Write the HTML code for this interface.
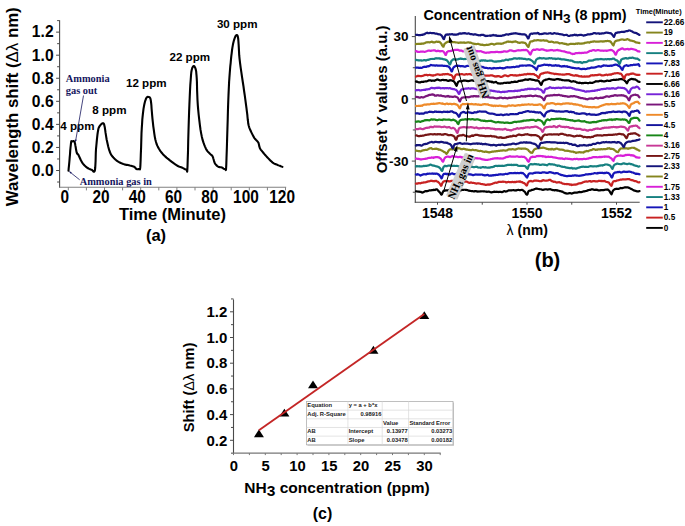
<!DOCTYPE html>
<html><head><meta charset="utf-8"><style>
html,body{margin:0;padding:0;background:#fff;width:685px;height:526px;overflow:hidden}
svg{display:block}

</style></head><body>
<svg width="685" height="526" viewBox="0 0 685 526"><line x1="59.60" y1="20.30" x2="59.60" y2="187.70" stroke="#4a4a4a" stroke-width="1.1" />
<line x1="59.10" y1="187.20" x2="286.20" y2="187.20" stroke="#808080" stroke-width="1.1" />
<line x1="57.10" y1="182.03" x2="59.60" y2="182.03" stroke="#4a4a4a" stroke-width="1.0" />
<line x1="56.10" y1="170.50" x2="59.60" y2="170.50" stroke="#4a4a4a" stroke-width="1.0" />
<text transform="translate(53.60,175.80) scale(0.92,1)" font-size="17" font-weight="bold" text-anchor="end" fill="#000" font-family='"Liberation Sans", sans-serif' >0.0</text>
<line x1="57.10" y1="158.97" x2="59.60" y2="158.97" stroke="#4a4a4a" stroke-width="1.0" />
<line x1="56.10" y1="147.44" x2="59.60" y2="147.44" stroke="#4a4a4a" stroke-width="1.0" />
<text transform="translate(53.60,152.74) scale(0.92,1)" font-size="17" font-weight="bold" text-anchor="end" fill="#000" font-family='"Liberation Sans", sans-serif' >0.2</text>
<line x1="57.10" y1="135.91" x2="59.60" y2="135.91" stroke="#4a4a4a" stroke-width="1.0" />
<line x1="56.10" y1="124.38" x2="59.60" y2="124.38" stroke="#4a4a4a" stroke-width="1.0" />
<text transform="translate(53.60,129.68) scale(0.92,1)" font-size="17" font-weight="bold" text-anchor="end" fill="#000" font-family='"Liberation Sans", sans-serif' >0.4</text>
<line x1="57.10" y1="112.85" x2="59.60" y2="112.85" stroke="#4a4a4a" stroke-width="1.0" />
<line x1="56.10" y1="101.32" x2="59.60" y2="101.32" stroke="#4a4a4a" stroke-width="1.0" />
<text transform="translate(53.60,106.62) scale(0.92,1)" font-size="17" font-weight="bold" text-anchor="end" fill="#000" font-family='"Liberation Sans", sans-serif' >0.6</text>
<line x1="57.10" y1="89.79" x2="59.60" y2="89.79" stroke="#4a4a4a" stroke-width="1.0" />
<line x1="56.10" y1="78.26" x2="59.60" y2="78.26" stroke="#4a4a4a" stroke-width="1.0" />
<text transform="translate(53.60,83.56) scale(0.92,1)" font-size="17" font-weight="bold" text-anchor="end" fill="#000" font-family='"Liberation Sans", sans-serif' >0.8</text>
<line x1="57.10" y1="66.73" x2="59.60" y2="66.73" stroke="#4a4a4a" stroke-width="1.0" />
<line x1="56.10" y1="55.20" x2="59.60" y2="55.20" stroke="#4a4a4a" stroke-width="1.0" />
<text transform="translate(53.60,60.50) scale(0.92,1)" font-size="17" font-weight="bold" text-anchor="end" fill="#000" font-family='"Liberation Sans", sans-serif' >1.0</text>
<line x1="57.10" y1="43.67" x2="59.60" y2="43.67" stroke="#4a4a4a" stroke-width="1.0" />
<line x1="56.10" y1="32.14" x2="59.60" y2="32.14" stroke="#4a4a4a" stroke-width="1.0" />
<text transform="translate(53.60,37.44) scale(0.92,1)" font-size="17" font-weight="bold" text-anchor="end" fill="#000" font-family='"Liberation Sans", sans-serif' >1.2</text>
<line x1="57.10" y1="20.61" x2="59.60" y2="20.61" stroke="#4a4a4a" stroke-width="1.0" />
<line x1="68.30" y1="187.20" x2="68.30" y2="190.40" stroke="#808080" stroke-width="1.0" />
<text transform="translate(64.90,203.00) scale(0.88,1)" font-size="17.5" font-weight="bold" text-anchor="middle" fill="#000" font-family='"Liberation Sans", sans-serif' >0</text>
<line x1="86.40" y1="187.20" x2="86.40" y2="190.40" stroke="#808080" stroke-width="1.0" />
<line x1="104.50" y1="187.20" x2="104.50" y2="190.40" stroke="#808080" stroke-width="1.0" />
<text transform="translate(101.10,203.00) scale(0.88,1)" font-size="17.5" font-weight="bold" text-anchor="middle" fill="#000" font-family='"Liberation Sans", sans-serif' >20</text>
<line x1="122.60" y1="187.20" x2="122.60" y2="190.40" stroke="#808080" stroke-width="1.0" />
<line x1="140.70" y1="187.20" x2="140.70" y2="190.40" stroke="#808080" stroke-width="1.0" />
<text transform="translate(137.30,203.00) scale(0.88,1)" font-size="17.5" font-weight="bold" text-anchor="middle" fill="#000" font-family='"Liberation Sans", sans-serif' >40</text>
<line x1="158.80" y1="187.20" x2="158.80" y2="190.40" stroke="#808080" stroke-width="1.0" />
<line x1="176.90" y1="187.20" x2="176.90" y2="190.40" stroke="#808080" stroke-width="1.0" />
<text transform="translate(173.50,203.00) scale(0.88,1)" font-size="17.5" font-weight="bold" text-anchor="middle" fill="#000" font-family='"Liberation Sans", sans-serif' >60</text>
<line x1="195.00" y1="187.20" x2="195.00" y2="190.40" stroke="#808080" stroke-width="1.0" />
<line x1="213.10" y1="187.20" x2="213.10" y2="190.40" stroke="#808080" stroke-width="1.0" />
<text transform="translate(209.70,203.00) scale(0.88,1)" font-size="17.5" font-weight="bold" text-anchor="middle" fill="#000" font-family='"Liberation Sans", sans-serif' >80</text>
<line x1="231.20" y1="187.20" x2="231.20" y2="190.40" stroke="#808080" stroke-width="1.0" />
<line x1="249.30" y1="187.20" x2="249.30" y2="190.40" stroke="#808080" stroke-width="1.0" />
<text transform="translate(245.90,203.00) scale(0.88,1)" font-size="17.5" font-weight="bold" text-anchor="middle" fill="#000" font-family='"Liberation Sans", sans-serif' >100</text>
<line x1="267.40" y1="187.20" x2="267.40" y2="190.40" stroke="#808080" stroke-width="1.0" />
<line x1="285.50" y1="187.20" x2="285.50" y2="190.40" stroke="#808080" stroke-width="1.0" />
<text transform="translate(282.10,203.00) scale(0.88,1)" font-size="17.5" font-weight="bold" text-anchor="middle" fill="#000" font-family='"Liberation Sans", sans-serif' >120</text>
<text x="172.40" y="219.90" font-size="16.5" font-weight="bold" text-anchor="middle" fill="#000" font-family='"Liberation Sans", sans-serif' textLength="107" lengthAdjust="spacingAndGlyphs" >Time (Minute)</text>
<text x="156.00" y="240.50" font-size="16.5" font-weight="bold" text-anchor="middle" fill="#000" font-family='"Liberation Sans", sans-serif' >(a)</text>
<text transform="translate(18.4,206.3) rotate(-90)" font-size="16.5" font-weight="bold" font-family='"Liberation Sans", sans-serif' textLength="199" lengthAdjust="spacingAndGlyphs">Wavelength shift (<tspan font-weight="normal">&#916;&#955;</tspan> nm)</text>
<polyline points="68.5,170.60 68.6,169.52 68.7,168.09 68.9,166.36 69.1,164.40 69.3,162.26 69.5,160.00 69.7,157.36 70.0,154.23 70.2,150.93 70.5,147.76 70.8,145.01 71.0,143.00 71.2,141.83 71.3,141.27 71.5,141.15 71.6,141.27 71.8,141.45 72.1,141.50 72.4,141.36 72.8,141.18 73.3,141.05 73.7,141.09 74.2,141.40 74.6,142.10 75.0,143.37 75.3,145.17 75.7,147.24 76.0,149.34 76.4,151.21 76.7,152.60 77.0,153.39 77.2,153.76 77.4,153.91 77.7,154.01 78.0,154.28 78.4,154.90 78.9,155.94 79.5,157.27 80.2,158.76 80.9,160.27 81.7,161.70 82.4,162.90 83.1,163.89 83.9,164.77 84.6,165.56 85.4,166.27 86.1,166.91 86.9,167.50 87.7,168.02 88.5,168.47 89.3,168.85 90.1,169.17 90.8,169.45 91.5,169.70 92.2,170.14 92.8,170.82 93.4,171.46 94.0,171.77 94.5,171.47 94.9,170.30 95.2,167.99 95.4,164.73 95.6,160.86 95.7,156.74 95.8,152.74 96.0,149.20 96.3,145.99 96.6,142.78 96.9,139.69 97.2,136.81 97.5,134.24 97.8,132.10 98.1,130.46 98.3,129.26 98.5,128.38 98.8,127.69 99.1,127.07 99.5,126.40 100.0,125.65 100.6,124.91 101.2,124.24 101.8,123.70 102.4,123.33 102.9,123.20 103.3,123.25 103.6,123.42 103.8,123.77 104.1,124.35 104.3,125.21 104.6,126.40 104.9,128.04 105.2,130.10 105.5,132.45 105.9,134.93 106.3,137.40 106.7,139.70 107.2,141.93 107.7,144.22 108.2,146.50 108.8,148.69 109.4,150.71 110.1,152.50 110.8,154.02 111.6,155.34 112.5,156.49 113.4,157.52 114.3,158.47 115.3,159.40 116.3,160.29 117.4,161.09 118.6,161.83 119.8,162.49 120.9,163.08 122.1,163.60 123.3,164.03 124.4,164.36 125.6,164.62 126.8,164.85 127.9,165.06 128.9,165.30 129.9,165.54 130.9,165.75 131.8,165.96 132.6,166.17 133.4,166.41 134.1,166.70 134.7,167.07 135.1,167.53 135.5,168.01 135.9,168.46 136.2,168.84 136.6,169.10 137.0,169.24 137.5,169.32 138.0,169.32 138.4,169.24 138.8,169.07 139.2,168.80 139.5,168.80 139.7,169.13 139.9,169.38 140.0,169.11 140.2,167.89 140.4,165.30 140.6,160.79 140.8,154.60 141.1,147.46 141.3,140.10 141.5,133.27 141.8,127.70 142.1,123.38 142.3,119.72 142.6,116.59 142.9,113.83 143.2,111.32 143.5,108.90 143.9,106.60 144.3,104.55 144.7,102.73 145.1,101.15 145.6,99.81 146.0,98.70 146.4,97.87 146.9,97.31 147.3,97.00 147.8,96.87 148.2,96.89 148.6,97.00 149.0,97.09 149.4,97.19 149.8,97.42 150.1,97.94 150.5,98.88 150.8,100.40 151.1,102.62 151.4,105.46 151.6,108.73 151.9,112.24 152.2,115.79 152.5,119.20 152.9,122.64 153.3,126.29 153.8,129.98 154.3,133.56 154.8,136.85 155.4,139.70 156.0,142.04 156.6,143.99 157.3,145.66 158.0,147.14 158.8,148.56 159.7,150.00 160.6,151.42 161.7,152.73 162.7,153.96 163.9,155.16 165.1,156.36 166.5,157.60 168.1,158.94 169.9,160.36 171.8,161.79 173.6,163.14 175.3,164.33 176.8,165.30 177.9,165.99 178.9,166.45 179.7,166.76 180.4,166.99 181.1,167.21 181.8,167.50 182.6,167.90 183.5,168.36 184.3,168.81 185.1,169.20 185.8,169.45 186.4,169.50 186.8,169.91 187.0,170.84 187.1,171.64 187.2,171.66 187.3,170.23 187.5,166.70 187.7,160.38 188.0,151.64 188.2,141.46 188.5,130.81 188.8,120.66 189.1,112.00 189.4,104.55 189.7,97.47 190.0,90.90 190.3,84.96 190.7,79.79 191.0,75.50 191.3,72.27 191.7,70.01 192.1,68.52 192.4,67.57 192.8,66.94 193.2,66.40 193.6,66.04 194.0,66.07 194.4,66.41 194.8,67.01 195.2,67.79 195.5,68.70 195.8,69.61 196.0,70.56 196.2,71.69 196.3,73.17 196.5,75.15 196.7,77.80 196.9,81.28 197.0,85.51 197.1,90.24 197.3,95.24 197.5,100.27 197.8,105.10 198.2,109.94 198.7,115.02 199.3,120.13 199.9,125.07 200.5,129.63 201.2,133.60 201.9,136.96 202.6,139.89 203.4,142.43 204.2,144.65 205.0,146.62 205.8,148.40 206.6,149.92 207.4,151.10 208.2,152.03 209.0,152.79 209.7,153.45 210.3,154.10 210.8,154.63 211.2,154.95 211.6,155.18 211.9,155.42 212.2,155.79 212.6,156.40 213.0,157.32 213.3,158.49 213.7,159.78 214.1,161.09 214.5,162.30 214.9,163.30 215.4,164.10 216.0,164.79 216.5,165.39 217.1,165.90 217.7,166.33 218.3,166.70 218.9,166.96 219.4,167.10 220.0,167.16 220.6,167.20 221.1,167.26 221.7,167.40 222.3,167.69 222.9,168.10 223.5,168.53 224.1,168.89 224.7,169.08 225.1,169.00 225.4,169.15 225.6,169.70 225.8,170.08 226.0,169.70 226.1,168.00 226.3,164.40 226.5,158.17 226.8,149.64 227.1,139.79 227.4,129.58 227.7,119.99 227.9,112.00 228.1,105.62 228.3,100.07 228.5,95.15 228.7,90.64 228.9,86.32 229.1,82.00 229.4,77.70 229.7,73.61 230.0,69.72 230.3,66.03 230.7,62.52 231.0,59.20 231.3,56.05 231.7,53.06 232.0,50.27 232.4,47.68 232.8,45.32 233.2,43.20 233.7,41.28 234.2,39.55 234.7,38.04 235.2,36.80 235.7,35.87 236.2,35.30 236.6,35.01 237.0,34.96 237.3,35.22 237.6,35.88 237.9,37.01 238.2,38.70 238.4,41.05 238.6,44.01 238.8,47.46 239.0,51.23 239.2,55.19 239.6,59.20 240.1,63.38 240.7,67.88 241.4,72.56 242.1,77.31 242.8,82.00 243.5,86.50 244.1,91.00 244.8,95.65 245.4,100.23 246.0,104.55 246.5,108.41 246.9,111.60 247.2,113.99 247.4,115.71 247.5,116.97 247.6,117.97 247.7,118.91 247.8,120.00 248.0,121.17 248.1,122.26 248.2,123.28 248.4,124.28 248.6,125.27 248.9,126.30 249.2,127.36 249.6,128.42 250.1,129.49 250.5,130.54 251.0,131.58 251.5,132.60 252.0,133.60 252.5,134.60 253.0,135.58 253.5,136.53 254.0,137.44 254.6,138.30 255.2,139.09 255.9,139.81 256.6,140.49 257.2,141.16 257.8,141.82 258.3,142.50 258.6,143.21 258.8,143.94 259.0,144.67 259.1,145.38 259.2,146.06 259.4,146.70 259.6,147.24 259.7,147.70 259.9,148.12 260.1,148.57 260.4,149.11 260.9,149.80 261.6,150.66 262.4,151.66 263.3,152.75 264.2,153.88 265.2,155.01 266.2,156.10 267.2,157.20 268.3,158.36 269.4,159.51 270.4,160.61 271.5,161.59 272.4,162.40 273.2,162.99 273.9,163.40 274.5,163.69 275.2,163.93 275.8,164.18 276.6,164.50 277.5,164.91 278.6,165.37 279.8,165.83 280.8,166.27 281.8,166.64 282.4,166.90" fill="none" stroke="#000" stroke-width="2.1" stroke-linejoin="round" stroke-linecap="round" />
<text x="60.30" y="129.60" font-size="11.6" font-weight="bold" text-anchor="start" fill="#000" font-family='"Liberation Sans", sans-serif' >4 ppm</text>
<text x="92.30" y="113.80" font-size="11.6" font-weight="bold" text-anchor="start" fill="#000" font-family='"Liberation Sans", sans-serif' >8 ppm</text>
<text x="126.00" y="87.00" font-size="11.6" font-weight="bold" text-anchor="start" fill="#000" font-family='"Liberation Sans", sans-serif' >12 ppm</text>
<text x="169.50" y="61.20" font-size="11.6" font-weight="bold" text-anchor="start" fill="#000" font-family='"Liberation Sans", sans-serif' >22 ppm</text>
<text x="216.90" y="28.20" font-size="11.6" font-weight="bold" text-anchor="start" fill="#000" font-family='"Liberation Sans", sans-serif' >30 ppm</text>
<text x="65.80" y="82.20" font-size="10.4" font-weight="bold" text-anchor="start" fill="#16165e" font-family='"Liberation Serif", serif' >Ammonia</text>
<text x="65.80" y="94.20" font-size="10.4" font-weight="bold" text-anchor="start" fill="#16165e" font-family='"Liberation Serif", serif' >gas out</text>
<line x1="83.50" y1="95.50" x2="75.60" y2="141.00" stroke="#16165e" stroke-width="0.8" />
<polygon points="75.30,142.60 74.83,139.47 76.80,139.82" fill="#16165e"/>
<text x="79.70" y="184.70" font-size="10.4" font-weight="bold" text-anchor="start" fill="#16165e" font-family='"Liberation Serif", serif' >Ammonia gas in</text>
<line x1="79.70" y1="179.80" x2="70.50" y2="172.50" stroke="#16165e" stroke-width="0.8" />
<polygon points="68.80,171.10 71.77,172.19 70.52,173.75" fill="#16165e"/>
<line x1="415.30" y1="15.90" x2="415.30" y2="202.70" stroke="#4a4a4a" stroke-width="1.1" />
<line x1="414.80" y1="202.20" x2="639.70" y2="202.20" stroke="#4a4a4a" stroke-width="1.1" />
<line x1="411.80" y1="36.60" x2="415.30" y2="36.60" stroke="#4a4a4a" stroke-width="1.0" />
<text x="408.50" y="41.40" font-size="13.5" font-weight="bold" text-anchor="end" fill="#000" font-family='"Liberation Sans", sans-serif' >30</text>
<line x1="412.80" y1="67.72" x2="415.30" y2="67.72" stroke="#4a4a4a" stroke-width="1.0" />
<line x1="411.80" y1="98.85" x2="415.30" y2="98.85" stroke="#4a4a4a" stroke-width="1.0" />
<text x="408.50" y="103.65" font-size="13.5" font-weight="bold" text-anchor="end" fill="#000" font-family='"Liberation Sans", sans-serif' >0</text>
<line x1="412.80" y1="129.97" x2="415.30" y2="129.97" stroke="#4a4a4a" stroke-width="1.0" />
<line x1="411.80" y1="161.10" x2="415.30" y2="161.10" stroke="#4a4a4a" stroke-width="1.0" />
<text x="408.50" y="165.90" font-size="13.5" font-weight="bold" text-anchor="end" fill="#000" font-family='"Liberation Sans", sans-serif' >-30</text>
<line x1="412.80" y1="192.23" x2="415.30" y2="192.23" stroke="#4a4a4a" stroke-width="1.0" />
<line x1="437.50" y1="202.20" x2="437.50" y2="204.70" stroke="#4a4a4a" stroke-width="1.0" />
<text x="437.50" y="217.60" font-size="14" font-weight="bold" text-anchor="middle" fill="#000" font-family='"Liberation Sans", sans-serif' >1548</text>
<line x1="482.25" y1="202.20" x2="482.25" y2="204.70" stroke="#4a4a4a" stroke-width="1.0" />
<line x1="527.00" y1="202.20" x2="527.00" y2="204.70" stroke="#4a4a4a" stroke-width="1.0" />
<text x="527.00" y="217.60" font-size="14" font-weight="bold" text-anchor="middle" fill="#000" font-family='"Liberation Sans", sans-serif' >1550</text>
<line x1="571.75" y1="202.20" x2="571.75" y2="204.70" stroke="#4a4a4a" stroke-width="1.0" />
<line x1="616.50" y1="202.20" x2="616.50" y2="204.70" stroke="#4a4a4a" stroke-width="1.0" />
<text x="616.50" y="217.60" font-size="14" font-weight="bold" text-anchor="middle" fill="#000" font-family='"Liberation Sans", sans-serif' >1552</text>
<text x="527.20" y="235.00" font-size="14" font-weight="bold" text-anchor="middle" fill="#000" font-family='"Liberation Sans", sans-serif' ><tspan font-weight="normal">&#955;</tspan> (nm)</text>
<text x="547.50" y="267.00" font-size="20" font-weight="bold" text-anchor="middle" fill="#000" font-family='"Liberation Sans", sans-serif' >(b)</text>
<text x="423.5" y="19.9" font-size="14.2" font-weight="bold" font-family='"Liberation Sans", sans-serif' textLength="203" lengthAdjust="spacingAndGlyphs">Concentration of NH<tspan font-size="13.5" dy="3">3</tspan><tspan dy="-3"> (8 ppm)</tspan></text>
<text transform="translate(387.3,173.3) rotate(-90)" font-size="15" font-weight="bold" font-family='"Liberation Sans", sans-serif'>Offset Y values (a.u.)</text>
<polyline points="416.0,191.27 416.5,191.30 417.0,191.43 417.5,191.54 418.0,191.68 418.5,191.61 419.0,191.65 419.5,191.71 420.0,191.83 420.5,191.95 421.0,191.97 421.5,192.33 422.0,192.32 422.5,192.53 423.0,192.22 423.5,192.15 424.0,191.75 424.5,191.60 425.0,191.25 425.5,191.20 426.0,191.15 426.5,191.33 427.0,191.07 427.5,191.09 428.0,191.01 428.5,190.69 429.0,190.53 429.5,190.42 430.0,190.45 430.5,190.40 431.0,190.35 431.5,190.18 432.0,190.11 432.5,190.09 433.0,189.92 433.5,190.08 434.0,189.89 434.5,189.80 435.0,190.09 435.5,189.82 436.0,189.35 436.5,189.43 437.0,189.43 437.5,189.87 438.0,190.54 438.5,191.13 439.0,191.54 439.5,192.16 440.0,192.59 440.5,193.23 441.0,194.16 441.5,194.68 442.0,194.22 442.5,192.91 443.0,191.72 443.5,190.94 444.0,190.62 444.5,190.84 445.0,190.61 445.5,190.41 446.0,190.33 446.5,190.43 447.0,190.53 447.5,190.50 448.0,190.27 448.5,190.03 449.0,189.95 449.5,189.85 450.0,189.60 450.5,189.32 451.0,189.43 451.5,189.42 452.0,189.53 452.5,189.81 453.0,189.89 453.5,190.07 454.0,190.13 454.5,190.13 455.0,190.12 455.5,190.00 456.0,189.93 456.5,190.06 457.0,190.24 457.5,190.26 458.0,190.18 458.5,190.31 459.0,190.46 459.5,190.28 460.0,190.33 460.5,190.22 461.0,190.30 461.5,190.07 462.0,190.01 462.5,189.92 463.0,189.84 463.5,189.84 464.0,189.75 464.5,189.77 465.0,189.76 465.5,189.86 466.0,189.76 466.5,190.02 467.0,190.09 467.5,190.10 468.0,190.22 468.5,190.66 469.0,190.66 469.5,190.67 470.0,190.85 470.5,190.95 471.0,191.03 471.5,191.09 472.0,191.13 472.5,191.14 473.0,191.28 473.5,191.35 474.0,191.38 474.5,191.35 475.0,191.02 475.5,191.06 476.0,191.15 476.5,191.38 477.0,191.37 477.5,191.59 478.0,191.67 478.5,191.53 479.0,191.43 479.5,191.52 480.0,191.55 480.5,191.44 481.0,191.52 481.5,191.27 482.0,191.24 482.5,191.23 483.0,191.35 483.5,191.25 484.0,191.40 484.5,191.34 485.0,191.49 485.5,191.52 486.0,191.68 486.5,191.69 487.0,191.81 487.5,191.71 488.0,191.62 488.5,191.60 489.0,191.62 489.5,191.72 490.0,191.91 490.5,192.14 491.0,192.39 491.5,192.37 492.0,192.19 492.5,192.09 493.0,192.13 493.5,191.84 494.0,191.98 494.5,191.66 495.0,191.79 495.5,191.84 496.0,191.84 496.5,191.70 497.0,191.95 497.5,191.97 498.0,192.00 498.5,192.05 499.0,191.82 499.5,191.82 500.0,191.81 500.5,191.79 501.0,191.84 501.5,192.16 502.0,192.20 502.5,192.04 503.0,191.66 503.5,191.42 504.0,191.30 504.5,191.03 505.0,191.41 505.5,191.55 506.0,191.59 506.5,191.41 507.0,191.26 507.5,190.97 508.0,190.78 508.5,190.35 509.0,190.34 509.5,190.38 510.0,190.34 510.5,190.32 511.0,190.42 511.5,190.43 512.0,190.24 512.5,190.25 513.0,190.20 513.5,190.14 514.0,190.31 514.5,190.50 515.0,190.44 515.5,190.27 516.0,190.53 516.5,190.40 517.0,190.13 517.5,189.99 518.0,189.95 518.5,189.93 519.0,190.01 519.5,190.11 520.0,190.19 520.5,190.06 521.0,189.96 521.5,189.99 522.0,189.91 522.5,190.08 523.0,190.23 523.5,190.81 524.0,191.18 524.5,191.56 525.0,192.01 525.5,192.99 526.0,193.87 526.5,194.35 527.0,194.83 527.5,194.17 528.0,192.42 528.5,191.27 529.0,190.89 529.5,190.76 530.0,190.54 530.5,190.54 531.0,190.48 531.5,190.08 532.0,189.86 532.5,189.76 533.0,189.79 533.5,189.70 534.0,189.39 534.5,189.14 535.0,188.99 535.5,188.80 536.0,188.56 536.5,188.78 537.0,188.68 537.5,188.78 538.0,188.91 538.5,188.98 539.0,188.98 539.5,189.23 540.0,189.25 540.5,189.27 541.0,189.23 541.5,189.46 542.0,189.62 542.5,189.76 543.0,189.99 543.5,189.81 544.0,189.61 544.5,189.52 545.0,189.38 545.5,189.27 546.0,189.25 546.5,189.29 547.0,189.39 547.5,189.64 548.0,189.48 548.5,189.35 549.0,189.33 549.5,189.23 550.0,189.13 550.5,189.27 551.0,189.58 551.5,189.75 552.0,189.87 552.5,190.07 553.0,190.07 553.5,190.18 554.0,190.08 554.5,190.41 555.0,190.17 555.5,190.03 556.0,190.21 556.5,190.33 557.0,190.16 557.5,190.50 558.0,190.77 558.5,190.70 559.0,190.76 559.5,190.97 560.0,191.18 560.5,191.06 561.0,191.38 561.5,191.41 562.0,191.66 562.5,191.60 563.0,192.07 563.5,192.40 564.0,192.60 564.5,192.78 565.0,193.12 565.5,193.32 566.0,193.25 566.5,193.28 567.0,193.64 567.5,193.50 568.0,193.51 568.5,193.39 569.0,193.18 569.5,193.14 570.0,193.17 570.5,193.13 571.0,193.37 571.5,193.55 572.0,193.54 572.5,193.31 573.0,193.16 573.5,192.84 574.0,192.80 574.5,192.55 575.0,192.54 575.5,192.58 576.0,192.59 576.5,192.57 577.0,192.59 577.5,192.43 578.0,192.46 578.5,192.11 579.0,192.18 579.5,191.96 580.0,191.96 580.5,192.06 581.0,192.17 581.5,192.16 582.0,191.87 582.5,191.82 583.0,191.64 583.5,191.37 584.0,191.25 584.5,191.40 585.0,191.29 585.5,190.99 586.0,190.99 586.5,190.94 587.0,190.55 587.5,190.57 588.0,190.15 588.5,190.17 589.0,190.04 589.5,189.89 590.0,189.85 590.5,189.91 591.0,189.62 591.5,189.27 592.0,189.49 592.5,189.31 593.0,189.41 593.5,189.59 594.0,189.90 594.5,189.81 595.0,189.87 595.5,189.76 596.0,189.63 596.5,189.98 597.0,189.87 597.5,189.95 598.0,190.22 598.5,190.34 599.0,190.27 599.5,190.37 600.0,190.46 600.5,190.25 601.0,189.99 601.5,190.08 602.0,190.13 602.5,190.19 603.0,190.20 603.5,190.06 604.0,190.08 604.5,189.85 605.0,189.74 605.5,189.66 606.0,189.55 606.5,189.64 607.0,189.60 607.5,189.46 608.0,189.63 608.5,190.21 609.0,190.61 609.5,191.00 610.0,191.94 610.5,192.85 611.0,193.67 611.5,194.32 612.0,193.27 612.5,191.64 613.0,190.71 613.5,190.14 614.0,189.71 614.5,189.29 615.0,189.12 615.5,189.06 616.0,188.87 616.5,188.69 617.0,188.86 617.5,188.94 618.0,188.91 618.5,188.88 619.0,188.71 619.5,188.50 620.0,188.31 620.5,187.95 621.0,188.11 621.5,188.13 622.0,188.26 622.5,188.18 623.0,187.85 623.5,187.72 624.0,187.60 624.5,187.39 625.0,187.28 625.5,187.50 626.0,187.38 626.5,187.36 627.0,187.39 627.5,187.33 628.0,187.32 628.5,187.72 629.0,187.84 629.5,188.08 630.0,188.28 630.5,188.75 631.0,188.84 631.5,189.02 632.0,189.22 632.5,189.67 633.0,189.77 633.5,190.21 634.0,190.51 634.5,190.60 635.0,190.66 635.5,190.87 636.0,191.10 636.5,191.05 637.0,191.39 637.5,191.39 638.0,191.41 638.5,191.42 639.0,191.26 639.5,191.05" fill="none" stroke="#000000" stroke-width="2.2" stroke-linejoin="round" stroke-linecap="round" />
<polyline points="416.0,183.66 416.5,183.45 417.0,183.62 417.5,183.57 418.0,183.31 418.5,183.33 419.0,183.13 419.5,183.25 420.0,183.28 420.5,183.29 421.0,183.05 421.5,183.02 422.0,182.70 422.5,182.74 423.0,182.68 423.5,182.57 424.0,182.36 424.5,182.49 425.0,182.50 425.5,182.28 426.0,182.22 426.5,181.90 427.0,181.80 427.5,181.69 428.0,181.41 428.5,181.36 429.0,181.38 429.5,181.25 430.0,181.14 430.5,180.88 431.0,180.69 431.5,180.75 432.0,180.82 432.5,181.06 433.0,181.11 433.5,181.14 434.0,181.30 434.5,181.25 435.0,180.95 435.5,181.06 436.0,180.88 436.5,181.10 437.0,181.37 437.5,181.75 438.0,181.91 438.5,182.40 439.0,182.73 439.5,183.23 440.0,184.00 440.5,184.90 441.0,185.78 441.5,185.53 442.0,183.86 442.5,182.89 443.0,182.09 443.5,181.67 444.0,181.37 444.5,181.21 445.0,181.00 445.5,180.95 446.0,181.07 446.5,181.43 447.0,181.23 447.5,181.17 448.0,181.12 448.5,181.29 449.0,181.18 449.5,181.35 450.0,181.42 450.5,181.26 451.0,180.94 451.5,180.88 452.0,180.84 452.5,180.77 453.0,180.80 453.5,180.97 454.0,181.12 454.5,181.02 455.0,181.18 455.5,181.33 456.0,181.51 456.5,181.14 457.0,181.28 457.5,181.17 458.0,180.94 458.5,181.05 459.0,181.17 459.5,180.96 460.0,180.98 460.5,180.99 461.0,181.09 461.5,181.15 462.0,181.36 462.5,181.53 463.0,181.62 463.5,181.72 464.0,181.51 464.5,181.50 465.0,181.71 465.5,181.65 466.0,181.49 466.5,181.51 467.0,181.80 467.5,182.01 468.0,182.22 468.5,182.69 469.0,182.76 469.5,182.87 470.0,182.65 470.5,182.49 471.0,182.42 471.5,182.71 472.0,182.76 472.5,182.84 473.0,182.97 473.5,182.88 474.0,183.00 474.5,183.13 475.0,183.32 475.5,183.23 476.0,183.53 476.5,183.67 477.0,183.49 477.5,183.35 478.0,183.25 478.5,183.48 479.0,183.46 479.5,183.51 480.0,183.64 480.5,183.84 481.0,183.98 481.5,183.99 482.0,184.18 482.5,184.18 483.0,184.29 483.5,184.24 484.0,184.28 484.5,184.44 485.0,184.76 485.5,184.88 486.0,184.90 486.5,184.86 487.0,184.64 487.5,184.45 488.0,184.66 488.5,184.59 489.0,184.31 489.5,184.55 490.0,184.64 490.5,184.34 491.0,184.20 491.5,184.11 492.0,183.90 492.5,183.67 493.0,183.44 493.5,183.24 494.0,183.13 494.5,182.90 495.0,182.73 495.5,182.66 496.0,182.62 496.5,182.84 497.0,182.75 497.5,182.58 498.0,182.23 498.5,181.92 499.0,181.89 499.5,181.76 500.0,181.84 500.5,181.86 501.0,181.75 501.5,181.80 502.0,181.84 502.5,181.68 503.0,181.54 503.5,181.81 504.0,181.76 504.5,181.77 505.0,181.85 505.5,181.97 506.0,182.40 506.5,182.39 507.0,182.15 507.5,182.03 508.0,182.06 508.5,181.93 509.0,182.04 509.5,181.99 510.0,182.19 510.5,182.04 511.0,182.15 511.5,182.13 512.0,181.92 512.5,181.83 513.0,182.05 513.5,182.04 514.0,182.19 514.5,181.95 515.0,181.97 515.5,182.24 516.0,182.04 516.5,181.72 517.0,181.74 517.5,181.73 518.0,181.59 518.5,181.60 519.0,181.47 519.5,181.79 520.0,181.70 520.5,181.46 521.0,181.96 521.5,182.26 522.0,182.07 522.5,182.27 523.0,182.93 523.5,182.92 524.0,183.10 524.5,183.32 525.0,183.75 525.5,184.53 526.0,184.96 526.5,185.57 527.0,185.31 527.5,183.73 528.0,182.44 528.5,181.94 529.0,181.38 529.5,181.22 530.0,181.18 530.5,181.02 531.0,180.88 531.5,181.21 532.0,181.30 532.5,181.31 533.0,181.29 533.5,181.03 534.0,180.72 534.5,180.58 535.0,180.53 535.5,180.60 536.0,180.71 536.5,180.67 537.0,180.80 537.5,180.76 538.0,180.69 538.5,180.82 539.0,180.95 539.5,181.13 540.0,181.22 540.5,181.16 541.0,181.08 541.5,181.14 542.0,180.65 542.5,180.58 543.0,180.16 543.5,180.15 544.0,180.42 544.5,180.57 545.0,180.73 545.5,180.75 546.0,180.56 546.5,180.55 547.0,180.68 547.5,180.55 548.0,180.40 548.5,180.21 549.0,179.95 549.5,179.85 550.0,179.84 550.5,180.10 551.0,180.47 551.5,181.18 552.0,181.09 552.5,181.26 553.0,181.50 553.5,181.86 554.0,181.63 554.5,181.77 555.0,181.87 555.5,181.91 556.0,182.22 556.5,182.48 557.0,182.55 557.5,182.41 558.0,182.37 558.5,182.23 559.0,182.14 559.5,182.34 560.0,182.63 560.5,182.60 561.0,182.49 561.5,182.81 562.0,183.17 562.5,183.44 563.0,183.72 563.5,183.74 564.0,183.81 564.5,184.03 565.0,183.99 565.5,183.98 566.0,184.08 566.5,184.21 567.0,183.91 567.5,184.14 568.0,184.21 568.5,184.27 569.0,184.21 569.5,184.54 570.0,184.60 570.5,184.54 571.0,184.43 571.5,185.08 572.0,185.03 572.5,184.74 573.0,184.72 573.5,184.78 574.0,184.59 574.5,184.68 575.0,184.46 575.5,184.71 576.0,184.58 576.5,184.39 577.0,184.20 577.5,184.21 578.0,183.65 578.5,183.54 579.0,183.44 579.5,183.51 580.0,183.25 580.5,183.30 581.0,183.12 581.5,183.08 582.0,182.75 582.5,182.63 583.0,182.24 583.5,182.18 584.0,182.04 584.5,181.72 585.0,181.56 585.5,181.63 586.0,181.38 586.5,181.43 587.0,181.61 587.5,181.58 588.0,181.52 588.5,181.39 589.0,181.27 589.5,181.05 590.0,181.24 590.5,181.11 591.0,181.63 591.5,181.53 592.0,181.54 592.5,181.29 593.0,181.18 593.5,181.19 594.0,181.12 594.5,181.03 595.0,181.31 595.5,181.30 596.0,181.45 596.5,181.36 597.0,181.30 597.5,181.40 598.0,181.21 598.5,180.85 599.0,180.76 599.5,180.83 600.0,180.81 600.5,181.07 601.0,181.23 601.5,180.91 602.0,181.08 602.5,181.21 603.0,180.95 603.5,181.12 604.0,181.05 604.5,180.95 605.0,181.31 605.5,181.52 606.0,181.78 606.5,181.98 607.0,182.03 607.5,182.15 608.0,182.33 608.5,182.36 609.0,182.70 609.5,183.50 610.0,184.31 610.5,184.88 611.0,185.56 611.5,185.79 612.0,184.64 612.5,182.85 613.0,181.89 613.5,181.36 614.0,181.25 614.5,181.06 615.0,181.15 615.5,181.21 616.0,181.02 616.5,180.64 617.0,180.48 617.5,180.49 618.0,180.33 618.5,180.25 619.0,180.08 619.5,180.02 620.0,179.83 620.5,179.65 621.0,179.65 621.5,179.58 622.0,179.56 622.5,179.40 623.0,179.43 623.5,179.31 624.0,179.48 624.5,179.47 625.0,179.50 625.5,179.39 626.0,179.28 626.5,179.28 627.0,179.20 627.5,179.05 628.0,178.99 628.5,179.05 629.0,179.00 629.5,179.28 630.0,179.57 630.5,179.76 631.0,179.90 631.5,180.14 632.0,180.11 632.5,180.16 633.0,180.40 633.5,180.49 634.0,180.84 634.5,180.96 635.0,181.21 635.5,181.10 636.0,181.28 636.5,181.39 637.0,181.65 637.5,181.97 638.0,182.27 638.5,182.32 639.0,182.41 639.5,182.20" fill="none" stroke="#c82222" stroke-width="2.2" stroke-linejoin="round" stroke-linecap="round" />
<polyline points="416.0,174.43 416.5,174.74 417.0,174.73 417.5,174.20 418.0,174.29 418.5,174.53 419.0,174.70 419.5,174.81 420.0,175.14 420.5,175.54 421.0,175.31 421.5,175.11 422.0,174.84 422.5,174.71 423.0,174.35 423.5,174.49 424.0,174.23 424.5,174.27 425.0,174.18 425.5,174.35 426.0,174.22 426.5,174.33 427.0,173.78 427.5,173.67 428.0,173.90 428.5,173.76 429.0,173.66 429.5,173.64 430.0,173.76 430.5,173.72 431.0,173.65 431.5,173.53 432.0,173.65 432.5,173.44 433.0,173.71 433.5,173.79 434.0,173.69 434.5,173.63 435.0,173.82 435.5,173.85 436.0,173.63 436.5,173.48 437.0,173.66 437.5,173.87 438.0,174.25 438.5,174.41 439.0,174.86 439.5,175.38 440.0,175.90 440.5,176.74 441.0,177.58 441.5,178.27 442.0,177.88 442.5,176.12 443.0,174.94 443.5,174.35 444.0,173.83 444.5,173.92 445.0,173.75 445.5,173.71 446.0,173.95 446.5,174.15 447.0,173.69 447.5,173.97 448.0,174.27 448.5,174.01 449.0,174.24 449.5,174.56 450.0,174.48 450.5,173.97 451.0,173.70 451.5,173.53 452.0,173.45 452.5,173.46 453.0,173.87 453.5,174.12 454.0,174.02 454.5,174.07 455.0,174.30 455.5,174.23 456.0,174.08 456.5,173.86 457.0,173.70 457.5,173.60 458.0,173.71 458.5,173.74 459.0,173.94 459.5,173.93 460.0,174.13 460.5,173.92 461.0,174.09 461.5,174.12 462.0,174.25 462.5,173.96 463.0,173.97 463.5,173.69 464.0,173.63 464.5,173.67 465.0,173.85 465.5,173.96 466.0,174.35 466.5,174.22 467.0,174.18 467.5,174.12 468.0,174.15 468.5,173.96 469.0,174.33 469.5,174.30 470.0,174.26 470.5,174.27 471.0,174.60 471.5,174.60 472.0,174.74 472.5,174.98 473.0,175.21 473.5,175.14 474.0,174.79 474.5,174.78 475.0,174.71 475.5,174.47 476.0,174.38 476.5,174.61 477.0,174.55 477.5,174.64 478.0,174.52 478.5,174.57 479.0,174.57 479.5,174.65 480.0,174.62 480.5,174.61 481.0,174.50 481.5,174.49 482.0,174.54 482.5,174.73 483.0,175.04 483.5,175.02 484.0,175.02 484.5,175.38 485.0,175.51 485.5,175.27 486.0,175.20 486.5,175.14 487.0,175.07 487.5,174.85 488.0,175.04 488.5,175.26 489.0,175.64 489.5,175.69 490.0,175.66 490.5,175.57 491.0,175.43 491.5,175.70 492.0,175.39 492.5,175.24 493.0,175.16 493.5,175.43 494.0,175.25 494.5,175.06 495.0,175.09 495.5,175.11 496.0,174.79 496.5,174.96 497.0,174.86 497.5,174.91 498.0,174.90 498.5,174.58 499.0,174.41 499.5,174.55 500.0,174.38 500.5,174.17 501.0,174.39 501.5,174.35 502.0,174.31 502.5,174.48 503.0,174.59 503.5,174.36 504.0,174.40 504.5,174.20 505.0,174.06 505.5,173.93 506.0,173.91 506.5,174.02 507.0,174.08 507.5,173.96 508.0,173.68 508.5,173.66 509.0,173.37 509.5,173.15 510.0,173.08 510.5,172.99 511.0,173.00 511.5,173.25 512.0,173.12 512.5,173.25 513.0,173.23 513.5,173.16 514.0,173.15 514.5,173.06 515.0,172.87 515.5,173.04 516.0,173.28 516.5,172.99 517.0,173.00 517.5,172.97 518.0,173.17 518.5,173.14 519.0,173.04 519.5,173.13 520.0,172.97 520.5,172.96 521.0,172.96 521.5,173.09 522.0,172.83 522.5,173.14 523.0,173.15 523.5,173.59 524.0,174.01 524.5,174.55 525.0,175.01 525.5,175.79 526.0,176.33 526.5,176.99 527.0,177.62 527.5,176.78 528.0,175.34 528.5,174.20 529.0,173.72 529.5,173.43 530.0,173.50 530.5,173.39 531.0,173.38 531.5,173.44 532.0,173.48 532.5,173.57 533.0,173.38 533.5,173.21 534.0,172.89 534.5,172.88 535.0,172.97 535.5,172.68 536.0,172.67 536.5,172.70 537.0,172.75 537.5,172.61 538.0,172.69 538.5,172.72 539.0,172.72 539.5,172.96 540.0,172.86 540.5,172.80 541.0,172.78 541.5,172.84 542.0,172.54 542.5,172.42 543.0,172.37 543.5,172.46 544.0,172.35 544.5,172.41 545.0,172.52 545.5,172.51 546.0,172.82 546.5,172.85 547.0,173.02 547.5,172.76 548.0,172.81 548.5,172.57 549.0,172.43 549.5,172.03 550.0,172.13 550.5,172.29 551.0,172.50 551.5,172.42 552.0,172.63 552.5,172.87 553.0,172.78 553.5,173.11 554.0,173.21 554.5,173.46 555.0,173.38 555.5,173.34 556.0,173.08 556.5,173.02 557.0,173.13 557.5,173.25 558.0,173.36 558.5,173.72 559.0,173.97 559.5,174.16 560.0,174.51 560.5,174.67 561.0,174.91 561.5,174.83 562.0,175.30 562.5,175.14 563.0,175.31 563.5,175.48 564.0,175.74 564.5,175.69 565.0,175.88 565.5,175.93 566.0,176.05 566.5,176.13 567.0,176.15 567.5,176.10 568.0,176.09 568.5,175.88 569.0,175.80 569.5,176.00 570.0,175.89 570.5,175.82 571.0,175.83 571.5,175.85 572.0,175.70 572.5,175.47 573.0,175.57 573.5,175.64 574.0,175.40 574.5,175.46 575.0,175.45 575.5,175.43 576.0,175.47 576.5,175.72 577.0,175.75 577.5,175.53 578.0,175.74 578.5,175.77 579.0,175.93 579.5,175.78 580.0,175.65 580.5,175.58 581.0,175.55 581.5,175.46 582.0,175.44 582.5,175.22 583.0,175.12 583.5,175.15 584.0,174.98 584.5,174.89 585.0,174.69 585.5,174.54 586.0,174.26 586.5,174.36 587.0,174.28 587.5,174.25 588.0,174.35 588.5,174.17 589.0,174.25 589.5,174.16 590.0,174.20 590.5,174.00 591.0,174.09 591.5,173.81 592.0,173.74 592.5,173.74 593.0,173.64 593.5,173.47 594.0,173.30 594.5,173.09 595.0,173.14 595.5,173.24 596.0,173.25 596.5,173.47 597.0,173.39 597.5,173.39 598.0,172.88 598.5,172.99 599.0,173.03 599.5,172.88 600.0,172.85 600.5,172.94 601.0,172.85 601.5,172.73 602.0,173.02 602.5,172.94 603.0,172.92 603.5,173.18 604.0,173.19 604.5,172.89 605.0,173.07 605.5,172.95 606.0,172.71 606.5,172.55 607.0,172.69 607.5,172.91 608.0,172.84 608.5,173.23 609.0,173.48 609.5,173.80 610.0,174.54 610.5,175.33 611.0,176.34 611.5,177.15 612.0,177.49 612.5,176.68 613.0,174.89 613.5,173.68 614.0,173.14 614.5,172.82 615.0,172.58 615.5,172.55 616.0,172.40 616.5,172.49 617.0,172.28 617.5,172.23 618.0,171.84 618.5,172.14 619.0,171.84 619.5,171.85 620.0,172.04 620.5,172.39 621.0,172.29 621.5,172.39 622.0,172.24 622.5,172.08 623.0,171.83 623.5,171.68 624.0,171.46 624.5,171.67 625.0,171.85 625.5,171.95 626.0,172.04 626.5,171.89 627.0,171.85 627.5,172.00 628.0,171.78 628.5,171.66 629.0,171.56 629.5,171.57 630.0,171.72 630.5,171.86 631.0,171.86 631.5,172.13 632.0,172.47 632.5,172.51 633.0,172.50 633.5,172.73 634.0,173.12 634.5,173.40 635.0,173.30 635.5,173.65 636.0,173.97 636.5,173.58 637.0,173.67 637.5,173.98 638.0,173.98 638.5,173.92 639.0,174.18 639.5,174.30" fill="none" stroke="#1616b8" stroke-width="2.2" stroke-linejoin="round" stroke-linecap="round" />
<polyline points="416.0,166.29 416.5,166.07 417.0,166.39 417.5,166.18 418.0,166.26 418.5,166.26 419.0,166.46 419.5,166.22 420.0,166.41 420.5,166.28 421.0,166.41 421.5,166.37 422.0,166.41 422.5,166.29 423.0,166.15 423.5,165.94 424.0,165.89 424.5,166.04 425.0,166.01 425.5,165.91 426.0,165.87 426.5,165.91 427.0,165.80 427.5,165.56 428.0,165.61 428.5,165.37 429.0,165.20 429.5,165.07 430.0,164.83 430.5,164.52 431.0,164.74 431.5,164.96 432.0,165.17 432.5,165.50 433.0,165.57 433.5,165.45 434.0,165.61 434.5,165.78 435.0,166.04 435.5,166.21 436.0,166.23 436.5,166.41 437.0,166.44 437.5,166.65 438.0,166.72 438.5,166.96 439.0,167.28 439.5,167.68 440.0,168.23 440.5,168.62 441.0,169.65 441.5,170.60 442.0,170.93 442.5,170.32 443.0,168.41 443.5,166.99 444.0,166.57 444.5,165.96 445.0,165.99 445.5,165.75 446.0,166.28 446.5,166.10 447.0,166.16 447.5,165.76 448.0,165.73 448.5,165.54 449.0,165.67 449.5,165.61 450.0,165.68 450.5,165.47 451.0,165.86 451.5,165.85 452.0,166.03 452.5,165.93 453.0,165.91 453.5,165.78 454.0,166.00 454.5,165.82 455.0,165.99 455.5,165.98 456.0,165.97 456.5,165.83 457.0,165.86 457.5,166.01 458.0,166.03 458.5,166.52 459.0,166.54 459.5,166.58 460.0,166.53 460.5,166.35 461.0,166.38 461.5,166.32 462.0,166.65 462.5,166.41 463.0,166.52 463.5,166.74 464.0,166.52 464.5,166.25 465.0,166.39 465.5,166.09 466.0,166.05 466.5,166.27 467.0,166.47 467.5,166.44 468.0,166.29 468.5,166.32 469.0,166.31 469.5,166.17 470.0,166.29 470.5,166.69 471.0,166.65 471.5,166.93 472.0,167.02 472.5,166.80 473.0,166.96 473.5,167.16 474.0,167.06 474.5,167.06 475.0,167.02 475.5,166.96 476.0,166.93 476.5,166.72 477.0,166.85 477.5,167.23 478.0,167.44 478.5,167.53 479.0,167.50 479.5,167.49 480.0,167.58 480.5,167.80 481.0,167.59 481.5,167.42 482.0,167.24 482.5,167.15 483.0,167.13 483.5,167.05 484.0,167.23 484.5,167.51 485.0,167.24 485.5,167.20 486.0,167.44 486.5,167.54 487.0,167.65 487.5,167.72 488.0,167.65 488.5,167.69 489.0,167.53 489.5,167.76 490.0,167.42 490.5,167.37 491.0,167.17 491.5,167.12 492.0,167.16 492.5,167.12 493.0,166.89 493.5,166.71 494.0,166.64 494.5,166.10 495.0,165.99 495.5,165.94 496.0,166.02 496.5,165.90 497.0,166.00 497.5,166.06 498.0,165.88 498.5,165.89 499.0,165.71 499.5,165.87 500.0,165.81 500.5,165.77 501.0,165.82 501.5,165.86 502.0,165.67 502.5,165.75 503.0,165.98 503.5,165.96 504.0,165.90 504.5,165.78 505.0,165.66 505.5,165.55 506.0,165.34 506.5,165.29 507.0,165.01 507.5,164.94 508.0,164.86 508.5,164.89 509.0,164.90 509.5,164.93 510.0,164.83 510.5,164.83 511.0,164.93 511.5,164.73 512.0,165.07 512.5,165.00 513.0,164.95 513.5,164.94 514.0,165.06 514.5,164.91 515.0,164.91 515.5,164.94 516.0,164.96 516.5,164.96 517.0,164.95 517.5,165.28 518.0,165.69 518.5,165.78 519.0,165.93 519.5,166.02 520.0,166.02 520.5,165.78 521.0,165.90 521.5,165.80 522.0,165.87 522.5,165.90 523.0,165.94 523.5,165.95 524.0,165.86 524.5,166.01 525.0,165.98 525.5,166.50 526.0,167.08 526.5,167.77 527.0,168.24 527.5,168.87 528.0,167.92 528.5,166.21 529.0,165.19 529.5,164.66 530.0,164.44 530.5,164.14 531.0,164.19 531.5,164.16 532.0,164.44 532.5,164.35 533.0,164.22 533.5,164.30 534.0,164.13 534.5,163.94 535.0,164.16 535.5,164.31 536.0,164.18 536.5,164.22 537.0,164.40 537.5,164.52 538.0,164.42 538.5,164.31 539.0,164.51 539.5,164.83 540.0,164.86 540.5,164.91 541.0,164.88 541.5,164.75 542.0,164.56 542.5,164.50 543.0,164.46 543.5,164.55 544.0,164.74 544.5,164.68 545.0,164.88 545.5,164.77 546.0,164.99 546.5,165.01 547.0,165.31 547.5,164.96 548.0,164.53 548.5,164.45 549.0,164.11 549.5,163.94 550.0,164.20 550.5,164.43 551.0,164.13 551.5,164.40 552.0,164.34 552.5,164.26 553.0,164.46 553.5,164.59 554.0,164.67 554.5,164.67 555.0,164.82 555.5,164.95 556.0,165.31 556.5,165.42 557.0,165.51 557.5,165.82 558.0,165.41 558.5,165.69 559.0,165.59 559.5,165.83 560.0,165.95 560.5,166.26 561.0,166.30 561.5,166.72 562.0,166.76 562.5,166.64 563.0,166.92 563.5,166.99 564.0,167.00 564.5,166.93 565.0,167.07 565.5,167.21 566.0,167.56 566.5,167.67 567.0,167.68 567.5,167.68 568.0,167.89 568.5,167.81 569.0,168.06 569.5,168.11 570.0,168.15 570.5,168.04 571.0,168.03 571.5,167.82 572.0,168.07 572.5,168.43 573.0,168.58 573.5,168.40 574.0,168.36 574.5,168.41 575.0,168.33 575.5,168.66 576.0,168.66 576.5,168.48 577.0,168.06 577.5,168.18 578.0,167.79 578.5,167.69 579.0,167.57 579.5,167.45 580.0,167.20 580.5,167.19 581.0,167.05 581.5,166.93 582.0,166.97 582.5,166.78 583.0,166.65 583.5,166.61 584.0,166.88 584.5,166.86 585.0,166.77 585.5,166.97 586.0,166.94 586.5,166.92 587.0,166.91 587.5,166.99 588.0,166.99 588.5,166.72 589.0,166.50 589.5,166.43 590.0,166.29 590.5,166.09 591.0,166.30 591.5,166.27 592.0,166.18 592.5,166.36 593.0,166.52 593.5,166.40 594.0,166.34 594.5,166.22 595.0,166.27 595.5,166.26 596.0,166.39 596.5,166.37 597.0,166.20 597.5,166.14 598.0,165.97 598.5,166.03 599.0,165.62 599.5,165.68 600.0,165.69 600.5,165.46 601.0,165.40 601.5,165.34 602.0,165.34 602.5,165.61 603.0,165.21 603.5,165.17 604.0,165.02 604.5,164.87 605.0,164.54 605.5,164.50 606.0,164.47 606.5,164.48 607.0,164.53 607.5,164.62 608.0,164.75 608.5,165.02 609.0,165.09 609.5,165.38 610.0,165.52 610.5,165.98 611.0,166.78 611.5,167.49 612.0,168.43 612.5,168.91 613.0,167.70 613.5,166.15 614.0,165.32 614.5,164.85 615.0,164.56 615.5,164.33 616.0,164.15 616.5,163.79 617.0,163.65 617.5,163.68 618.0,163.77 618.5,164.02 619.0,163.97 619.5,164.03 620.0,164.14 620.5,164.26 621.0,164.24 621.5,164.05 622.0,164.04 622.5,163.57 623.0,163.51 623.5,163.37 624.0,163.65 624.5,163.43 625.0,163.60 625.5,163.73 626.0,163.87 626.5,164.02 627.0,164.16 627.5,164.11 628.0,163.86 628.5,163.73 629.0,163.62 629.5,163.71 630.0,163.75 630.5,164.06 631.0,164.02 631.5,164.12 632.0,164.42 632.5,164.55 633.0,164.53 633.5,165.05 634.0,165.29 634.5,165.31 635.0,165.51 635.5,165.74 636.0,165.82 636.5,165.88 637.0,166.07 637.5,166.32 638.0,166.51 638.5,166.62 639.0,166.51 639.5,166.31" fill="none" stroke="#168080" stroke-width="2.2" stroke-linejoin="round" stroke-linecap="round" />
<polyline points="416.0,158.67 416.5,158.68 417.0,158.70 417.5,158.87 418.0,158.80 418.5,158.91 419.0,158.93 419.5,159.17 420.0,159.21 420.5,159.32 421.0,159.60 421.5,159.38 422.0,159.27 422.5,159.26 423.0,159.13 423.5,159.03 424.0,158.97 424.5,158.97 425.0,158.92 425.5,158.84 426.0,158.60 426.5,158.66 427.0,158.53 427.5,158.45 428.0,158.07 428.5,158.02 429.0,157.92 429.5,157.84 430.0,157.73 430.5,157.86 431.0,157.65 431.5,157.44 432.0,157.46 432.5,157.61 433.0,157.58 433.5,157.90 434.0,157.41 434.5,157.37 435.0,157.39 435.5,157.06 436.0,157.09 436.5,157.10 437.0,157.18 437.5,157.06 438.0,157.36 438.5,157.31 439.0,157.41 439.5,157.80 440.0,158.22 440.5,158.39 441.0,159.05 441.5,159.63 442.0,160.52 442.5,161.27 443.0,161.77 443.5,160.98 444.0,159.38 444.5,158.38 445.0,157.91 445.5,157.29 446.0,157.03 446.5,156.92 447.0,156.62 447.5,156.62 448.0,156.69 448.5,156.49 449.0,156.86 449.5,156.89 450.0,157.15 450.5,156.91 451.0,156.84 451.5,156.32 452.0,156.42 452.5,155.97 453.0,156.29 453.5,156.23 454.0,156.36 454.5,156.62 455.0,156.86 455.5,156.72 456.0,156.75 456.5,156.71 457.0,156.87 457.5,157.11 458.0,157.19 458.5,157.20 459.0,157.08 459.5,156.89 460.0,156.84 460.5,157.04 461.0,156.91 461.5,157.25 462.0,157.61 462.5,157.40 463.0,157.37 463.5,157.72 464.0,157.39 464.5,157.37 465.0,157.28 465.5,156.96 466.0,156.69 466.5,156.93 467.0,157.19 467.5,157.13 468.0,157.30 468.5,157.45 469.0,157.44 469.5,157.66 470.0,157.62 470.5,157.68 471.0,157.42 471.5,157.51 472.0,157.85 472.5,158.09 473.0,158.19 473.5,158.73 474.0,158.74 474.5,158.43 475.0,158.18 475.5,158.23 476.0,158.16 476.5,158.27 477.0,158.46 477.5,158.44 478.0,158.45 478.5,158.49 479.0,158.51 479.5,158.48 480.0,158.42 480.5,158.71 481.0,158.86 481.5,159.14 482.0,159.19 482.5,159.43 483.0,159.39 483.5,159.53 484.0,159.50 484.5,159.71 485.0,159.79 485.5,159.97 486.0,159.96 486.5,160.00 487.0,159.92 487.5,159.84 488.0,159.73 488.5,159.63 489.0,159.48 489.5,159.52 490.0,159.49 490.5,159.32 491.0,159.06 491.5,158.98 492.0,158.95 492.5,158.84 493.0,158.62 493.5,158.50 494.0,158.56 494.5,158.35 495.0,158.34 495.5,158.50 496.0,158.31 496.5,158.40 497.0,158.15 497.5,158.00 498.0,158.48 498.5,158.36 499.0,158.34 499.5,158.49 500.0,158.58 500.5,158.26 501.0,158.43 501.5,158.52 502.0,158.59 502.5,158.49 503.0,158.42 503.5,158.46 504.0,158.08 504.5,157.77 505.0,157.70 505.5,157.57 506.0,157.05 506.5,157.09 507.0,156.89 507.5,157.04 508.0,156.85 508.5,156.70 509.0,156.44 509.5,156.46 510.0,156.19 510.5,156.50 511.0,156.62 511.5,156.49 512.0,156.60 512.5,156.62 513.0,156.61 513.5,156.49 514.0,156.65 514.5,156.73 515.0,156.64 515.5,156.66 516.0,156.54 516.5,156.44 517.0,156.25 517.5,156.37 518.0,156.66 518.5,156.74 519.0,156.93 519.5,156.91 520.0,156.86 520.5,156.90 521.0,156.60 521.5,156.54 522.0,156.80 522.5,156.85 523.0,156.82 523.5,156.85 524.0,156.76 524.5,156.97 525.0,157.56 525.5,157.90 526.0,158.28 526.5,158.94 527.0,159.68 527.5,160.60 528.0,161.31 528.5,161.81 529.0,161.34 529.5,159.77 530.0,158.57 530.5,157.70 531.0,157.21 531.5,157.26 532.0,157.12 532.5,156.66 533.0,156.75 533.5,156.93 534.0,156.95 534.5,156.93 535.0,156.96 535.5,156.73 536.0,156.45 536.5,156.10 537.0,156.06 537.5,156.20 538.0,155.83 538.5,155.98 539.0,156.25 539.5,155.99 540.0,155.86 540.5,155.97 541.0,156.14 541.5,156.03 542.0,155.99 542.5,156.22 543.0,156.56 543.5,156.39 544.0,156.37 544.5,156.65 545.0,156.46 545.5,156.72 546.0,157.04 546.5,156.98 547.0,156.83 547.5,156.87 548.0,156.63 548.5,156.70 549.0,156.96 549.5,156.99 550.0,156.94 550.5,156.87 551.0,156.83 551.5,156.81 552.0,157.02 552.5,157.15 553.0,157.33 553.5,157.46 554.0,157.36 554.5,157.47 555.0,157.56 555.5,157.62 556.0,157.68 556.5,157.93 557.0,158.03 557.5,158.08 558.0,158.27 558.5,158.29 559.0,158.34 559.5,158.53 560.0,158.44 560.5,158.47 561.0,158.74 561.5,158.34 562.0,158.34 562.5,158.53 563.0,158.93 563.5,158.90 564.0,159.03 564.5,159.09 565.0,158.81 565.5,158.46 566.0,158.51 566.5,158.66 567.0,158.73 567.5,158.53 568.0,158.94 568.5,158.88 569.0,158.96 569.5,158.86 570.0,159.06 570.5,159.13 571.0,159.06 571.5,159.31 572.0,159.45 572.5,159.43 573.0,159.33 573.5,159.12 574.0,159.15 574.5,158.86 575.0,158.96 575.5,159.09 576.0,158.99 576.5,158.75 577.0,158.87 577.5,159.08 578.0,159.14 578.5,159.32 579.0,159.39 579.5,159.11 580.0,159.17 580.5,159.11 581.0,159.10 581.5,159.11 582.0,159.30 582.5,159.27 583.0,159.02 583.5,158.93 584.0,158.94 584.5,158.93 585.0,159.02 585.5,159.09 586.0,158.91 586.5,158.86 587.0,158.70 587.5,158.58 588.0,158.57 588.5,158.56 589.0,158.30 589.5,157.97 590.0,158.07 590.5,157.97 591.0,157.89 591.5,157.69 592.0,157.69 592.5,157.25 593.0,157.18 593.5,157.14 594.0,157.11 594.5,157.00 595.0,157.27 595.5,157.13 596.0,157.12 596.5,157.11 597.0,157.32 597.5,157.24 598.0,157.25 598.5,157.15 599.0,156.99 599.5,156.91 600.0,157.19 600.5,156.96 601.0,156.99 601.5,157.07 602.0,156.83 602.5,156.91 603.0,156.77 603.5,156.75 604.0,156.63 604.5,156.82 605.0,156.46 605.5,156.65 606.0,156.48 606.5,156.61 607.0,156.55 607.5,156.75 608.0,156.78 608.5,156.68 609.0,156.79 609.5,157.35 610.0,157.67 610.5,157.77 611.0,158.29 611.5,158.53 612.0,158.98 612.5,159.97 613.0,160.54 613.5,160.99 614.0,159.56 614.5,158.17 615.0,157.28 615.5,156.92 616.0,156.60 616.5,156.36 617.0,155.98 617.5,155.87 618.0,155.61 618.5,155.71 619.0,155.74 619.5,155.75 620.0,155.66 620.5,155.38 621.0,155.64 621.5,155.75 622.0,155.68 622.5,155.95 623.0,155.91 623.5,155.70 624.0,155.49 624.5,155.55 625.0,155.20 625.5,154.96 626.0,155.00 626.5,155.04 627.0,154.90 627.5,154.88 628.0,154.82 628.5,154.78 629.0,154.87 629.5,154.95 630.0,154.97 630.5,155.16 631.0,155.39 631.5,155.20 632.0,155.12 632.5,155.47 633.0,155.61 633.5,155.36 634.0,155.69 634.5,156.21 635.0,156.38 635.5,156.62 636.0,157.16 636.5,157.39 637.0,157.23 637.5,157.46 638.0,157.58 638.5,157.64 639.0,157.74 639.5,157.62" fill="none" stroke="#d820d8" stroke-width="2.2" stroke-linejoin="round" stroke-linecap="round" />
<polyline points="416.0,150.60 416.5,150.60 417.0,150.95 417.5,151.01 418.0,150.94 418.5,151.11 419.0,151.22 419.5,151.18 420.0,151.30 420.5,151.37 421.0,151.27 421.5,150.93 422.0,150.79 422.5,150.47 423.0,150.26 423.5,150.29 424.0,150.12 424.5,150.07 425.0,149.96 425.5,149.84 426.0,149.89 426.5,150.01 427.0,149.93 427.5,149.63 428.0,149.31 428.5,149.05 429.0,148.84 429.5,148.31 430.0,148.26 430.5,148.29 431.0,148.19 431.5,148.21 432.0,148.86 432.5,149.07 433.0,149.01 433.5,148.98 434.0,148.99 434.5,148.91 435.0,148.91 435.5,148.91 436.0,148.67 436.5,148.66 437.0,148.94 437.5,149.04 438.0,149.15 438.5,149.62 439.0,149.72 439.5,149.57 440.0,149.80 440.5,150.07 441.0,150.22 441.5,150.35 442.0,150.67 442.5,150.98 443.0,151.19 443.5,151.46 444.0,151.96 444.5,152.20 445.0,152.29 445.5,152.83 446.0,153.39 446.5,153.86 447.0,153.46 447.5,152.74 448.0,151.69 448.5,150.95 449.0,150.08 449.5,149.78 450.0,149.40 450.5,149.25 451.0,149.18 451.5,149.29 452.0,149.22 452.5,149.39 453.0,149.29 453.5,149.17 454.0,148.92 454.5,148.53 455.0,148.41 455.5,148.28 456.0,148.20 456.5,148.21 457.0,148.12 457.5,148.39 458.0,148.45 458.5,148.21 459.0,148.29 459.5,148.39 460.0,148.53 460.5,148.77 461.0,149.11 461.5,149.22 462.0,149.13 462.5,149.16 463.0,148.78 463.5,148.99 464.0,148.79 464.5,149.05 465.0,149.07 465.5,149.32 466.0,149.60 466.5,149.54 467.0,149.45 467.5,149.69 468.0,149.79 468.5,149.84 469.0,149.74 469.5,150.00 470.0,150.16 470.5,150.07 471.0,150.00 471.5,150.13 472.0,149.90 472.5,149.63 473.0,149.73 473.5,149.91 474.0,150.09 474.5,150.24 475.0,150.27 475.5,150.07 476.0,150.16 476.5,150.24 477.0,150.48 477.5,150.52 478.0,150.85 478.5,150.98 479.0,150.89 479.5,151.13 480.0,151.01 480.5,150.88 481.0,151.00 481.5,151.09 482.0,151.10 482.5,151.40 483.0,151.68 483.5,151.75 484.0,151.70 484.5,151.88 485.0,151.65 485.5,151.70 486.0,151.56 486.5,151.82 487.0,151.73 487.5,151.95 488.0,152.13 488.5,152.31 489.0,152.52 489.5,152.40 490.0,152.05 490.5,152.09 491.0,151.95 491.5,151.72 492.0,151.81 492.5,151.66 493.0,151.41 493.5,151.61 494.0,151.51 494.5,151.40 495.0,151.44 495.5,151.40 496.0,151.34 496.5,151.12 497.0,151.01 497.5,151.10 498.0,150.96 498.5,150.92 499.0,150.93 499.5,150.84 500.0,150.67 500.5,150.69 501.0,150.70 501.5,150.63 502.0,150.64 502.5,150.42 503.0,150.40 503.5,150.33 504.0,150.40 504.5,150.50 505.0,150.56 505.5,150.59 506.0,150.61 506.5,150.36 507.0,150.41 507.5,150.01 508.0,149.76 508.5,149.29 509.0,149.31 509.5,149.21 510.0,149.35 510.5,149.27 511.0,149.50 511.5,149.45 512.0,149.26 512.5,148.99 513.0,149.16 513.5,149.23 514.0,149.51 514.5,149.48 515.0,149.63 515.5,149.58 516.0,149.37 516.5,149.05 517.0,148.92 517.5,148.74 518.0,148.63 518.5,148.29 519.0,148.40 519.5,148.61 520.0,148.56 520.5,148.62 521.0,148.68 521.5,148.84 522.0,148.58 522.5,148.59 523.0,148.69 523.5,148.69 524.0,148.60 524.5,148.63 525.0,148.51 525.5,148.55 526.0,148.89 526.5,149.12 527.0,149.23 527.5,149.43 528.0,149.66 528.5,150.38 529.0,151.15 529.5,151.45 530.0,151.92 530.5,152.56 531.0,152.60 531.5,152.59 532.0,152.90 532.5,152.40 533.0,151.39 533.5,150.42 534.0,149.86 534.5,149.37 535.0,149.10 535.5,148.88 536.0,148.79 536.5,148.57 537.0,148.52 537.5,148.30 538.0,148.05 538.5,148.19 539.0,148.11 539.5,148.10 540.0,148.08 540.5,147.98 541.0,147.92 541.5,148.00 542.0,147.93 542.5,147.69 543.0,147.71 543.5,147.59 544.0,147.87 544.5,148.01 545.0,148.11 545.5,148.36 546.0,148.57 546.5,148.66 547.0,148.90 547.5,148.97 548.0,148.98 548.5,149.36 549.0,149.15 549.5,149.24 550.0,149.35 550.5,149.31 551.0,148.96 551.5,149.37 552.0,148.86 552.5,149.08 553.0,149.32 553.5,149.59 554.0,149.30 554.5,149.35 555.0,148.98 555.5,149.04 556.0,148.68 556.5,148.66 557.0,148.67 557.5,148.76 558.0,148.99 558.5,149.20 559.0,149.41 559.5,149.43 560.0,149.67 560.5,149.52 561.0,149.50 561.5,149.60 562.0,149.65 562.5,149.81 563.0,149.75 563.5,149.81 564.0,150.22 564.5,150.59 565.0,150.70 565.5,150.77 566.0,150.82 566.5,150.71 567.0,150.62 567.5,150.92 568.0,150.96 568.5,150.89 569.0,151.00 569.5,151.21 570.0,151.31 570.5,151.36 571.0,151.63 571.5,151.63 572.0,151.64 572.5,151.74 573.0,151.67 573.5,151.63 574.0,152.25 574.5,152.21 575.0,152.27 575.5,152.48 576.0,152.89 576.5,152.72 577.0,152.44 577.5,152.52 578.0,152.48 578.5,152.42 579.0,152.18 579.5,152.26 580.0,152.21 580.5,152.35 581.0,152.21 581.5,152.39 582.0,152.50 582.5,152.47 583.0,152.39 583.5,152.57 584.0,152.14 584.5,151.56 585.0,151.63 585.5,151.46 586.0,151.16 586.5,150.97 587.0,151.24 587.5,151.14 588.0,151.30 588.5,150.93 589.0,150.70 589.5,150.50 590.0,150.43 590.5,150.11 591.0,150.19 591.5,149.95 592.0,149.82 592.5,149.59 593.0,149.18 593.5,149.16 594.0,149.29 594.5,149.37 595.0,149.46 595.5,149.82 596.0,149.86 596.5,149.64 597.0,149.83 597.5,149.52 598.0,149.42 598.5,149.40 599.0,149.50 599.5,149.33 600.0,149.38 600.5,149.48 601.0,149.18 601.5,149.18 602.0,149.29 602.5,149.29 603.0,149.17 603.5,149.03 604.0,149.21 604.5,149.25 605.0,149.11 605.5,149.11 606.0,149.04 606.5,148.93 607.0,148.81 607.5,148.42 608.0,148.53 608.5,148.29 609.0,148.25 609.5,148.17 610.0,148.76 610.5,148.88 611.0,148.70 611.5,148.90 612.0,148.95 612.5,149.01 613.0,149.07 613.5,149.25 614.0,149.63 614.5,150.08 615.0,150.40 615.5,150.80 616.0,151.19 616.5,151.77 617.0,151.96 617.5,152.01 618.0,152.16 618.5,151.37 619.0,150.38 619.5,149.60 620.0,149.41 620.5,148.73 621.0,148.39 621.5,148.52 622.0,148.52 622.5,148.43 623.0,148.23 623.5,148.46 624.0,148.44 624.5,148.42 625.0,148.32 625.5,148.21 626.0,148.21 626.5,148.46 627.0,148.41 627.5,148.56 628.0,148.82 628.5,148.51 629.0,148.25 629.5,148.43 630.0,148.27 630.5,148.16 631.0,147.93 631.5,147.76 632.0,147.74 632.5,147.77 633.0,147.75 633.5,147.87 634.0,147.87 634.5,147.94 635.0,148.46 635.5,148.52 636.0,148.86 636.5,149.30 637.0,149.40 637.5,149.53 638.0,149.97 638.5,150.16 639.0,150.42 639.5,150.71" fill="none" stroke="#85851e" stroke-width="2.2" stroke-linejoin="round" stroke-linecap="round" />
<polyline points="416.0,145.51 416.5,145.16 417.0,145.33 417.5,145.09 418.0,145.08 418.5,145.23 419.0,145.20 419.5,145.04 420.0,145.17 420.5,145.47 421.0,145.42 421.5,145.67 422.0,145.42 422.5,145.04 423.0,144.64 423.5,144.40 424.0,144.15 424.5,144.06 425.0,143.96 425.5,144.05 426.0,143.79 426.5,143.77 427.0,143.83 427.5,143.59 428.0,143.33 428.5,142.96 429.0,142.71 429.5,142.51 430.0,142.29 430.5,142.27 431.0,142.11 431.5,141.90 432.0,141.86 432.5,142.18 433.0,142.41 433.5,142.35 434.0,142.35 434.5,142.04 435.0,141.93 435.5,141.91 436.0,141.98 436.5,141.89 437.0,142.10 437.5,142.13 438.0,142.13 438.5,142.06 439.0,142.45 439.5,142.17 440.0,142.09 440.5,142.08 441.0,141.84 441.5,141.84 442.0,142.04 442.5,142.12 443.0,142.08 443.5,142.54 444.0,142.68 444.5,142.69 445.0,142.73 445.5,142.59 446.0,142.82 446.5,142.79 447.0,142.70 447.5,143.02 448.0,143.42 448.5,143.48 449.0,143.80 449.5,143.99 450.0,144.15 450.5,144.57 451.0,145.06 451.5,145.87 452.0,147.13 452.5,148.02 453.0,148.37 453.5,147.02 454.0,145.32 454.5,144.61 455.0,144.13 455.5,144.20 456.0,144.10 456.5,144.01 457.0,143.73 457.5,143.76 458.0,143.38 458.5,143.32 459.0,143.23 459.5,143.18 460.0,142.91 460.5,143.20 461.0,143.47 461.5,143.70 462.0,143.67 462.5,143.88 463.0,143.86 463.5,143.64 464.0,143.57 464.5,143.43 465.0,143.58 465.5,143.57 466.0,143.63 466.5,143.52 467.0,143.60 467.5,143.66 468.0,143.82 468.5,144.00 469.0,143.82 469.5,144.01 470.0,144.15 470.5,144.30 471.0,144.11 471.5,143.97 472.0,143.86 472.5,143.76 473.0,143.65 473.5,143.54 474.0,143.66 474.5,143.64 475.0,143.54 475.5,143.64 476.0,143.50 476.5,143.36 477.0,143.65 477.5,143.78 478.0,143.46 478.5,143.49 479.0,143.68 479.5,143.53 480.0,143.55 480.5,143.89 481.0,143.77 481.5,143.60 482.0,144.00 482.5,144.29 483.0,144.08 483.5,144.12 484.0,144.18 484.5,144.24 485.0,143.95 485.5,143.86 486.0,144.04 486.5,144.33 487.0,144.27 487.5,144.48 488.0,144.51 488.5,144.55 489.0,144.84 489.5,144.90 490.0,144.90 490.5,144.97 491.0,145.31 491.5,145.17 492.0,145.31 492.5,145.08 493.0,145.06 493.5,144.74 494.0,144.92 494.5,145.07 495.0,145.12 495.5,145.28 496.0,145.71 496.5,145.57 497.0,145.14 497.5,145.02 498.0,144.99 498.5,144.83 499.0,144.82 499.5,144.84 500.0,145.09 500.5,144.95 501.0,144.73 501.5,144.52 502.0,144.67 502.5,144.46 503.0,144.71 503.5,144.88 504.0,145.11 504.5,145.09 505.0,145.21 505.5,145.02 506.0,144.84 506.5,144.88 507.0,144.80 507.5,144.63 508.0,144.64 508.5,144.64 509.0,144.39 509.5,144.30 510.0,144.38 510.5,144.34 511.0,144.17 511.5,144.18 512.0,143.84 512.5,143.75 513.0,143.50 513.5,143.62 514.0,143.66 514.5,143.76 515.0,143.94 515.5,144.13 516.0,144.02 516.5,144.05 517.0,143.77 517.5,143.72 518.0,143.59 518.5,143.49 519.0,143.22 519.5,142.90 520.0,142.92 520.5,142.57 521.0,142.77 521.5,142.58 522.0,142.73 522.5,142.71 523.0,142.58 523.5,142.41 524.0,142.51 524.5,142.35 525.0,142.39 525.5,142.66 526.0,142.40 526.5,142.22 527.0,142.68 527.5,142.67 528.0,142.46 528.5,142.56 529.0,142.72 529.5,142.56 530.0,142.69 530.5,142.61 531.0,142.96 531.5,142.92 532.0,143.24 532.5,143.46 533.0,143.50 533.5,143.50 534.0,143.88 534.5,143.78 535.0,144.10 535.5,144.24 536.0,144.64 536.5,145.34 537.0,145.76 537.5,146.47 538.0,147.50 538.5,148.05 539.0,146.92 539.5,145.34 540.0,144.06 540.5,143.32 541.0,143.07 541.5,142.72 542.0,142.73 542.5,142.86 543.0,142.70 543.5,142.59 544.0,142.64 544.5,142.31 545.0,142.32 545.5,142.37 546.0,142.16 546.5,142.02 547.0,142.09 547.5,142.18 548.0,142.22 548.5,142.26 549.0,142.19 549.5,142.15 550.0,142.21 550.5,142.28 551.0,142.50 551.5,142.41 552.0,142.36 552.5,142.33 553.0,142.20 553.5,142.35 554.0,142.36 554.5,142.47 555.0,142.24 555.5,142.38 556.0,142.49 556.5,142.55 557.0,142.53 557.5,143.07 558.0,142.87 558.5,142.95 559.0,142.79 559.5,142.90 560.0,142.69 560.5,142.91 561.0,142.93 561.5,142.85 562.0,142.91 562.5,142.99 563.0,143.02 563.5,142.73 564.0,143.02 564.5,143.25 565.0,143.05 565.5,142.85 566.0,142.87 566.5,142.88 567.0,142.87 567.5,143.24 568.0,143.43 568.5,143.46 569.0,143.87 569.5,144.17 570.0,143.98 570.5,144.01 571.0,143.97 571.5,144.13 572.0,144.45 572.5,144.85 573.0,144.80 573.5,144.94 574.0,144.88 574.5,144.65 575.0,144.57 575.5,145.06 576.0,145.33 576.5,145.82 577.0,146.03 577.5,146.18 578.0,145.92 578.5,145.82 579.0,146.05 579.5,145.58 580.0,145.22 580.5,145.28 581.0,145.39 581.5,145.46 582.0,145.47 582.5,145.44 583.0,145.24 583.5,145.21 584.0,144.94 584.5,145.14 585.0,145.40 585.5,145.46 586.0,145.38 586.5,145.65 587.0,145.50 587.5,145.37 588.0,145.41 588.5,145.31 589.0,144.89 589.5,144.83 590.0,145.02 590.5,145.04 591.0,144.79 591.5,144.83 592.0,144.42 592.5,144.24 593.0,143.84 593.5,143.90 594.0,144.02 594.5,144.05 595.0,143.87 595.5,143.80 596.0,143.73 596.5,143.35 597.0,143.07 597.5,142.89 598.0,142.92 598.5,142.91 599.0,143.20 599.5,143.28 600.0,143.24 600.5,143.07 601.0,142.91 601.5,142.52 602.0,142.44 602.5,142.38 603.0,142.27 603.5,142.19 604.0,142.31 604.5,142.33 605.0,142.20 605.5,142.18 606.0,142.18 606.5,141.93 607.0,142.23 607.5,142.26 608.0,142.35 608.5,142.18 609.0,142.20 609.5,142.16 610.0,142.43 610.5,142.30 611.0,142.42 611.5,142.28 612.0,142.31 612.5,142.04 613.0,142.10 613.5,142.10 614.0,142.10 614.5,141.94 615.0,142.18 615.5,142.36 616.0,142.55 616.5,142.51 617.0,142.55 617.5,142.13 618.0,142.03 618.5,142.19 619.0,142.21 619.5,142.48 620.0,142.74 620.5,142.90 621.0,143.37 621.5,143.91 622.0,144.43 622.5,145.28 623.0,146.23 623.5,146.98 624.0,146.88 624.5,145.47 625.0,143.98 625.5,143.34 626.0,142.87 626.5,142.48 627.0,142.14 627.5,141.79 628.0,141.73 628.5,141.62 629.0,141.43 629.5,141.65 630.0,141.71 630.5,141.67 631.0,141.49 631.5,141.27 632.0,141.19 632.5,141.03 633.0,140.74 633.5,140.81 634.0,140.81 634.5,140.75 635.0,140.72 635.5,140.73 636.0,140.45 636.5,140.17 637.0,140.11 637.5,140.10 638.0,140.02 638.5,139.74 639.0,139.62 639.5,139.46" fill="none" stroke="#14147a" stroke-width="2.2" stroke-linejoin="round" stroke-linecap="round" />
<polyline points="416.0,135.49 416.5,135.42 417.0,135.55 417.5,135.91 418.0,136.07 418.5,136.07 419.0,136.22 419.5,136.16 420.0,135.92 420.5,135.99 421.0,135.77 421.5,135.87 422.0,135.79 422.5,135.68 423.0,135.48 423.5,135.54 424.0,135.48 424.5,135.28 425.0,135.13 425.5,134.88 426.0,134.82 426.5,134.78 427.0,134.74 427.5,134.71 428.0,134.74 428.5,134.54 429.0,134.39 429.5,134.35 430.0,134.22 430.5,134.25 431.0,134.21 431.5,134.27 432.0,134.27 432.5,134.45 433.0,134.36 433.5,134.25 434.0,134.28 434.5,134.04 435.0,134.17 435.5,134.33 436.0,134.45 436.5,134.46 437.0,134.38 437.5,134.50 438.0,134.13 438.5,134.20 439.0,134.24 439.5,134.32 440.0,134.15 440.5,134.34 441.0,134.38 441.5,134.61 442.0,134.79 442.5,134.70 443.0,134.43 443.5,134.65 444.0,134.29 444.5,134.02 445.0,134.01 445.5,134.22 446.0,134.26 446.5,134.33 447.0,134.53 447.5,134.84 448.0,135.09 448.5,135.20 449.0,135.10 449.5,135.22 450.0,135.14 450.5,134.97 451.0,134.99 451.5,135.05 452.0,135.40 452.5,135.38 453.0,135.83 453.5,136.00 454.0,136.31 454.5,136.83 455.0,138.15 455.5,139.32 456.0,139.83 456.5,139.56 457.0,137.83 457.5,136.47 458.0,135.77 458.5,135.79 459.0,135.71 459.5,135.56 460.0,135.44 460.5,135.41 461.0,135.37 461.5,135.30 462.0,135.35 462.5,134.94 463.0,134.75 463.5,134.99 464.0,135.14 464.5,135.41 465.0,135.78 465.5,135.99 466.0,135.92 466.5,136.16 467.0,136.19 467.5,136.31 468.0,136.49 468.5,136.48 469.0,136.58 469.5,136.44 470.0,136.60 470.5,136.19 471.0,135.94 471.5,135.69 472.0,135.81 472.5,135.49 473.0,135.89 473.5,135.80 474.0,135.29 474.5,135.25 475.0,135.11 475.5,134.84 476.0,134.74 476.5,134.79 477.0,134.82 477.5,134.87 478.0,135.17 478.5,135.15 479.0,135.38 479.5,135.46 480.0,135.65 480.5,135.66 481.0,135.81 481.5,135.61 482.0,135.62 482.5,135.74 483.0,135.92 483.5,135.78 484.0,135.84 484.5,136.04 485.0,136.08 485.5,136.30 486.0,136.16 486.5,136.17 487.0,136.06 487.5,136.00 488.0,136.26 488.5,136.11 489.0,136.07 489.5,135.99 490.0,136.03 490.5,135.96 491.0,135.89 491.5,136.25 492.0,136.46 492.5,136.33 493.0,136.21 493.5,136.34 494.0,136.31 494.5,136.59 495.0,136.75 495.5,136.58 496.0,136.55 496.5,137.02 497.0,137.45 497.5,137.45 498.0,137.52 498.5,137.69 499.0,137.77 499.5,137.45 500.0,137.40 500.5,137.57 501.0,137.35 501.5,137.36 502.0,137.86 502.5,137.86 503.0,137.79 503.5,137.85 504.0,137.83 504.5,137.79 505.0,137.69 505.5,137.57 506.0,137.59 506.5,137.37 507.0,136.85 507.5,136.94 508.0,136.93 508.5,136.84 509.0,136.58 509.5,136.56 510.0,136.32 510.5,136.55 511.0,136.27 511.5,136.31 512.0,136.29 512.5,135.95 513.0,135.69 513.5,135.60 514.0,135.92 514.5,135.91 515.0,135.94 515.5,136.05 516.0,136.09 516.5,135.67 517.0,135.20 517.5,135.08 518.0,134.89 518.5,134.61 519.0,134.41 519.5,134.73 520.0,134.79 520.5,134.86 521.0,134.92 521.5,135.12 522.0,135.09 522.5,134.98 523.0,134.97 523.5,134.89 524.0,134.83 524.5,134.48 525.0,134.52 525.5,134.24 526.0,134.29 526.5,134.34 527.0,134.31 527.5,134.18 528.0,134.52 528.5,134.63 529.0,134.74 529.5,134.88 530.0,135.04 530.5,135.00 531.0,134.94 531.5,135.34 532.0,135.14 532.5,135.08 533.0,135.15 533.5,135.21 534.0,135.15 534.5,135.21 535.0,135.17 535.5,135.14 536.0,135.22 536.5,135.37 537.0,135.63 537.5,135.84 538.0,136.19 538.5,136.26 539.0,136.67 539.5,137.04 540.0,137.90 540.5,138.85 541.0,139.73 541.5,139.49 542.0,138.02 542.5,136.73 543.0,136.16 543.5,135.57 544.0,135.33 544.5,134.69 545.0,134.73 545.5,134.62 546.0,134.74 546.5,134.73 547.0,134.98 547.5,134.59 548.0,134.49 548.5,134.45 549.0,134.39 549.5,134.25 550.0,134.32 550.5,134.23 551.0,134.35 551.5,134.45 552.0,134.56 552.5,134.50 553.0,134.46 553.5,134.30 554.0,134.43 554.5,134.47 555.0,134.44 555.5,134.41 556.0,134.47 556.5,134.36 557.0,134.20 557.5,134.32 558.0,134.59 558.5,134.78 559.0,134.45 559.5,134.50 560.0,134.18 560.5,133.73 561.0,133.80 561.5,133.84 562.0,133.72 562.5,133.80 563.0,134.09 563.5,134.30 564.0,134.43 564.5,134.59 565.0,134.50 565.5,134.73 566.0,134.81 566.5,135.20 567.0,135.31 567.5,135.38 568.0,135.49 568.5,135.35 569.0,135.06 569.5,135.19 570.0,135.36 570.5,135.29 571.0,135.65 571.5,135.64 572.0,135.88 572.5,136.03 573.0,136.01 573.5,136.33 574.0,136.48 574.5,136.52 575.0,136.26 575.5,136.20 576.0,135.99 576.5,135.89 577.0,135.60 577.5,135.78 578.0,135.87 578.5,135.76 579.0,135.91 579.5,135.66 580.0,135.56 580.5,135.73 581.0,135.96 581.5,136.00 582.0,136.37 582.5,136.31 583.0,136.74 583.5,137.32 584.0,137.06 584.5,136.89 585.0,136.96 585.5,137.03 586.0,137.19 586.5,137.25 587.0,137.44 587.5,137.20 588.0,137.31 588.5,137.02 589.0,137.26 589.5,137.15 590.0,137.43 590.5,137.41 591.0,137.22 591.5,136.83 592.0,136.85 592.5,136.79 593.0,136.81 593.5,136.39 594.0,136.09 594.5,136.02 595.0,135.75 595.5,135.52 596.0,135.66 596.5,135.40 597.0,135.19 597.5,135.30 598.0,135.42 598.5,135.26 599.0,135.34 599.5,135.33 600.0,135.24 600.5,135.34 601.0,135.42 601.5,135.56 602.0,135.66 602.5,135.50 603.0,135.50 603.5,135.28 604.0,135.08 604.5,135.01 605.0,135.18 605.5,135.25 606.0,135.14 606.5,135.11 607.0,135.06 607.5,135.12 608.0,134.89 608.5,134.81 609.0,134.85 609.5,134.82 610.0,134.91 610.5,134.80 611.0,134.87 611.5,134.83 612.0,134.75 612.5,134.79 613.0,134.84 613.5,134.57 614.0,134.51 614.5,134.60 615.0,134.49 615.5,134.36 616.0,134.49 616.5,134.54 617.0,134.33 617.5,134.29 618.0,134.10 618.5,133.96 619.0,133.78 619.5,133.84 620.0,133.89 620.5,133.98 621.0,134.13 621.5,134.33 622.0,134.36 622.5,134.42 623.0,134.25 623.5,134.56 624.0,134.94 624.5,135.44 625.0,136.09 625.5,136.94 626.0,137.67 626.5,138.18 627.0,137.74 627.5,136.18 628.0,134.92 628.5,134.24 629.0,134.06 629.5,134.00 630.0,133.87 630.5,133.66 631.0,133.81 631.5,133.65 632.0,133.50 632.5,133.68 633.0,133.30 633.5,133.23 634.0,133.33 634.5,133.38 635.0,133.14 635.5,133.41 636.0,133.85 636.5,134.09 637.0,134.38 637.5,134.66 638.0,134.70 638.5,135.16 639.0,135.57 639.5,135.58" fill="none" stroke="#761616" stroke-width="2.2" stroke-linejoin="round" stroke-linecap="round" />
<polyline points="416.0,129.02 416.5,129.10 417.0,129.01 417.5,129.25 418.0,129.14 418.5,129.01 419.0,128.76 419.5,128.65 420.0,128.53 420.5,128.46 421.0,128.66 421.5,128.90 422.0,129.00 422.5,129.23 423.0,129.24 423.5,129.05 424.0,128.52 424.5,128.58 425.0,128.23 425.5,128.12 426.0,127.89 426.5,127.85 427.0,127.65 427.5,127.88 428.0,127.59 428.5,127.58 429.0,127.62 429.5,127.44 430.0,126.93 430.5,126.87 431.0,126.77 431.5,126.90 432.0,127.22 432.5,127.15 433.0,127.24 433.5,126.96 434.0,126.65 434.5,126.38 435.0,126.53 435.5,126.59 436.0,126.58 436.5,126.71 437.0,126.67 437.5,126.57 438.0,126.65 438.5,126.60 439.0,126.69 439.5,126.53 440.0,126.69 440.5,126.73 441.0,126.93 441.5,127.23 442.0,127.02 442.5,126.98 443.0,127.03 443.5,126.79 444.0,126.74 444.5,126.50 445.0,126.77 445.5,126.97 446.0,127.05 446.5,127.40 447.0,127.43 447.5,127.41 448.0,127.20 448.5,127.02 449.0,127.15 449.5,127.19 450.0,127.63 450.5,127.93 451.0,128.14 451.5,128.37 452.0,128.27 452.5,128.05 453.0,127.82 453.5,128.05 454.0,128.30 454.5,128.49 455.0,129.19 455.5,129.97 456.0,130.65 456.5,131.75 457.0,132.72 457.5,132.87 458.0,131.51 458.5,129.67 459.0,128.48 459.5,127.81 460.0,127.80 460.5,127.50 461.0,127.51 461.5,127.52 462.0,127.30 462.5,127.26 463.0,127.17 463.5,127.14 464.0,126.95 464.5,127.06 465.0,127.24 465.5,127.24 466.0,127.45 466.5,127.60 467.0,127.29 467.5,127.48 468.0,127.47 468.5,127.25 469.0,127.32 469.5,127.30 470.0,127.32 470.5,127.16 471.0,127.19 471.5,127.18 472.0,127.38 472.5,127.47 473.0,127.47 473.5,127.65 474.0,127.74 474.5,128.02 475.0,127.77 475.5,127.67 476.0,127.50 476.5,127.44 477.0,127.71 477.5,128.10 478.0,128.16 478.5,128.29 479.0,128.57 479.5,128.38 480.0,128.17 480.5,128.19 481.0,128.24 481.5,128.19 482.0,128.08 482.5,127.94 483.0,127.87 483.5,127.92 484.0,127.99 484.5,128.02 485.0,128.09 485.5,128.45 486.0,128.25 486.5,128.26 487.0,127.97 487.5,128.01 488.0,128.03 488.5,128.16 489.0,128.10 489.5,128.26 490.0,128.38 490.5,128.57 491.0,128.64 491.5,128.65 492.0,128.63 492.5,128.59 493.0,128.74 493.5,128.81 494.0,128.70 494.5,129.11 495.0,129.36 495.5,129.04 496.0,129.36 496.5,129.43 497.0,129.12 497.5,129.20 498.0,129.39 498.5,129.10 499.0,129.15 499.5,129.34 500.0,129.18 500.5,129.37 501.0,129.27 501.5,129.37 502.0,129.26 502.5,129.59 503.0,129.53 503.5,129.41 504.0,129.32 504.5,129.04 505.0,128.89 505.5,128.85 506.0,129.28 506.5,129.43 507.0,129.82 507.5,129.83 508.0,129.91 508.5,129.90 509.0,129.99 509.5,130.09 510.0,130.16 510.5,130.44 511.0,130.27 511.5,130.35 512.0,129.97 512.5,129.81 513.0,129.68 513.5,129.48 514.0,129.15 514.5,129.24 515.0,129.25 515.5,129.01 516.0,128.79 516.5,128.67 517.0,128.35 517.5,128.13 518.0,128.41 518.5,128.63 519.0,128.59 519.5,128.51 520.0,128.35 520.5,128.28 521.0,128.03 521.5,127.97 522.0,128.13 522.5,128.30 523.0,128.30 523.5,127.95 524.0,127.87 524.5,127.86 525.0,127.70 525.5,127.45 526.0,127.40 526.5,127.50 527.0,127.42 527.5,127.19 528.0,127.47 528.5,127.43 529.0,127.47 529.5,127.58 530.0,127.55 530.5,127.40 531.0,127.27 531.5,127.16 532.0,127.05 532.5,127.09 533.0,127.14 533.5,127.01 534.0,126.87 534.5,126.75 535.0,126.58 535.5,126.53 536.0,126.62 536.5,126.91 537.0,126.93 537.5,127.28 538.0,127.59 538.5,127.76 539.0,128.13 539.5,128.38 540.0,128.64 540.5,128.93 541.0,129.42 541.5,130.06 542.0,131.08 542.5,131.80 543.0,131.76 543.5,130.19 544.0,129.08 544.5,128.38 545.0,127.88 545.5,127.48 546.0,127.26 546.5,127.30 547.0,127.04 547.5,127.10 548.0,127.00 548.5,126.96 549.0,126.81 549.5,126.75 550.0,126.66 550.5,126.76 551.0,126.93 551.5,126.91 552.0,126.83 552.5,126.77 553.0,126.61 553.5,126.15 554.0,126.13 554.5,126.24 555.0,126.53 555.5,126.94 556.0,127.22 556.5,127.02 557.0,127.25 557.5,126.88 558.0,126.37 558.5,126.05 559.0,126.01 559.5,125.73 560.0,126.13 560.5,126.44 561.0,126.63 561.5,126.62 562.0,126.91 562.5,126.82 563.0,126.74 563.5,126.76 564.0,126.92 564.5,127.08 565.0,126.96 565.5,127.15 566.0,126.90 566.5,126.93 567.0,126.96 567.5,127.05 568.0,127.06 568.5,127.17 569.0,127.48 569.5,127.88 570.0,127.83 570.5,127.83 571.0,128.13 571.5,128.11 572.0,127.88 572.5,127.74 573.0,127.96 573.5,128.24 574.0,128.36 574.5,128.71 575.0,128.75 575.5,128.73 576.0,128.68 576.5,129.05 577.0,128.91 577.5,128.90 578.0,128.89 578.5,128.95 579.0,128.97 579.5,128.89 580.0,128.86 580.5,129.09 581.0,129.21 581.5,129.40 582.0,129.66 582.5,129.82 583.0,129.84 583.5,129.90 584.0,129.71 584.5,129.66 585.0,129.78 585.5,129.92 586.0,130.11 586.5,130.46 587.0,130.54 587.5,130.45 588.0,130.68 588.5,130.61 589.0,130.08 589.5,129.98 590.0,129.82 590.5,129.90 591.0,129.95 591.5,130.12 592.0,129.87 592.5,129.91 593.0,129.43 593.5,129.50 594.0,129.18 594.5,129.33 595.0,128.83 595.5,128.82 596.0,128.68 596.5,128.65 597.0,128.50 597.5,128.47 598.0,128.78 598.5,128.56 599.0,128.71 599.5,128.86 600.0,128.97 600.5,128.99 601.0,128.71 601.5,128.47 602.0,128.34 602.5,128.01 603.0,127.97 603.5,128.06 604.0,127.94 604.5,127.71 605.0,127.69 605.5,127.77 606.0,127.78 606.5,127.57 607.0,127.75 607.5,127.77 608.0,127.62 608.5,127.46 609.0,127.72 609.5,127.52 610.0,127.39 610.5,127.42 611.0,127.07 611.5,127.10 612.0,127.05 612.5,127.18 613.0,127.04 613.5,126.90 614.0,126.97 614.5,127.03 615.0,127.19 615.5,127.22 616.0,127.13 616.5,127.47 617.0,127.33 617.5,127.19 618.0,127.13 618.5,127.11 619.0,127.03 619.5,126.81 620.0,126.80 620.5,126.69 621.0,126.64 621.5,126.50 622.0,126.87 622.5,126.79 623.0,126.86 623.5,126.86 624.0,127.19 624.5,127.09 625.0,127.53 625.5,127.72 626.0,128.40 626.5,129.07 627.0,129.59 627.5,130.25 628.0,130.60 628.5,129.47 629.0,127.88 629.5,127.10 630.0,126.67 630.5,126.65 631.0,126.51 631.5,126.22 632.0,126.44 632.5,126.20 633.0,125.91 633.5,125.91 634.0,125.90 634.5,125.76 635.0,125.75 635.5,125.61 636.0,125.70 636.5,125.87 637.0,125.95 637.5,126.33 638.0,126.94 638.5,127.40 639.0,127.59 639.5,128.16" fill="none" stroke="#c83896" stroke-width="2.2" stroke-linejoin="round" stroke-linecap="round" />
<polyline points="416.0,121.82 416.5,121.54 417.0,121.51 417.5,121.54 418.0,121.34 418.5,121.36 419.0,121.56 419.5,121.61 420.0,121.72 420.5,121.95 421.0,121.61 421.5,121.39 422.0,121.21 422.5,121.14 423.0,120.91 423.5,120.96 424.0,120.63 424.5,120.37 425.0,120.14 425.5,120.33 426.0,120.30 426.5,120.12 427.0,120.27 427.5,120.14 428.0,120.12 428.5,120.27 429.0,120.32 429.5,120.33 430.0,120.04 430.5,119.79 431.0,119.51 431.5,119.42 432.0,119.38 432.5,119.72 433.0,119.72 433.5,119.56 434.0,119.42 434.5,119.47 435.0,119.55 435.5,119.84 436.0,119.89 436.5,119.99 437.0,120.18 437.5,120.12 438.0,120.01 438.5,119.80 439.0,119.65 439.5,119.74 440.0,119.64 440.5,119.86 441.0,119.84 441.5,119.91 442.0,119.77 442.5,120.02 443.0,119.80 443.5,119.44 444.0,119.42 444.5,119.51 445.0,119.62 445.5,119.55 446.0,119.61 446.5,119.72 447.0,119.77 447.5,119.77 448.0,119.56 448.5,119.70 449.0,119.51 449.5,119.62 450.0,119.80 450.5,120.12 451.0,120.09 451.5,120.29 452.0,120.14 452.5,120.00 453.0,119.60 453.5,119.83 454.0,120.05 454.5,120.30 455.0,120.34 455.5,120.64 456.0,121.12 456.5,121.40 457.0,122.29 457.5,123.26 458.0,123.99 458.5,124.06 459.0,122.34 459.5,121.17 460.0,120.51 460.5,120.12 461.0,119.93 461.5,119.94 462.0,119.70 462.5,119.57 463.0,119.65 463.5,119.71 464.0,119.49 464.5,119.40 465.0,119.25 465.5,119.18 466.0,119.35 466.5,119.35 467.0,119.67 467.5,119.55 468.0,119.31 468.5,119.17 469.0,119.08 469.5,119.12 470.0,119.37 470.5,119.29 471.0,119.36 471.5,119.22 472.0,119.10 472.5,119.00 473.0,119.24 473.5,119.39 474.0,119.39 474.5,119.68 475.0,119.65 475.5,119.67 476.0,119.49 476.5,119.38 477.0,119.36 477.5,119.50 478.0,119.36 478.5,119.64 479.0,119.77 479.5,119.86 480.0,120.08 480.5,120.42 481.0,120.56 481.5,120.65 482.0,120.68 482.5,120.69 483.0,120.61 483.5,120.97 484.0,120.72 484.5,120.70 485.0,120.73 485.5,121.07 486.0,121.01 486.5,121.08 487.0,121.02 487.5,121.11 488.0,121.13 488.5,120.87 489.0,120.97 489.5,120.92 490.0,120.84 490.5,120.83 491.0,120.99 491.5,120.82 492.0,121.35 492.5,121.40 493.0,121.53 493.5,121.71 494.0,121.84 494.5,121.99 495.0,122.20 495.5,122.37 496.0,122.33 496.5,122.29 497.0,122.26 497.5,122.20 498.0,122.18 498.5,121.93 499.0,122.14 499.5,122.33 500.0,122.53 500.5,122.42 501.0,122.51 501.5,122.55 502.0,122.43 502.5,122.52 503.0,122.54 503.5,122.70 504.0,122.69 504.5,122.83 505.0,122.81 505.5,122.76 506.0,122.52 506.5,122.62 507.0,122.56 507.5,122.72 508.0,122.70 508.5,122.99 509.0,122.96 509.5,123.03 510.0,123.11 510.5,122.89 511.0,122.94 511.5,122.97 512.0,122.76 512.5,122.47 513.0,122.44 513.5,122.04 514.0,121.98 514.5,121.78 515.0,121.99 515.5,121.89 516.0,122.03 516.5,122.07 517.0,121.79 517.5,121.75 518.0,121.64 518.5,121.62 519.0,121.52 519.5,121.69 520.0,121.62 520.5,121.30 521.0,121.25 521.5,121.40 522.0,120.96 522.5,120.97 523.0,121.06 523.5,120.67 524.0,120.69 524.5,120.55 525.0,120.61 525.5,120.48 526.0,120.65 526.5,120.26 527.0,120.42 527.5,120.45 528.0,120.28 528.5,120.28 529.0,120.32 529.5,119.98 530.0,120.12 530.5,119.94 531.0,119.86 531.5,119.89 532.0,119.92 532.5,119.95 533.0,119.84 533.5,119.82 534.0,120.04 534.5,120.25 535.0,120.50 535.5,120.79 536.0,120.80 536.5,120.39 537.0,120.35 537.5,119.94 538.0,119.82 538.5,119.94 539.0,120.12 539.5,120.13 540.0,120.27 540.5,120.54 541.0,120.81 541.5,120.95 542.0,121.46 542.5,122.20 543.0,122.97 543.5,123.80 544.0,124.54 544.5,123.87 545.0,122.56 545.5,121.35 546.0,120.60 546.5,120.11 547.0,119.84 547.5,119.47 548.0,119.51 548.5,119.79 549.0,120.03 549.5,120.16 550.0,119.91 550.5,119.69 551.0,119.36 551.5,118.96 552.0,119.09 552.5,119.27 553.0,119.12 553.5,119.15 554.0,119.29 554.5,119.19 555.0,119.10 555.5,118.97 556.0,118.94 556.5,118.77 557.0,118.71 557.5,118.89 558.0,118.91 558.5,118.71 559.0,118.74 559.5,118.67 560.0,118.72 560.5,118.70 561.0,118.97 561.5,118.86 562.0,119.11 562.5,119.12 563.0,118.93 563.5,119.00 564.0,119.10 564.5,119.17 565.0,119.31 565.5,119.16 566.0,119.54 566.5,119.56 567.0,119.55 567.5,119.76 568.0,119.95 568.5,119.89 569.0,120.00 569.5,120.06 570.0,120.15 570.5,120.17 571.0,120.44 571.5,120.27 572.0,120.39 572.5,120.13 573.0,120.66 573.5,120.69 574.0,120.85 574.5,120.94 575.0,121.23 575.5,120.86 576.0,120.88 576.5,120.73 577.0,120.77 577.5,120.60 578.0,120.69 578.5,120.56 579.0,120.38 579.5,120.84 580.0,121.06 580.5,121.05 581.0,121.28 581.5,121.52 582.0,121.50 582.5,121.27 583.0,121.36 583.5,121.34 584.0,121.20 584.5,121.14 585.0,121.50 585.5,121.53 586.0,121.98 586.5,122.11 587.0,122.30 587.5,122.22 588.0,122.28 588.5,122.35 589.0,122.70 589.5,122.71 590.0,122.67 590.5,122.46 591.0,122.67 591.5,122.33 592.0,122.21 592.5,122.08 593.0,122.29 593.5,122.00 594.0,121.92 594.5,122.04 595.0,122.27 595.5,122.06 596.0,122.15 596.5,122.05 597.0,121.70 597.5,121.72 598.0,121.42 598.5,121.39 599.0,121.24 599.5,121.02 600.0,120.94 600.5,120.99 601.0,120.97 601.5,120.53 602.0,120.39 602.5,120.33 603.0,120.24 603.5,120.21 604.0,120.41 604.5,120.22 605.0,120.06 605.5,120.13 606.0,120.37 606.5,120.17 607.0,120.00 607.5,120.08 608.0,119.89 608.5,119.72 609.0,119.63 609.5,119.43 610.0,119.61 610.5,119.68 611.0,119.46 611.5,119.39 612.0,120.02 612.5,119.58 613.0,119.55 613.5,119.73 614.0,119.63 614.5,119.29 615.0,119.58 615.5,119.57 616.0,119.17 616.5,119.26 617.0,119.11 617.5,119.27 618.0,119.33 618.5,119.35 619.0,119.38 619.5,119.53 620.0,119.58 620.5,119.76 621.0,119.59 621.5,119.56 622.0,119.51 622.5,119.28 623.0,119.46 623.5,119.72 624.0,119.35 624.5,119.46 625.0,119.59 625.5,119.87 626.0,119.93 626.5,120.30 627.0,120.52 627.5,121.32 628.0,121.74 628.5,122.67 629.0,123.01 629.5,122.81 630.0,121.03 630.5,119.74 631.0,118.80 631.5,118.66 632.0,118.59 632.5,118.23 633.0,118.22 633.5,118.09 634.0,117.78 634.5,117.96 635.0,117.97 635.5,117.89 636.0,117.87 636.5,117.76 637.0,118.00 637.5,118.12 638.0,118.42 638.5,119.21 639.0,119.98 639.5,120.66" fill="none" stroke="#188618" stroke-width="2.2" stroke-linejoin="round" stroke-linecap="round" />
<polyline points="416.0,113.29 416.5,113.24 417.0,113.46 417.5,113.32 418.0,113.36 418.5,113.50 419.0,113.74 419.5,113.86 420.0,113.60 420.5,113.64 421.0,113.64 421.5,113.49 422.0,113.41 422.5,113.68 423.0,113.75 423.5,113.75 424.0,113.44 424.5,112.94 425.0,112.57 425.5,112.67 426.0,112.36 426.5,112.63 427.0,112.73 427.5,112.49 428.0,112.32 428.5,112.11 429.0,111.88 429.5,111.66 430.0,111.80 430.5,111.72 431.0,111.84 431.5,111.88 432.0,111.88 432.5,112.23 433.0,112.24 433.5,112.08 434.0,111.97 434.5,111.87 435.0,111.48 435.5,111.66 436.0,111.82 436.5,111.65 437.0,111.94 437.5,111.88 438.0,111.89 438.5,111.91 439.0,112.05 439.5,111.78 440.0,111.79 440.5,111.85 441.0,112.04 441.5,111.99 442.0,112.05 442.5,112.16 443.0,111.91 443.5,111.72 444.0,111.68 444.5,111.78 445.0,111.80 445.5,111.99 446.0,111.89 446.5,111.85 447.0,111.83 447.5,111.66 448.0,112.04 448.5,111.82 449.0,111.73 449.5,111.81 450.0,111.69 450.5,111.46 451.0,111.46 451.5,111.30 452.0,111.28 452.5,111.62 453.0,112.01 453.5,112.25 454.0,112.59 454.5,112.64 455.0,112.77 455.5,112.90 456.0,112.91 456.5,113.46 457.0,113.94 457.5,114.54 458.0,115.32 458.5,116.40 459.0,116.78 459.5,116.29 460.0,114.92 460.5,113.61 461.0,112.98 461.5,112.57 462.0,112.45 462.5,112.22 463.0,111.96 463.5,111.83 464.0,112.26 464.5,112.18 465.0,112.56 465.5,112.87 466.0,113.07 466.5,112.78 467.0,112.56 467.5,112.32 468.0,112.22 468.5,112.23 469.0,112.36 469.5,112.59 470.0,112.66 470.5,112.69 471.0,112.69 471.5,112.97 472.0,113.04 472.5,113.00 473.0,112.87 473.5,112.82 474.0,112.55 474.5,112.21 475.0,112.38 475.5,112.36 476.0,112.40 476.5,112.38 477.0,112.15 477.5,111.69 478.0,111.80 478.5,111.72 479.0,111.52 479.5,111.36 480.0,111.41 480.5,111.51 481.0,111.54 481.5,111.56 482.0,111.56 482.5,111.68 483.0,111.62 483.5,111.69 484.0,111.67 484.5,111.69 485.0,111.77 485.5,111.63 486.0,111.73 486.5,112.06 487.0,112.41 487.5,112.65 488.0,113.06 488.5,113.19 489.0,113.31 489.5,113.44 490.0,113.56 490.5,113.54 491.0,113.71 491.5,113.74 492.0,113.50 492.5,113.65 493.0,113.72 493.5,113.86 494.0,113.95 494.5,114.28 495.0,114.40 495.5,114.58 496.0,114.76 496.5,114.92 497.0,114.76 497.5,114.89 498.0,114.79 498.5,114.91 499.0,114.79 499.5,114.84 500.0,114.68 500.5,114.69 501.0,114.55 501.5,114.66 502.0,114.82 502.5,115.06 503.0,114.98 503.5,115.20 504.0,114.79 504.5,114.81 505.0,114.62 505.5,114.68 506.0,114.48 506.5,114.41 507.0,114.41 507.5,114.66 508.0,114.66 508.5,114.81 509.0,114.76 509.5,114.57 510.0,114.32 510.5,114.02 511.0,114.06 511.5,114.08 512.0,114.04 512.5,114.08 513.0,114.24 513.5,114.06 514.0,114.18 514.5,114.27 515.0,114.25 515.5,114.14 516.0,114.03 516.5,114.17 517.0,114.11 517.5,113.97 518.0,113.86 518.5,113.35 519.0,113.13 519.5,112.77 520.0,112.82 520.5,112.92 521.0,112.81 521.5,112.78 522.0,112.86 522.5,112.49 523.0,112.29 523.5,112.17 524.0,112.10 524.5,111.89 525.0,111.88 525.5,111.52 526.0,111.44 526.5,111.38 527.0,111.25 527.5,111.19 528.0,111.12 528.5,111.08 529.0,111.48 529.5,111.58 530.0,111.80 530.5,111.74 531.0,111.62 531.5,111.61 532.0,111.75 532.5,111.78 533.0,111.85 533.5,111.75 534.0,111.66 534.5,112.04 535.0,112.12 535.5,112.35 536.0,112.40 536.5,112.51 537.0,112.34 537.5,112.22 538.0,112.30 538.5,112.63 539.0,112.42 539.5,112.38 540.0,112.27 540.5,112.56 541.0,112.89 541.5,113.50 542.0,114.07 542.5,114.68 543.0,115.27 543.5,115.71 544.0,116.49 544.5,116.40 545.0,114.80 545.5,113.53 546.0,113.12 546.5,112.43 547.0,112.01 547.5,111.71 548.0,111.77 548.5,111.36 549.0,111.49 549.5,111.11 550.0,110.73 550.5,110.65 551.0,110.59 551.5,110.45 552.0,110.81 552.5,111.00 553.0,110.71 553.5,110.88 554.0,110.95 554.5,111.27 555.0,111.24 555.5,111.46 556.0,111.41 556.5,111.54 557.0,111.37 557.5,111.46 558.0,111.54 558.5,111.40 559.0,111.32 559.5,111.46 560.0,111.54 560.5,111.59 561.0,111.65 561.5,111.68 562.0,111.65 562.5,111.55 563.0,111.58 563.5,111.67 564.0,111.53 564.5,111.44 565.0,111.44 565.5,111.27 566.0,111.09 566.5,111.31 567.0,111.50 567.5,111.23 568.0,111.46 568.5,111.79 569.0,111.78 569.5,112.09 570.0,111.93 570.5,111.69 571.0,111.71 571.5,112.04 572.0,111.82 572.5,112.15 573.0,112.29 573.5,112.17 574.0,112.27 574.5,112.80 575.0,113.16 575.5,113.24 576.0,113.35 576.5,113.58 577.0,113.42 577.5,113.49 578.0,113.68 578.5,113.80 579.0,113.80 579.5,113.84 580.0,113.71 580.5,113.78 581.0,113.66 581.5,113.50 582.0,113.30 582.5,113.27 583.0,113.32 583.5,113.25 584.0,113.33 584.5,113.42 585.0,113.63 585.5,113.63 586.0,113.99 586.5,114.43 587.0,114.57 587.5,114.39 588.0,114.27 588.5,114.13 589.0,114.03 589.5,113.96 590.0,114.37 590.5,114.53 591.0,114.54 591.5,114.63 592.0,114.82 592.5,114.65 593.0,114.51 593.5,114.68 594.0,114.81 594.5,114.58 595.0,114.71 595.5,114.82 596.0,114.83 596.5,114.74 597.0,114.87 597.5,114.63 598.0,114.63 598.5,114.56 599.0,114.36 599.5,114.06 600.0,114.11 600.5,113.88 601.0,113.37 601.5,113.17 602.0,113.26 602.5,112.95 603.0,112.82 603.5,113.12 604.0,112.95 604.5,113.02 605.0,113.12 605.5,113.11 606.0,112.72 606.5,112.75 607.0,112.47 607.5,112.60 608.0,112.28 608.5,112.22 609.0,112.05 609.5,112.08 610.0,111.99 610.5,112.07 611.0,112.13 611.5,111.94 612.0,111.87 612.5,111.75 613.0,111.53 613.5,111.46 614.0,111.67 614.5,111.84 615.0,111.86 615.5,112.03 616.0,111.97 616.5,112.00 617.0,111.86 617.5,111.79 618.0,111.57 618.5,111.67 619.0,111.71 619.5,111.72 620.0,111.72 620.5,111.87 621.0,111.84 621.5,112.05 622.0,112.29 622.5,111.93 623.0,111.53 623.5,111.57 624.0,111.52 624.5,111.53 625.0,111.59 625.5,111.73 626.0,111.95 626.5,112.34 627.0,112.48 627.5,113.17 628.0,113.74 628.5,114.61 629.0,115.37 629.5,115.81 630.0,114.47 630.5,112.86 631.0,112.00 631.5,111.62 632.0,111.33 632.5,111.42 633.0,111.65 633.5,111.69 634.0,111.43 634.5,111.06 635.0,110.99 635.5,111.01 636.0,110.91 636.5,110.72 637.0,110.46 637.5,110.57 638.0,110.79 638.5,111.33 639.0,112.18 639.5,112.83" fill="none" stroke="#14149c" stroke-width="2.2" stroke-linejoin="round" stroke-linecap="round" />
<polyline points="416.0,105.95 416.5,106.04 417.0,105.97 417.5,106.02 418.0,106.02 418.5,105.78 419.0,105.91 419.5,105.80 420.0,105.80 420.5,106.01 421.0,105.77 421.5,105.64 422.0,105.82 422.5,105.40 423.0,105.22 423.5,104.78 424.0,104.74 424.5,104.55 425.0,104.59 425.5,104.58 426.0,104.77 426.5,104.64 427.0,104.33 427.5,104.29 428.0,104.35 428.5,104.28 429.0,104.34 429.5,104.36 430.0,104.25 430.5,104.12 431.0,103.88 431.5,103.74 432.0,103.82 432.5,103.83 433.0,103.93 433.5,103.58 434.0,103.79 434.5,103.75 435.0,103.83 435.5,103.76 436.0,103.71 436.5,103.71 437.0,103.76 437.5,103.30 438.0,103.35 438.5,103.20 439.0,103.05 439.5,103.15 440.0,103.24 440.5,103.24 441.0,103.51 441.5,103.58 442.0,103.47 442.5,103.46 443.0,103.85 443.5,103.87 444.0,104.00 444.5,104.15 445.0,104.29 445.5,103.95 446.0,103.77 446.5,103.69 447.0,103.78 447.5,103.57 448.0,103.96 448.5,104.10 449.0,103.98 449.5,103.83 450.0,103.88 450.5,103.76 451.0,103.83 451.5,104.21 452.0,104.32 452.5,104.16 453.0,104.08 453.5,103.91 454.0,103.71 454.5,103.86 455.0,104.22 455.5,104.16 456.0,104.36 456.5,104.57 457.0,104.67 457.5,104.89 458.0,105.64 458.5,106.30 459.0,107.31 459.5,107.98 460.0,108.28 460.5,106.89 461.0,105.49 461.5,104.69 462.0,104.53 462.5,104.27 463.0,103.94 463.5,104.18 464.0,104.05 464.5,104.21 465.0,104.09 465.5,104.04 466.0,104.00 466.5,103.95 467.0,103.85 467.5,103.99 468.0,103.93 468.5,104.05 469.0,104.24 469.5,104.12 470.0,104.10 470.5,104.22 471.0,104.22 471.5,103.95 472.0,103.99 472.5,104.09 473.0,104.38 473.5,104.33 474.0,104.40 474.5,104.37 475.0,104.36 475.5,104.08 476.0,104.32 476.5,104.42 477.0,104.55 477.5,104.53 478.0,104.68 478.5,104.43 479.0,104.69 479.5,104.66 480.0,104.91 480.5,104.84 481.0,105.07 481.5,104.89 482.0,104.78 482.5,104.58 483.0,104.32 483.5,104.32 484.0,104.33 484.5,104.06 485.0,104.10 485.5,104.31 486.0,104.25 486.5,104.29 487.0,104.36 487.5,104.28 488.0,104.42 488.5,104.88 489.0,105.01 489.5,105.03 490.0,105.22 490.5,105.32 491.0,105.43 491.5,105.46 492.0,105.80 492.5,105.70 493.0,105.61 493.5,106.04 494.0,105.73 494.5,105.63 495.0,105.84 495.5,106.02 496.0,105.62 496.5,105.76 497.0,105.77 497.5,105.81 498.0,105.96 498.5,105.95 499.0,105.79 499.5,105.63 500.0,105.54 500.5,105.71 501.0,105.84 501.5,105.91 502.0,106.12 502.5,106.15 503.0,106.11 503.5,106.38 504.0,106.40 504.5,106.49 505.0,106.23 505.5,106.53 506.0,106.42 506.5,106.27 507.0,106.28 507.5,105.96 508.0,105.65 508.5,105.49 509.0,105.40 509.5,105.59 510.0,105.68 510.5,105.78 511.0,105.72 511.5,105.61 512.0,105.34 512.5,105.23 513.0,105.31 513.5,105.44 514.0,105.64 514.5,105.68 515.0,105.84 515.5,105.79 516.0,105.59 516.5,105.55 517.0,105.44 517.5,105.39 518.0,105.19 518.5,105.10 519.0,105.14 519.5,105.41 520.0,105.09 520.5,105.29 521.0,105.26 521.5,105.08 522.0,104.69 522.5,104.90 523.0,104.70 523.5,104.88 524.0,104.82 524.5,104.57 525.0,104.68 525.5,104.67 526.0,104.71 526.5,104.68 527.0,104.57 527.5,104.49 528.0,104.38 528.5,104.18 529.0,104.45 529.5,104.51 530.0,104.62 530.5,104.55 531.0,104.49 531.5,104.50 532.0,104.41 532.5,104.53 533.0,104.61 533.5,104.87 534.0,104.83 534.5,104.99 535.0,104.96 535.5,104.88 536.0,104.92 536.5,104.87 537.0,104.89 537.5,104.89 538.0,104.68 538.5,104.68 539.0,104.49 539.5,104.34 540.0,104.49 540.5,104.39 541.0,104.92 541.5,105.26 542.0,105.41 542.5,106.02 543.0,106.89 543.5,107.78 544.0,108.37 544.5,108.16 545.0,106.15 545.5,105.26 546.0,104.64 546.5,104.13 547.0,103.65 547.5,103.52 548.0,103.43 548.5,103.60 549.0,103.49 549.5,103.62 550.0,103.44 550.5,103.22 551.0,103.29 551.5,103.05 552.0,103.05 552.5,103.13 553.0,103.35 553.5,103.37 554.0,103.51 554.5,103.67 555.0,104.12 555.5,104.37 556.0,104.16 556.5,104.12 557.0,103.93 557.5,103.92 558.0,104.04 558.5,103.78 559.0,103.81 559.5,103.90 560.0,104.13 560.5,104.16 561.0,104.37 561.5,104.05 562.0,104.18 562.5,103.78 563.0,103.65 563.5,103.54 564.0,103.53 564.5,103.51 565.0,103.60 565.5,103.46 566.0,103.39 566.5,103.37 567.0,103.29 567.5,103.26 568.0,103.38 568.5,103.28 569.0,103.56 569.5,103.58 570.0,103.82 570.5,103.70 571.0,103.65 571.5,103.51 572.0,103.75 572.5,103.82 573.0,103.95 573.5,104.24 574.0,104.49 574.5,104.34 575.0,104.13 575.5,104.24 576.0,104.60 576.5,104.50 577.0,104.68 577.5,104.69 578.0,104.74 578.5,104.76 579.0,105.06 579.5,105.31 580.0,105.33 580.5,105.31 581.0,105.37 581.5,105.56 582.0,105.71 582.5,106.16 583.0,106.49 583.5,106.68 584.0,106.36 584.5,106.37 585.0,106.57 585.5,106.65 586.0,106.65 586.5,106.92 587.0,106.88 587.5,106.78 588.0,107.02 588.5,107.14 589.0,107.10 589.5,107.09 590.0,107.03 590.5,107.05 591.0,107.14 591.5,107.22 592.0,107.33 592.5,107.29 593.0,107.07 593.5,107.12 594.0,106.96 594.5,107.20 595.0,107.19 595.5,107.40 596.0,107.35 596.5,107.34 597.0,107.28 597.5,107.23 598.0,107.29 598.5,107.01 599.0,106.86 599.5,106.58 600.0,106.35 600.5,106.09 601.0,105.99 601.5,105.64 602.0,105.39 602.5,105.38 603.0,105.34 603.5,105.11 604.0,104.81 604.5,104.76 605.0,104.52 605.5,104.40 606.0,104.16 606.5,104.23 607.0,104.14 607.5,104.34 608.0,104.21 608.5,104.19 609.0,104.35 609.5,104.37 610.0,104.08 610.5,104.15 611.0,104.05 611.5,103.91 612.0,103.91 612.5,104.17 613.0,104.02 613.5,104.04 614.0,104.13 614.5,104.13 615.0,104.03 615.5,104.22 616.0,104.09 616.5,103.78 617.0,103.74 617.5,103.54 618.0,103.66 618.5,103.78 619.0,103.83 619.5,103.78 620.0,103.63 620.5,103.42 621.0,103.56 621.5,103.50 622.0,103.47 622.5,103.25 623.0,103.18 623.5,103.37 624.0,103.47 624.5,103.48 625.0,103.73 625.5,104.04 626.0,104.30 626.5,104.61 627.0,104.98 627.5,105.44 628.0,106.28 628.5,106.80 629.0,107.67 629.5,107.88 630.0,106.81 630.5,105.20 631.0,104.40 631.5,103.94 632.0,103.87 632.5,103.57 633.0,103.42 633.5,103.13 634.0,102.90 634.5,102.39 635.0,102.23 635.5,102.15 636.0,101.89 636.5,101.85 637.0,101.89 637.5,101.70 638.0,101.85 638.5,102.57 639.0,103.27 639.5,103.52" fill="none" stroke="#ee8a2a" stroke-width="2.2" stroke-linejoin="round" stroke-linecap="round" />
<polyline points="416.0,96.99 416.5,96.95 417.0,96.96 417.5,97.27 418.0,97.16 418.5,97.31 419.0,97.57 419.5,97.60 420.0,97.69 420.5,97.40 421.0,97.27 421.5,97.12 422.0,97.22 422.5,97.36 423.0,97.38 423.5,97.34 424.0,97.17 424.5,96.88 425.0,96.59 425.5,96.49 426.0,96.16 426.5,96.05 427.0,95.92 427.5,95.79 428.0,95.45 428.5,95.37 429.0,95.00 429.5,94.74 430.0,94.97 430.5,94.86 431.0,94.62 431.5,94.62 432.0,94.71 432.5,94.39 433.0,94.46 433.5,94.71 434.0,94.89 434.5,95.38 435.0,95.76 435.5,95.64 436.0,95.60 436.5,95.62 437.0,95.23 437.5,95.23 438.0,95.15 438.5,95.49 439.0,95.53 439.5,95.73 440.0,95.62 440.5,95.60 441.0,95.35 441.5,95.71 442.0,95.91 442.5,96.08 443.0,96.06 443.5,96.15 444.0,96.11 444.5,96.43 445.0,96.32 445.5,96.71 446.0,96.56 446.5,96.39 447.0,96.07 447.5,96.44 448.0,95.90 448.5,96.30 449.0,96.54 449.5,96.78 450.0,96.56 450.5,96.54 451.0,96.60 451.5,96.75 452.0,96.81 452.5,97.00 453.0,96.97 453.5,96.73 454.0,96.62 454.5,96.48 455.0,96.35 455.5,96.74 456.0,96.84 456.5,97.03 457.0,97.18 457.5,97.55 458.0,98.02 458.5,98.96 459.0,100.16 459.5,101.15 460.0,101.41 460.5,100.16 461.0,98.84 461.5,98.09 462.0,97.70 462.5,97.64 463.0,97.48 463.5,97.46 464.0,97.44 464.5,97.40 465.0,97.37 465.5,97.26 466.0,97.14 466.5,97.15 467.0,97.25 467.5,97.13 468.0,97.01 468.5,97.24 469.0,97.29 469.5,97.09 470.0,96.88 470.5,96.78 471.0,96.34 471.5,96.41 472.0,96.36 472.5,96.30 473.0,96.53 473.5,96.36 474.0,96.10 474.5,96.23 475.0,96.13 475.5,96.16 476.0,96.42 476.5,96.51 477.0,96.11 477.5,96.36 478.0,96.29 478.5,96.33 479.0,95.99 479.5,96.08 480.0,96.05 480.5,96.16 481.0,96.29 481.5,96.51 482.0,96.46 482.5,96.15 483.0,96.52 483.5,96.69 484.0,97.00 484.5,97.04 485.0,97.20 485.5,97.06 486.0,97.10 486.5,96.89 487.0,96.99 487.5,97.09 488.0,97.18 488.5,97.14 489.0,97.38 489.5,97.50 490.0,97.60 490.5,97.72 491.0,97.69 491.5,97.63 492.0,97.66 492.5,97.69 493.0,97.71 493.5,97.68 494.0,97.99 494.5,97.99 495.0,98.21 495.5,98.24 496.0,98.24 496.5,98.34 497.0,98.35 497.5,98.30 498.0,98.10 498.5,98.15 499.0,98.05 499.5,97.62 500.0,97.56 500.5,97.64 501.0,97.51 501.5,97.66 502.0,97.94 502.5,98.07 503.0,98.01 503.5,98.16 504.0,98.09 504.5,97.89 505.0,97.65 505.5,97.89 506.0,98.19 506.5,98.00 507.0,98.19 507.5,98.43 508.0,98.17 508.5,97.84 509.0,97.93 509.5,97.72 510.0,97.88 510.5,97.82 511.0,97.90 511.5,97.77 512.0,97.66 512.5,97.53 513.0,97.49 513.5,97.28 514.0,97.23 514.5,97.51 515.0,97.34 515.5,97.44 516.0,97.32 516.5,96.88 517.0,96.89 517.5,96.92 518.0,96.83 518.5,96.78 519.0,96.84 519.5,96.93 520.0,96.76 520.5,96.49 521.0,96.21 521.5,96.18 522.0,96.18 522.5,96.38 523.0,96.20 523.5,96.48 524.0,96.49 524.5,96.39 525.0,96.07 525.5,96.56 526.0,96.18 526.5,96.09 527.0,96.10 527.5,95.99 528.0,95.77 528.5,95.77 529.0,95.86 529.5,95.99 530.0,95.70 530.5,95.61 531.0,95.57 531.5,95.90 532.0,96.04 532.5,96.15 533.0,96.05 533.5,96.17 534.0,96.03 534.5,95.88 535.0,95.75 535.5,95.66 536.0,95.71 536.5,95.93 537.0,96.05 537.5,96.05 538.0,96.22 538.5,96.29 539.0,96.32 539.5,96.34 540.0,96.50 540.5,96.79 541.0,96.99 541.5,97.31 542.0,97.68 542.5,98.29 543.0,98.75 543.5,99.72 544.0,100.25 544.5,99.61 545.0,98.06 545.5,97.06 546.0,96.34 546.5,96.11 547.0,95.85 547.5,95.67 548.0,95.73 548.5,95.62 549.0,95.63 549.5,95.61 550.0,95.41 550.5,95.44 551.0,95.53 551.5,95.44 552.0,95.45 552.5,95.36 553.0,95.22 553.5,95.18 554.0,95.09 554.5,94.83 555.0,95.12 555.5,95.01 556.0,94.99 556.5,95.15 557.0,95.05 557.5,95.04 558.0,95.04 558.5,94.85 559.0,94.85 559.5,95.05 560.0,95.24 560.5,95.41 561.0,95.36 561.5,95.39 562.0,95.49 562.5,95.87 563.0,95.83 563.5,95.89 564.0,95.96 564.5,96.15 565.0,96.11 565.5,96.28 566.0,96.15 566.5,96.35 567.0,96.31 567.5,96.47 568.0,96.78 568.5,96.74 569.0,96.64 569.5,96.66 570.0,96.57 570.5,96.26 571.0,96.15 571.5,96.32 572.0,96.50 572.5,96.38 573.0,96.15 573.5,96.12 574.0,96.30 574.5,96.14 575.0,96.27 575.5,96.46 576.0,96.57 576.5,96.61 577.0,96.81 577.5,97.00 578.0,97.24 578.5,97.21 579.0,97.63 579.5,97.67 580.0,97.67 580.5,97.93 581.0,98.18 581.5,98.08 582.0,98.07 582.5,98.15 583.0,98.25 583.5,98.52 584.0,98.67 584.5,98.64 585.0,98.65 585.5,98.80 586.0,99.20 586.5,99.00 587.0,99.19 587.5,99.34 588.0,99.12 588.5,98.81 589.0,98.68 589.5,98.47 590.0,98.66 590.5,98.50 591.0,98.43 591.5,98.46 592.0,98.75 592.5,98.64 593.0,98.81 593.5,98.74 594.0,98.46 594.5,98.24 595.0,97.97 595.5,97.86 596.0,97.83 596.5,97.72 597.0,98.12 597.5,98.30 598.0,98.38 598.5,98.35 599.0,98.04 599.5,97.97 600.0,97.95 600.5,97.66 601.0,97.73 601.5,97.91 602.0,97.72 602.5,97.68 603.0,97.84 603.5,97.44 604.0,97.38 604.5,97.27 605.0,96.96 605.5,96.67 606.0,96.59 606.5,96.27 607.0,96.44 607.5,96.47 608.0,96.50 608.5,96.58 609.0,96.87 609.5,96.62 610.0,96.47 610.5,96.10 611.0,96.16 611.5,95.92 612.0,95.91 612.5,95.95 613.0,95.94 613.5,95.68 614.0,95.55 614.5,95.25 615.0,95.08 615.5,95.35 616.0,95.30 616.5,95.42 617.0,95.58 617.5,95.69 618.0,95.40 618.5,95.47 619.0,95.49 619.5,95.36 620.0,95.44 620.5,95.25 621.0,95.43 621.5,95.17 622.0,95.27 622.5,95.25 623.0,95.54 623.5,95.44 624.0,95.66 624.5,95.75 625.0,96.13 625.5,96.21 626.0,96.39 626.5,96.87 627.0,97.32 627.5,97.91 628.0,98.72 628.5,99.70 629.0,100.30 629.5,99.80 630.0,98.04 630.5,96.86 631.0,96.05 631.5,95.68 632.0,95.51 632.5,95.31 633.0,95.19 633.5,95.03 634.0,94.84 634.5,94.78 635.0,94.72 635.5,94.72 636.0,95.02 636.5,94.98 637.0,95.11 637.5,95.31 638.0,95.38 638.5,96.17 639.0,96.93 639.5,97.35" fill="none" stroke="#7a167a" stroke-width="2.2" stroke-linejoin="round" stroke-linecap="round" />
<polyline points="416.0,90.31 416.5,90.00 417.0,89.98 417.5,90.11 418.0,89.98 418.5,89.96 419.0,90.06 419.5,90.28 420.0,90.30 420.5,90.50 421.0,90.43 421.5,90.30 422.0,90.06 422.5,89.98 423.0,89.98 423.5,89.94 424.0,89.90 424.5,89.77 425.0,89.70 425.5,89.85 426.0,89.45 426.5,89.37 427.0,89.37 427.5,89.31 428.0,89.21 428.5,89.22 429.0,89.23 429.5,89.00 430.0,88.66 430.5,88.35 431.0,88.04 431.5,87.91 432.0,87.92 432.5,88.05 433.0,88.23 433.5,88.13 434.0,88.00 434.5,88.35 435.0,88.25 435.5,88.18 436.0,87.77 436.5,87.89 437.0,88.08 437.5,88.01 438.0,87.68 438.5,87.95 439.0,87.98 439.5,87.72 440.0,87.78 440.5,88.44 441.0,88.22 441.5,88.26 442.0,88.26 442.5,88.19 443.0,88.01 443.5,88.03 444.0,88.29 444.5,88.31 445.0,88.19 445.5,88.27 446.0,88.04 446.5,88.28 447.0,88.19 447.5,88.20 448.0,88.22 448.5,88.33 449.0,88.21 449.5,88.14 450.0,88.18 450.5,88.32 451.0,88.68 451.5,88.80 452.0,88.83 452.5,88.79 453.0,89.16 453.5,89.04 454.0,89.09 454.5,89.27 455.0,89.48 455.5,89.67 456.0,89.85 456.5,90.26 457.0,90.78 457.5,91.50 458.0,92.25 458.5,93.40 459.0,93.93 459.5,93.50 460.0,91.69 460.5,90.77 461.0,90.03 461.5,89.45 462.0,89.44 462.5,89.26 463.0,89.12 463.5,88.92 464.0,88.87 464.5,88.88 465.0,88.71 465.5,88.57 466.0,88.70 466.5,88.46 467.0,88.61 467.5,88.47 468.0,88.25 468.5,88.18 469.0,88.47 469.5,88.53 470.0,88.47 470.5,88.78 471.0,88.58 471.5,88.32 472.0,88.51 472.5,88.41 473.0,88.38 473.5,88.35 474.0,88.53 474.5,88.69 475.0,88.66 475.5,88.88 476.0,89.12 476.5,88.92 477.0,88.89 477.5,89.03 478.0,89.04 478.5,88.85 479.0,88.74 479.5,88.84 480.0,88.69 480.5,89.01 481.0,89.01 481.5,89.01 482.0,89.09 482.5,88.97 483.0,88.94 483.5,89.34 484.0,89.62 484.5,89.62 485.0,89.83 485.5,89.83 486.0,89.77 486.5,89.57 487.0,89.64 487.5,89.65 488.0,89.86 488.5,90.20 489.0,90.49 489.5,90.54 490.0,90.63 490.5,90.56 491.0,90.41 491.5,90.62 492.0,90.82 492.5,90.87 493.0,90.99 493.5,91.06 494.0,90.79 494.5,91.15 495.0,91.34 495.5,91.25 496.0,91.46 496.5,91.51 497.0,91.54 497.5,91.75 498.0,91.86 498.5,91.56 499.0,91.50 499.5,91.82 500.0,91.95 500.5,92.10 501.0,92.00 501.5,92.14 502.0,92.00 502.5,91.99 503.0,91.66 503.5,91.90 504.0,91.75 504.5,92.03 505.0,91.82 505.5,91.72 506.0,91.74 506.5,91.71 507.0,91.54 507.5,91.54 508.0,91.31 508.5,91.10 509.0,91.00 509.5,91.06 510.0,90.98 510.5,91.14 511.0,91.15 511.5,91.15 512.0,91.23 512.5,91.26 513.0,91.10 513.5,91.08 514.0,91.07 514.5,91.11 515.0,90.70 515.5,90.76 516.0,90.81 516.5,90.83 517.0,90.77 517.5,91.02 518.0,90.77 518.5,90.57 519.0,90.77 519.5,90.63 520.0,90.58 520.5,90.23 521.0,90.10 521.5,89.86 522.0,89.89 522.5,89.82 523.0,89.86 523.5,89.88 524.0,89.67 524.5,89.67 525.0,89.47 525.5,89.45 526.0,89.20 526.5,89.40 527.0,89.34 527.5,89.01 528.0,88.68 528.5,89.00 529.0,88.88 529.5,88.67 530.0,89.10 530.5,88.76 531.0,88.91 531.5,88.96 532.0,88.83 532.5,88.74 533.0,88.84 533.5,88.96 534.0,89.09 534.5,89.15 535.0,89.10 535.5,89.30 536.0,89.07 536.5,88.78 537.0,88.54 537.5,88.64 538.0,88.38 538.5,88.93 539.0,89.12 539.5,89.24 540.0,89.38 540.5,89.63 541.0,89.82 541.5,90.19 542.0,90.70 542.5,91.54 543.0,92.32 543.5,92.72 544.0,92.56 544.5,90.89 545.0,89.63 545.5,88.98 546.0,88.87 546.5,88.55 547.0,88.69 547.5,88.49 548.0,88.26 548.5,87.98 549.0,87.93 549.5,87.48 550.0,87.21 550.5,87.47 551.0,87.61 551.5,87.87 552.0,88.04 552.5,88.02 553.0,87.90 553.5,87.97 554.0,87.96 554.5,88.07 555.0,88.10 555.5,88.08 556.0,87.92 556.5,87.83 557.0,87.80 557.5,87.75 558.0,87.78 558.5,87.63 559.0,87.88 559.5,87.80 560.0,87.75 560.5,88.11 561.0,88.18 561.5,87.95 562.0,87.76 562.5,87.68 563.0,87.70 563.5,87.42 564.0,87.49 564.5,87.53 565.0,87.51 565.5,87.57 566.0,87.86 566.5,87.91 567.0,87.94 567.5,87.87 568.0,87.86 568.5,87.69 569.0,87.65 569.5,87.79 570.0,87.82 570.5,87.67 571.0,87.74 571.5,87.94 572.0,88.13 572.5,88.17 573.0,88.53 573.5,88.52 574.0,88.79 574.5,88.88 575.0,89.23 575.5,89.33 576.0,89.50 576.5,89.67 577.0,89.65 577.5,89.63 578.0,89.67 578.5,89.86 579.0,89.88 579.5,89.98 580.0,90.18 580.5,90.27 581.0,90.46 581.5,90.49 582.0,90.65 582.5,90.78 583.0,90.78 583.5,90.74 584.0,91.07 584.5,91.35 585.0,91.51 585.5,91.64 586.0,91.74 586.5,91.59 587.0,91.30 587.5,91.38 588.0,91.29 588.5,91.35 589.0,91.27 589.5,91.35 590.0,91.27 590.5,91.16 591.0,91.01 591.5,91.04 592.0,90.94 592.5,91.05 593.0,90.87 593.5,90.74 594.0,90.84 594.5,90.83 595.0,90.41 595.5,90.57 596.0,90.50 596.5,90.47 597.0,90.13 597.5,90.33 598.0,89.83 598.5,89.80 599.0,89.88 599.5,89.92 600.0,89.60 600.5,89.48 601.0,89.28 601.5,89.19 602.0,89.19 602.5,89.22 603.0,89.12 603.5,89.01 604.0,88.83 604.5,88.93 605.0,88.81 605.5,88.83 606.0,88.75 606.5,88.60 607.0,88.31 607.5,88.27 608.0,88.51 608.5,88.57 609.0,88.70 609.5,88.43 610.0,88.62 610.5,88.59 611.0,88.46 611.5,88.44 612.0,88.53 612.5,88.23 613.0,88.16 613.5,88.30 614.0,88.45 614.5,88.56 615.0,88.57 615.5,88.72 616.0,88.69 616.5,88.39 617.0,88.01 617.5,87.87 618.0,87.56 618.5,87.53 619.0,87.75 619.5,87.77 620.0,87.72 620.5,87.76 621.0,87.83 621.5,87.93 622.0,88.01 622.5,87.88 623.0,88.00 623.5,88.26 624.0,88.20 624.5,88.11 625.0,88.75 625.5,88.96 626.0,89.43 626.5,89.77 627.0,90.53 627.5,91.00 628.0,91.91 628.5,92.83 629.0,93.18 629.5,92.57 630.0,91.12 630.5,89.89 631.0,89.02 631.5,88.54 632.0,88.17 632.5,87.75 633.0,87.63 633.5,87.66 634.0,87.71 634.5,87.64 635.0,87.54 635.5,87.41 636.0,86.98 636.5,86.66 637.0,86.61 637.5,86.87 638.0,87.21 638.5,87.71 639.0,88.42 639.5,88.96" fill="none" stroke="#7624d8" stroke-width="2.2" stroke-linejoin="round" stroke-linecap="round" />
<polyline points="416.0,81.47 416.5,81.77 417.0,81.57 417.5,81.86 418.0,82.16 418.5,82.29 419.0,82.47 419.5,82.46 420.0,82.38 420.5,82.31 421.0,82.04 421.5,81.87 422.0,81.91 422.5,81.76 423.0,81.95 423.5,82.01 424.0,81.61 424.5,81.48 425.0,81.48 425.5,81.43 426.0,81.45 426.5,81.44 427.0,81.28 427.5,81.09 428.0,80.79 428.5,80.55 429.0,80.29 429.5,80.34 430.0,80.38 430.5,80.28 431.0,80.47 431.5,80.81 432.0,80.56 432.5,80.69 433.0,80.65 433.5,80.57 434.0,80.68 434.5,80.81 435.0,80.54 435.5,80.30 436.0,80.02 436.5,79.80 437.0,79.49 437.5,79.45 438.0,79.56 438.5,79.87 439.0,80.02 439.5,80.28 440.0,80.48 440.5,80.39 441.0,80.46 441.5,80.10 442.0,79.97 442.5,79.92 443.0,79.97 443.5,79.92 444.0,80.18 444.5,80.12 445.0,80.09 445.5,80.06 446.0,80.26 446.5,80.17 447.0,80.41 447.5,80.75 448.0,80.88 448.5,80.70 449.0,80.84 449.5,80.58 450.0,80.18 450.5,80.31 451.0,80.41 451.5,80.37 452.0,80.51 452.5,80.81 453.0,80.85 453.5,81.09 454.0,81.62 454.5,82.22 455.0,82.97 455.5,83.96 456.0,84.95 456.5,85.83 457.0,85.04 457.5,83.39 458.0,82.23 458.5,81.61 459.0,81.36 459.5,81.12 460.0,81.16 460.5,81.26 461.0,81.44 461.5,81.29 462.0,81.12 462.5,81.00 463.0,80.76 463.5,80.47 464.0,80.56 464.5,80.77 465.0,80.55 465.5,80.59 466.0,80.62 466.5,80.93 467.0,80.79 467.5,80.98 468.0,81.15 468.5,81.13 469.0,80.87 469.5,80.81 470.0,80.75 470.5,80.57 471.0,80.46 471.5,80.44 472.0,80.44 472.5,80.43 473.0,80.57 473.5,80.78 474.0,80.69 474.5,80.85 475.0,80.73 475.5,80.94 476.0,80.92 476.5,81.30 477.0,81.25 477.5,81.31 478.0,81.22 478.5,80.95 479.0,81.27 479.5,81.42 480.0,81.56 480.5,81.73 481.0,82.05 481.5,81.67 482.0,81.65 482.5,81.41 483.0,81.44 483.5,81.14 484.0,81.45 484.5,81.30 485.0,81.17 485.5,81.15 486.0,81.29 486.5,81.14 487.0,81.02 487.5,81.03 488.0,80.98 488.5,81.19 489.0,81.27 489.5,81.56 490.0,81.52 490.5,81.61 491.0,81.66 491.5,82.02 492.0,81.72 492.5,82.07 493.0,82.31 493.5,82.60 494.0,82.32 494.5,82.41 495.0,82.13 495.5,82.04 496.0,81.86 496.5,82.38 497.0,82.67 497.5,82.90 498.0,83.33 498.5,83.39 499.0,83.37 499.5,83.51 500.0,83.58 500.5,83.60 501.0,83.37 501.5,83.29 502.0,83.31 502.5,83.36 503.0,83.28 503.5,83.18 504.0,82.87 504.5,82.76 505.0,82.77 505.5,82.83 506.0,82.74 506.5,82.97 507.0,82.72 507.5,82.66 508.0,82.68 508.5,82.68 509.0,82.91 509.5,82.71 510.0,82.68 510.5,82.67 511.0,82.18 511.5,81.97 512.0,82.22 512.5,82.16 513.0,82.19 513.5,82.01 514.0,81.77 514.5,81.68 515.0,81.95 515.5,81.71 516.0,82.01 516.5,82.01 517.0,81.87 517.5,81.53 518.0,81.48 518.5,80.93 519.0,81.00 519.5,80.96 520.0,81.01 520.5,80.78 521.0,80.56 521.5,80.77 522.0,80.71 522.5,80.38 523.0,80.25 523.5,80.27 524.0,79.97 524.5,79.79 525.0,79.65 525.5,79.29 526.0,79.65 526.5,79.57 527.0,79.74 527.5,79.72 528.0,79.87 528.5,79.51 529.0,79.36 529.5,79.21 530.0,79.24 530.5,79.21 531.0,79.41 531.5,79.66 532.0,79.68 532.5,79.71 533.0,79.88 533.5,79.82 534.0,79.95 534.5,80.07 535.0,80.28 535.5,80.52 536.0,80.62 536.5,80.40 537.0,80.33 537.5,80.43 538.0,80.66 538.5,80.92 539.0,81.49 539.5,82.28 540.0,83.14 540.5,84.04 541.0,84.78 541.5,84.78 542.0,83.08 542.5,81.82 543.0,81.21 543.5,80.63 544.0,80.31 544.5,80.22 545.0,80.10 545.5,79.70 546.0,79.48 546.5,79.58 547.0,79.46 547.5,79.31 548.0,79.26 548.5,79.07 549.0,78.92 549.5,78.87 550.0,79.13 550.5,79.23 551.0,79.41 551.5,79.35 552.0,79.60 552.5,79.58 553.0,79.67 553.5,79.51 554.0,79.87 554.5,79.81 555.0,79.64 555.5,79.48 556.0,79.43 556.5,79.11 557.0,79.11 557.5,79.13 558.0,78.95 558.5,79.06 559.0,79.45 559.5,79.56 560.0,79.32 560.5,79.45 561.0,79.70 561.5,79.82 562.0,79.92 562.5,80.20 563.0,80.19 563.5,80.25 564.0,80.26 564.5,80.40 565.0,80.45 565.5,80.39 566.0,80.27 566.5,80.49 567.0,80.35 567.5,80.26 568.0,80.43 568.5,80.37 569.0,80.43 569.5,80.81 570.0,80.90 570.5,81.24 571.0,81.54 571.5,81.68 572.0,81.45 572.5,81.51 573.0,81.39 573.5,81.14 574.0,81.32 574.5,81.46 575.0,81.55 575.5,81.66 576.0,82.02 576.5,82.19 577.0,82.64 577.5,82.59 578.0,82.77 578.5,82.78 579.0,83.02 579.5,82.72 580.0,82.76 580.5,82.95 581.0,83.02 581.5,83.19 582.0,83.31 582.5,83.16 583.0,82.89 583.5,83.15 584.0,82.99 584.5,82.96 585.0,82.96 585.5,82.90 586.0,82.76 586.5,82.88 587.0,82.98 587.5,83.09 588.0,83.20 588.5,83.12 589.0,82.98 589.5,82.81 590.0,82.60 590.5,82.85 591.0,82.96 591.5,82.99 592.0,82.78 592.5,82.95 593.0,82.55 593.5,82.47 594.0,82.25 594.5,82.02 595.0,81.83 595.5,81.54 596.0,81.20 596.5,81.38 597.0,81.35 597.5,81.26 598.0,81.37 598.5,81.43 599.0,81.02 599.5,81.05 600.0,80.81 600.5,80.88 601.0,80.70 601.5,81.09 602.0,80.94 602.5,81.11 603.0,81.35 603.5,81.30 604.0,81.43 604.5,81.47 605.0,81.25 605.5,80.98 606.0,81.05 606.5,80.82 607.0,80.68 607.5,80.70 608.0,80.78 608.5,80.85 609.0,80.78 609.5,80.75 610.0,80.92 610.5,80.86 611.0,80.34 611.5,80.39 612.0,80.11 612.5,80.00 613.0,79.96 613.5,79.90 614.0,79.92 614.5,79.74 615.0,79.82 615.5,79.91 616.0,79.97 616.5,79.60 617.0,79.77 617.5,79.76 618.0,79.77 618.5,79.46 619.0,79.48 619.5,79.25 620.0,79.10 620.5,78.98 621.0,79.24 621.5,78.86 622.0,79.18 622.5,79.37 623.0,79.39 623.5,79.46 624.0,80.05 624.5,80.42 625.0,81.02 625.5,81.31 626.0,82.02 626.5,82.92 627.0,83.25 627.5,82.28 628.0,81.12 628.5,80.43 629.0,79.99 629.5,79.71 630.0,79.37 630.5,79.33 631.0,79.04 631.5,78.93 632.0,79.04 632.5,79.18 633.0,78.92 633.5,79.14 634.0,79.42 634.5,79.48 635.0,79.35 635.5,79.52 636.0,79.89 636.5,80.18 637.0,80.56 637.5,81.01 638.0,81.47 638.5,81.54 639.0,81.82 639.5,81.94" fill="none" stroke="#000000" stroke-width="2.2" stroke-linejoin="round" stroke-linecap="round" />
<polyline points="416.0,76.64 416.5,76.39 417.0,76.27 417.5,75.90 418.0,75.83 418.5,75.94 419.0,76.06 419.5,75.97 420.0,75.98 420.5,76.05 421.0,76.17 421.5,76.09 422.0,76.03 422.5,75.78 423.0,75.80 423.5,75.67 424.0,75.34 424.5,74.97 425.0,75.05 425.5,74.99 426.0,74.84 426.5,74.85 427.0,75.07 427.5,75.31 428.0,75.24 428.5,75.00 429.0,75.00 429.5,74.88 430.0,74.88 430.5,75.19 431.0,75.18 431.5,75.39 432.0,75.37 432.5,75.66 433.0,75.45 433.5,75.55 434.0,75.27 434.5,75.23 435.0,75.24 435.5,74.89 436.0,74.67 436.5,74.57 437.0,74.51 437.5,74.31 438.0,74.32 438.5,74.49 439.0,74.56 439.5,74.67 440.0,74.85 440.5,74.72 441.0,74.64 441.5,74.62 442.0,74.68 442.5,74.59 443.0,74.18 443.5,74.23 444.0,74.21 444.5,74.42 445.0,74.22 445.5,74.14 446.0,74.12 446.5,74.19 447.0,74.08 447.5,73.94 448.0,74.02 448.5,74.27 449.0,74.48 449.5,74.66 450.0,74.64 450.5,75.00 451.0,75.03 451.5,75.29 452.0,75.78 452.5,76.37 453.0,77.56 453.5,78.82 454.0,79.03 454.5,77.71 455.0,76.22 455.5,75.28 456.0,74.76 456.5,74.57 457.0,74.39 457.5,74.39 458.0,74.56 458.5,74.68 459.0,74.52 459.5,74.38 460.0,74.35 460.5,74.23 461.0,74.14 461.5,74.09 462.0,74.10 462.5,74.29 463.0,74.42 463.5,74.53 464.0,74.55 464.5,74.52 465.0,74.55 465.5,74.34 466.0,74.29 466.5,74.03 467.0,74.22 467.5,74.39 468.0,74.26 468.5,74.26 469.0,74.08 469.5,74.16 470.0,73.97 470.5,74.23 471.0,74.50 471.5,74.64 472.0,74.78 472.5,74.81 473.0,74.71 473.5,74.47 474.0,74.33 474.5,74.35 475.0,74.25 475.5,74.48 476.0,74.60 476.5,75.04 477.0,75.16 477.5,75.40 478.0,75.31 478.5,75.44 479.0,75.35 479.5,75.30 480.0,75.05 480.5,75.29 481.0,74.99 481.5,74.77 482.0,74.70 482.5,74.85 483.0,74.82 483.5,75.01 484.0,75.42 484.5,75.42 485.0,75.57 485.5,75.51 486.0,75.56 486.5,75.59 487.0,75.49 487.5,75.61 488.0,75.63 488.5,75.52 489.0,75.55 489.5,75.55 490.0,75.49 490.5,75.32 491.0,75.33 491.5,75.36 492.0,75.33 492.5,75.61 493.0,75.82 493.5,75.87 494.0,76.00 494.5,76.35 495.0,76.30 495.5,76.23 496.0,76.55 496.5,76.49 497.0,76.19 497.5,76.31 498.0,76.08 498.5,76.12 499.0,76.17 499.5,76.42 500.0,76.54 500.5,76.87 501.0,76.86 501.5,76.92 502.0,76.78 502.5,76.57 503.0,76.18 503.5,75.90 504.0,75.71 504.5,75.31 505.0,75.30 505.5,75.40 506.0,75.61 506.5,75.65 507.0,75.99 507.5,76.15 508.0,76.07 508.5,76.07 509.0,75.73 509.5,75.56 510.0,75.34 510.5,75.08 511.0,75.01 511.5,75.02 512.0,75.07 512.5,75.07 513.0,75.21 513.5,75.34 514.0,75.32 514.5,75.41 515.0,75.54 515.5,75.25 516.0,75.20 516.5,75.65 517.0,75.58 517.5,75.53 518.0,75.28 518.5,75.33 519.0,75.27 519.5,74.91 520.0,74.93 520.5,75.10 521.0,74.98 521.5,74.80 522.0,74.87 522.5,74.77 523.0,74.70 523.5,74.69 524.0,74.29 524.5,74.28 525.0,74.49 525.5,74.23 526.0,74.31 526.5,74.44 527.0,73.97 527.5,73.80 528.0,73.91 528.5,74.12 529.0,73.88 529.5,74.08 530.0,74.01 530.5,73.96 531.0,74.18 531.5,74.28 532.0,74.19 532.5,74.15 533.0,73.94 533.5,74.12 534.0,74.11 534.5,74.63 535.0,75.02 535.5,75.04 536.0,75.27 536.5,75.66 537.0,75.91 537.5,76.58 538.0,77.45 538.5,77.96 539.0,77.73 539.5,76.12 540.0,74.82 540.5,74.34 541.0,73.92 541.5,73.56 542.0,73.45 542.5,73.55 543.0,73.43 543.5,73.32 544.0,72.75 544.5,72.86 545.0,72.72 545.5,72.52 546.0,72.64 546.5,72.61 547.0,72.38 547.5,72.35 548.0,72.57 548.5,72.49 549.0,72.63 549.5,72.78 550.0,73.11 550.5,72.99 551.0,73.26 551.5,73.30 552.0,73.46 552.5,73.50 553.0,73.52 553.5,73.70 554.0,73.77 554.5,74.06 555.0,74.04 555.5,73.84 556.0,73.89 556.5,74.05 557.0,74.01 557.5,74.06 558.0,74.13 558.5,74.24 559.0,74.43 559.5,74.35 560.0,74.45 560.5,74.41 561.0,74.52 561.5,74.49 562.0,74.58 562.5,74.47 563.0,74.64 563.5,74.58 564.0,74.49 564.5,74.60 565.0,74.43 565.5,74.26 566.0,74.36 566.5,74.16 567.0,73.99 567.5,74.03 568.0,73.99 568.5,74.12 569.0,73.98 569.5,74.22 570.0,74.61 570.5,74.83 571.0,74.88 571.5,74.95 572.0,75.13 572.5,75.33 573.0,75.44 573.5,75.53 574.0,75.49 574.5,75.64 575.0,75.60 575.5,75.32 576.0,75.14 576.5,75.59 577.0,75.51 577.5,75.44 578.0,75.64 578.5,76.18 579.0,76.14 579.5,76.29 580.0,76.42 580.5,76.32 581.0,76.21 581.5,76.21 582.0,76.73 582.5,76.51 583.0,76.71 583.5,76.65 584.0,76.56 584.5,76.43 585.0,76.69 585.5,76.53 586.0,76.57 586.5,76.57 587.0,76.42 587.5,76.57 588.0,76.62 588.5,76.47 589.0,76.49 589.5,76.39 590.0,75.91 590.5,75.57 591.0,75.40 591.5,75.36 592.0,75.28 592.5,75.17 593.0,75.41 593.5,75.32 594.0,75.30 594.5,75.31 595.0,75.12 595.5,75.03 596.0,75.02 596.5,75.21 597.0,75.09 597.5,75.09 598.0,74.90 598.5,74.82 599.0,74.64 599.5,74.70 600.0,74.61 600.5,74.75 601.0,75.05 601.5,75.47 602.0,75.46 602.5,75.33 603.0,75.29 603.5,75.28 604.0,75.26 604.5,75.18 605.0,74.96 605.5,74.95 606.0,74.79 606.5,74.65 607.0,74.74 607.5,75.16 608.0,74.78 608.5,74.72 609.0,74.50 609.5,74.65 610.0,74.31 610.5,74.57 611.0,74.55 611.5,74.57 612.0,74.02 612.5,73.93 613.0,73.89 613.5,73.68 614.0,73.47 614.5,73.35 615.0,73.37 615.5,73.33 616.0,73.25 616.5,73.25 617.0,73.13 617.5,73.12 618.0,73.12 618.5,73.23 619.0,73.27 619.5,73.67 620.0,73.63 620.5,73.61 621.0,73.80 621.5,74.38 622.0,75.01 622.5,75.87 623.0,76.86 623.5,77.90 624.0,78.68 624.5,78.31 625.0,76.77 625.5,75.45 626.0,74.93 626.5,74.48 627.0,74.43 627.5,74.47 628.0,74.55 628.5,74.26 629.0,74.61 629.5,74.38 630.0,74.05 630.5,73.87 631.0,73.99 631.5,73.64 632.0,73.60 632.5,73.44 633.0,73.62 633.5,73.52 634.0,73.85 634.5,74.12 635.0,74.42 635.5,74.45 636.0,74.63 636.5,74.80 637.0,74.80 637.5,74.71 638.0,74.81 638.5,75.00 639.0,74.97 639.5,74.79" fill="none" stroke="#c82222" stroke-width="2.2" stroke-linejoin="round" stroke-linecap="round" />
<polyline points="416.0,67.56 416.5,67.49 417.0,67.56 417.5,67.48 418.0,67.60 418.5,67.84 419.0,67.81 419.5,67.92 420.0,67.71 420.5,67.98 421.0,67.81 421.5,67.83 422.0,67.75 422.5,67.47 423.0,67.11 423.5,67.09 424.0,66.89 424.5,66.78 425.0,66.69 425.5,66.83 426.0,66.99 426.5,66.70 427.0,66.35 427.5,66.35 428.0,66.49 428.5,66.18 429.0,66.14 429.5,65.95 430.0,65.56 430.5,65.03 431.0,64.95 431.5,65.10 432.0,65.27 432.5,65.30 433.0,65.38 433.5,65.41 434.0,65.38 434.5,65.43 435.0,65.58 435.5,65.70 436.0,65.41 436.5,65.28 437.0,65.30 437.5,65.66 438.0,65.59 438.5,65.56 439.0,65.50 439.5,65.57 440.0,65.54 440.5,65.58 441.0,65.64 441.5,65.63 442.0,65.42 442.5,65.64 443.0,65.82 443.5,65.78 444.0,65.82 444.5,65.95 445.0,65.87 445.5,65.95 446.0,66.00 446.5,66.04 447.0,65.94 447.5,66.21 448.0,66.36 448.5,66.71 449.0,67.03 449.5,67.60 450.0,68.27 450.5,69.13 451.0,70.26 451.5,71.34 452.0,71.48 452.5,69.79 453.0,68.52 453.5,67.58 454.0,67.08 454.5,66.61 455.0,66.41 455.5,66.02 456.0,65.75 456.5,65.64 457.0,65.92 457.5,65.50 458.0,65.76 458.5,65.84 459.0,65.83 459.5,65.83 460.0,66.24 460.5,66.31 461.0,66.06 461.5,66.02 462.0,66.21 462.5,66.26 463.0,66.20 463.5,66.45 464.0,66.51 464.5,66.59 465.0,66.67 465.5,66.62 466.0,66.31 466.5,66.13 467.0,65.81 467.5,65.91 468.0,65.92 468.5,66.00 469.0,66.00 469.5,65.85 470.0,65.76 470.5,65.98 471.0,65.78 471.5,66.10 472.0,66.45 472.5,66.79 473.0,66.46 473.5,66.22 474.0,66.03 474.5,65.66 475.0,65.55 475.5,65.85 476.0,65.81 476.5,66.07 477.0,66.06 477.5,66.05 478.0,65.85 478.5,66.11 479.0,66.07 479.5,66.24 480.0,66.52 480.5,66.66 481.0,66.69 481.5,66.80 482.0,66.88 482.5,67.03 483.0,66.97 483.5,67.19 484.0,67.61 484.5,67.74 485.0,67.83 485.5,67.77 486.0,67.77 486.5,67.96 487.0,67.99 487.5,68.11 488.0,68.36 488.5,68.24 489.0,68.25 489.5,68.21 490.0,68.20 490.5,68.28 491.0,68.42 491.5,68.61 492.0,68.41 492.5,68.39 493.0,68.54 493.5,68.28 494.0,67.93 494.5,68.19 495.0,68.19 495.5,68.25 496.0,68.42 496.5,68.29 497.0,68.13 497.5,68.15 498.0,68.10 498.5,68.11 499.0,68.07 499.5,67.92 500.0,67.90 500.5,67.88 501.0,68.03 501.5,68.03 502.0,68.09 502.5,68.19 503.0,68.52 503.5,68.28 504.0,68.13 504.5,68.05 505.0,68.08 505.5,67.80 506.0,67.46 506.5,67.47 507.0,67.49 507.5,67.21 508.0,67.27 508.5,67.31 509.0,67.40 509.5,67.53 510.0,67.44 510.5,67.23 511.0,67.32 511.5,67.20 512.0,67.15 512.5,67.16 513.0,67.01 513.5,66.90 514.0,67.11 514.5,67.14 515.0,66.96 515.5,66.87 516.0,66.68 516.5,66.46 517.0,66.63 517.5,66.50 518.0,66.41 518.5,66.63 519.0,66.57 519.5,66.07 520.0,65.61 520.5,65.76 521.0,65.73 521.5,65.55 522.0,65.46 522.5,65.77 523.0,65.67 523.5,65.54 524.0,65.52 524.5,65.48 525.0,65.51 525.5,65.55 526.0,65.66 526.5,65.76 527.0,65.57 527.5,65.42 528.0,65.42 528.5,65.39 529.0,65.20 529.5,65.41 530.0,65.42 530.5,65.56 531.0,65.73 531.5,65.77 532.0,65.86 532.5,66.20 533.0,66.54 533.5,66.94 534.0,67.15 534.5,67.45 535.0,68.10 535.5,68.76 536.0,69.27 536.5,69.99 537.0,69.21 537.5,67.34 538.0,66.39 538.5,65.95 539.0,65.67 539.5,65.88 540.0,65.87 540.5,65.77 541.0,65.47 541.5,65.35 542.0,65.29 542.5,65.27 543.0,65.00 543.5,64.91 544.0,64.70 544.5,64.67 545.0,64.69 545.5,64.87 546.0,64.77 546.5,64.97 547.0,64.91 547.5,64.89 548.0,64.93 548.5,65.34 549.0,65.20 549.5,64.90 550.0,64.96 550.5,65.16 551.0,65.12 551.5,65.40 552.0,65.64 552.5,65.55 553.0,65.67 553.5,65.50 554.0,65.45 554.5,65.62 555.0,65.49 555.5,65.12 556.0,65.53 556.5,65.69 557.0,65.46 557.5,65.48 558.0,65.78 558.5,65.68 559.0,65.46 559.5,65.91 560.0,66.19 560.5,66.14 561.0,66.39 561.5,66.58 562.0,66.51 562.5,66.20 563.0,66.49 563.5,66.21 564.0,66.15 564.5,65.97 565.0,66.42 565.5,66.23 566.0,66.33 566.5,66.34 567.0,66.59 567.5,66.36 568.0,66.94 568.5,66.85 569.0,66.88 569.5,67.03 570.0,67.22 570.5,67.34 571.0,67.45 571.5,67.60 572.0,67.67 572.5,67.89 573.0,67.93 573.5,67.87 574.0,67.97 574.5,68.11 575.0,68.11 575.5,68.23 576.0,68.42 576.5,68.53 577.0,68.45 577.5,68.42 578.0,68.26 578.5,68.19 579.0,68.35 579.5,68.73 580.0,68.77 580.5,68.99 581.0,69.05 581.5,69.03 582.0,69.11 582.5,68.78 583.0,68.80 583.5,68.79 584.0,68.72 584.5,68.86 585.0,69.07 585.5,69.04 586.0,69.01 586.5,68.95 587.0,68.77 587.5,68.28 588.0,68.38 588.5,68.38 589.0,68.29 589.5,68.29 590.0,68.18 590.5,67.84 591.0,67.67 591.5,67.43 592.0,67.63 592.5,67.50 593.0,67.56 593.5,67.68 594.0,67.67 594.5,67.51 595.0,67.44 595.5,67.39 596.0,67.11 596.5,66.92 597.0,66.72 597.5,66.53 598.0,66.42 598.5,66.29 599.0,66.15 599.5,66.46 600.0,66.46 600.5,66.64 601.0,66.77 601.5,66.48 602.0,66.03 602.5,65.83 603.0,65.84 603.5,65.43 604.0,65.37 604.5,65.48 605.0,65.55 605.5,65.53 606.0,65.66 606.5,65.56 607.0,65.67 607.5,65.84 608.0,65.96 608.5,65.83 609.0,65.82 609.5,65.96 610.0,65.70 610.5,65.59 611.0,65.59 611.5,65.82 612.0,65.68 612.5,65.64 613.0,65.37 613.5,65.09 614.0,65.09 614.5,64.85 615.0,64.84 615.5,64.62 616.0,64.67 616.5,64.76 617.0,64.90 617.5,65.10 618.0,65.52 618.5,65.83 619.0,66.10 619.5,66.32 620.0,66.58 620.5,67.27 621.0,68.03 621.5,68.87 622.0,69.72 622.5,69.84 623.0,68.42 623.5,67.15 624.0,66.45 624.5,65.85 625.0,65.75 625.5,65.55 626.0,65.52 626.5,65.20 627.0,65.28 627.5,65.71 628.0,65.86 628.5,65.86 629.0,65.58 629.5,65.52 630.0,65.49 630.5,65.21 631.0,65.13 631.5,65.07 632.0,65.09 632.5,65.09 633.0,64.97 633.5,64.80 634.0,64.67 634.5,64.79 635.0,64.85 635.5,64.71 636.0,64.55 636.5,64.57 637.0,64.70 637.5,64.47 638.0,64.22 638.5,64.07 639.0,64.87 639.5,66.07" fill="none" stroke="#1616b8" stroke-width="2.2" stroke-linejoin="round" stroke-linecap="round" />
<polyline points="416.0,59.90 416.5,60.09 417.0,60.13 417.5,60.22 418.0,60.23 418.5,60.50 419.0,60.36 419.5,60.42 420.0,60.32 420.5,60.27 421.0,60.25 421.5,60.54 422.0,60.54 422.5,60.51 423.0,60.50 423.5,60.32 424.0,60.17 424.5,60.15 425.0,60.18 425.5,60.51 426.0,60.53 426.5,60.27 427.0,60.02 427.5,59.84 428.0,59.86 428.5,59.81 429.0,59.58 429.5,59.42 430.0,59.21 430.5,59.03 431.0,58.99 431.5,58.98 432.0,58.97 432.5,58.97 433.0,59.02 433.5,59.02 434.0,58.93 434.5,58.85 435.0,58.55 435.5,58.45 436.0,58.42 436.5,58.20 437.0,58.32 437.5,58.23 438.0,58.29 438.5,58.31 439.0,58.21 439.5,58.44 440.0,58.73 440.5,58.52 441.0,58.82 441.5,58.76 442.0,58.67 442.5,58.84 443.0,59.20 443.5,59.21 444.0,59.35 444.5,59.45 445.0,59.44 445.5,59.80 446.0,59.81 446.5,60.01 447.0,60.53 447.5,61.10 448.0,61.70 448.5,62.45 449.0,63.29 449.5,64.33 450.0,64.45 450.5,63.58 451.0,61.97 451.5,60.75 452.0,60.24 452.5,60.15 453.0,59.57 453.5,59.15 454.0,59.48 454.5,59.25 455.0,59.39 455.5,59.76 456.0,59.84 456.5,59.43 457.0,59.39 457.5,59.49 458.0,59.39 458.5,59.05 459.0,58.93 459.5,58.89 460.0,58.66 460.5,58.45 461.0,58.64 461.5,58.97 462.0,58.89 462.5,58.94 463.0,59.00 463.5,59.04 464.0,59.18 464.5,58.99 465.0,58.87 465.5,59.11 466.0,58.90 466.5,58.66 467.0,58.84 467.5,59.12 468.0,58.91 468.5,59.13 469.0,59.11 469.5,59.35 470.0,59.43 470.5,59.69 471.0,59.80 471.5,60.02 472.0,59.72 472.5,59.76 473.0,59.75 473.5,59.63 474.0,59.68 474.5,59.80 475.0,60.20 475.5,60.15 476.0,60.54 476.5,60.59 477.0,61.01 477.5,61.19 478.0,61.33 478.5,61.20 479.0,60.98 479.5,60.91 480.0,60.83 480.5,60.96 481.0,60.57 481.5,60.42 482.0,60.57 482.5,60.55 483.0,60.29 483.5,60.29 484.0,60.44 484.5,60.57 485.0,60.43 485.5,60.45 486.0,60.66 486.5,60.74 487.0,60.87 487.5,60.89 488.0,60.76 488.5,60.76 489.0,60.79 489.5,60.62 490.0,60.62 490.5,60.67 491.0,60.68 491.5,60.64 492.0,60.81 492.5,60.89 493.0,61.19 493.5,61.48 494.0,61.50 494.5,61.63 495.0,61.75 495.5,61.50 496.0,61.41 496.5,61.67 497.0,61.49 497.5,61.52 498.0,61.21 498.5,61.29 499.0,61.26 499.5,61.17 500.0,61.35 500.5,61.14 501.0,61.23 501.5,60.82 502.0,60.66 502.5,60.47 503.0,60.59 503.5,60.65 504.0,60.42 504.5,60.36 505.0,60.14 505.5,59.80 506.0,59.64 506.5,59.80 507.0,59.93 507.5,60.03 508.0,59.76 508.5,60.01 509.0,59.61 509.5,59.29 510.0,59.34 510.5,59.48 511.0,59.38 511.5,59.04 512.0,59.18 512.5,59.00 513.0,58.77 513.5,58.48 514.0,58.26 514.5,58.36 515.0,58.27 515.5,58.39 516.0,58.41 516.5,58.64 517.0,58.68 517.5,58.69 518.0,58.47 518.5,58.32 519.0,58.19 519.5,58.55 520.0,58.25 520.5,58.48 521.0,58.62 521.5,58.43 522.0,58.49 522.5,58.60 523.0,58.80 523.5,58.75 524.0,58.97 524.5,58.92 525.0,58.90 525.5,59.09 526.0,59.31 526.5,59.30 527.0,59.32 527.5,59.29 528.0,59.29 528.5,59.09 529.0,59.21 529.5,59.33 530.0,59.55 530.5,59.94 531.0,60.06 531.5,60.40 532.0,60.71 532.5,61.14 533.0,61.72 533.5,62.43 534.0,63.06 534.5,63.71 535.0,63.26 535.5,61.37 536.0,60.15 536.5,59.47 537.0,59.07 537.5,58.63 538.0,58.73 538.5,58.34 539.0,58.30 539.5,57.91 540.0,58.08 540.5,58.02 541.0,58.31 541.5,58.26 542.0,58.41 542.5,58.44 543.0,58.35 543.5,58.14 544.0,58.28 544.5,58.37 545.0,58.50 545.5,58.61 546.0,58.80 546.5,58.63 547.0,58.66 547.5,58.50 548.0,58.43 548.5,58.55 549.0,58.32 549.5,58.12 550.0,58.24 550.5,58.36 551.0,58.15 551.5,58.15 552.0,58.35 552.5,58.73 553.0,58.49 553.5,58.63 554.0,58.49 554.5,58.63 555.0,58.67 555.5,59.05 556.0,58.93 556.5,58.93 557.0,58.89 557.5,58.60 558.0,58.75 558.5,58.61 559.0,58.72 559.5,58.82 560.0,59.03 560.5,58.94 561.0,59.28 561.5,59.38 562.0,59.40 562.5,59.36 563.0,59.39 563.5,59.34 564.0,59.39 564.5,59.59 565.0,59.58 565.5,59.69 566.0,59.83 566.5,59.85 567.0,60.05 567.5,60.00 568.0,60.16 568.5,60.20 569.0,60.38 569.5,60.50 570.0,60.60 570.5,60.42 571.0,60.52 571.5,60.59 572.0,60.76 572.5,60.91 573.0,61.37 573.5,61.75 574.0,61.72 574.5,61.95 575.0,62.27 575.5,62.23 576.0,62.18 576.5,62.24 577.0,62.35 577.5,62.16 578.0,62.47 578.5,62.25 579.0,62.33 579.5,62.02 580.0,62.21 580.5,62.11 581.0,62.58 581.5,62.46 582.0,63.06 582.5,62.50 583.0,62.47 583.5,62.14 584.0,62.33 584.5,62.03 585.0,62.04 585.5,62.04 586.0,62.10 586.5,61.95 587.0,61.78 587.5,61.46 588.0,61.24 588.5,60.53 589.0,60.70 589.5,60.69 590.0,60.62 590.5,60.56 591.0,60.76 591.5,60.55 592.0,60.47 592.5,60.48 593.0,60.56 593.5,60.10 594.0,59.88 594.5,59.68 595.0,59.63 595.5,59.42 596.0,59.31 596.5,59.51 597.0,59.38 597.5,59.38 598.0,59.15 598.5,59.38 599.0,59.27 599.5,59.23 600.0,59.12 600.5,59.20 601.0,58.97 601.5,59.18 602.0,59.17 602.5,59.26 603.0,59.39 603.5,59.40 604.0,59.28 604.5,59.31 605.0,59.20 605.5,59.26 606.0,59.22 606.5,59.34 607.0,59.24 607.5,59.03 608.0,59.01 608.5,59.20 609.0,59.11 609.5,59.33 610.0,59.22 610.5,59.03 611.0,59.14 611.5,59.16 612.0,58.92 612.5,58.70 613.0,58.66 613.5,58.73 614.0,58.60 614.5,59.14 615.0,59.38 615.5,59.91 616.0,59.92 616.5,60.40 617.0,60.32 617.5,60.87 618.0,61.31 618.5,62.46 619.0,63.47 619.5,64.01 620.0,63.19 620.5,61.58 621.0,60.12 621.5,59.32 622.0,59.24 622.5,58.85 623.0,58.70 623.5,58.69 624.0,58.58 624.5,58.28 625.0,58.36 625.5,58.11 626.0,58.00 626.5,58.38 627.0,58.54 627.5,58.48 628.0,58.36 628.5,58.50 629.0,58.08 629.5,57.81 630.0,57.91 630.5,57.81 631.0,57.86 631.5,57.84 632.0,57.75 632.5,57.51 633.0,57.70 633.5,57.94 634.0,58.10 634.5,58.23 635.0,58.38 635.5,58.55 636.0,58.53 636.5,58.65 637.0,58.57 637.5,58.66 638.0,59.02 638.5,59.51 639.0,59.74 639.5,60.11" fill="none" stroke="#168080" stroke-width="2.2" stroke-linejoin="round" stroke-linecap="round" />
<polyline points="416.0,51.26 416.5,51.12 417.0,51.56 417.5,51.84 418.0,51.82 418.5,51.87 419.0,52.01 419.5,52.00 420.0,51.78 420.5,51.66 421.0,51.63 421.5,51.61 422.0,51.51 422.5,51.55 423.0,51.46 423.5,51.62 424.0,51.72 424.5,51.87 425.0,51.71 425.5,51.59 426.0,51.42 426.5,51.23 427.0,51.13 427.5,50.87 428.0,50.58 428.5,50.56 429.0,50.60 429.5,50.63 430.0,50.68 430.5,50.91 431.0,50.96 431.5,50.59 432.0,50.54 432.5,50.48 433.0,50.46 433.5,50.39 434.0,50.48 434.5,50.38 435.0,50.41 435.5,50.85 436.0,51.16 436.5,51.16 437.0,51.07 437.5,50.88 438.0,51.08 438.5,50.82 439.0,50.98 439.5,51.10 440.0,51.46 440.5,51.15 441.0,51.17 441.5,51.15 442.0,51.04 442.5,51.09 443.0,51.38 443.5,51.48 444.0,52.27 444.5,53.09 445.0,54.00 445.5,54.86 446.0,54.83 446.5,53.26 447.0,51.99 447.5,51.69 448.0,51.37 448.5,51.16 449.0,51.13 449.5,51.08 450.0,51.08 450.5,50.96 451.0,50.92 451.5,50.84 452.0,50.57 452.5,50.42 453.0,50.40 453.5,50.30 454.0,50.21 454.5,49.95 455.0,50.02 455.5,49.91 456.0,49.91 456.5,49.87 457.0,49.91 457.5,49.72 458.0,49.77 458.5,50.09 459.0,50.26 459.5,50.61 460.0,50.61 460.5,50.49 461.0,50.44 461.5,50.61 462.0,50.83 462.5,51.29 463.0,51.43 463.5,51.25 464.0,51.01 464.5,50.94 465.0,50.83 465.5,50.69 466.0,50.81 466.5,50.80 467.0,50.59 467.5,50.56 468.0,50.41 468.5,50.22 469.0,50.04 469.5,50.07 470.0,50.21 470.5,50.38 471.0,50.57 471.5,50.74 472.0,50.73 472.5,50.68 473.0,50.56 473.5,50.32 474.0,50.48 474.5,50.78 475.0,50.48 475.5,50.72 476.0,51.00 476.5,51.07 477.0,50.98 477.5,51.34 478.0,51.22 478.5,51.25 479.0,51.31 479.5,51.28 480.0,51.21 480.5,51.24 481.0,51.22 481.5,51.45 482.0,51.68 482.5,51.86 483.0,52.06 483.5,52.17 484.0,52.38 484.5,52.45 485.0,52.67 485.5,52.74 486.0,52.83 486.5,52.69 487.0,52.64 487.5,52.53 488.0,52.47 488.5,52.55 489.0,52.74 489.5,52.53 490.0,52.35 490.5,52.34 491.0,52.13 491.5,52.27 492.0,52.14 492.5,52.18 493.0,52.23 493.5,52.19 494.0,52.05 494.5,52.13 495.0,52.17 495.5,52.09 496.0,51.87 496.5,52.02 497.0,51.96 497.5,51.92 498.0,52.06 498.5,52.27 499.0,52.09 499.5,52.27 500.0,52.19 500.5,52.14 501.0,51.95 501.5,52.08 502.0,51.82 502.5,51.97 503.0,51.74 503.5,51.45 504.0,51.39 504.5,51.38 505.0,51.52 505.5,51.45 506.0,51.60 506.5,51.58 507.0,51.64 507.5,51.27 508.0,51.30 508.5,51.13 509.0,50.87 509.5,50.45 510.0,50.37 510.5,50.36 511.0,50.31 511.5,50.56 512.0,50.67 512.5,50.81 513.0,51.03 513.5,51.26 514.0,51.15 514.5,51.14 515.0,51.11 515.5,50.94 516.0,50.89 516.5,50.50 517.0,50.49 517.5,50.39 518.0,50.43 518.5,50.14 519.0,50.37 519.5,50.34 520.0,50.41 520.5,50.27 521.0,50.38 521.5,50.03 522.0,50.04 522.5,50.16 523.0,50.09 523.5,49.97 524.0,49.95 524.5,50.09 525.0,49.99 525.5,50.07 526.0,49.82 526.5,50.24 527.0,50.16 527.5,50.66 528.0,51.16 528.5,51.74 529.0,52.59 529.5,53.53 530.0,54.30 530.5,54.54 531.0,53.59 531.5,51.85 532.0,50.97 532.5,50.40 533.0,49.87 533.5,49.62 534.0,49.82 534.5,49.81 535.0,49.94 535.5,49.69 536.0,49.49 536.5,49.40 537.0,49.22 537.5,49.32 538.0,49.32 538.5,49.62 539.0,49.84 539.5,49.88 540.0,49.88 540.5,49.63 541.0,49.43 541.5,49.46 542.0,49.44 542.5,49.23 543.0,49.40 543.5,49.75 544.0,49.83 544.5,49.90 545.0,50.22 545.5,50.30 546.0,50.44 546.5,50.42 547.0,50.78 547.5,50.70 548.0,50.62 548.5,50.46 549.0,50.52 549.5,50.41 550.0,50.38 550.5,50.11 551.0,49.95 551.5,49.99 552.0,50.15 552.5,50.05 553.0,50.36 553.5,50.63 554.0,50.64 554.5,50.34 555.0,50.41 555.5,50.32 556.0,50.22 556.5,50.19 557.0,50.12 557.5,49.82 558.0,50.20 558.5,50.45 559.0,50.32 559.5,50.51 560.0,50.55 560.5,50.63 561.0,50.87 561.5,51.01 562.0,51.18 562.5,51.24 563.0,51.23 563.5,51.33 564.0,51.36 564.5,51.42 565.0,51.73 565.5,51.87 566.0,52.21 566.5,52.08 567.0,52.33 567.5,52.48 568.0,52.58 568.5,52.47 569.0,52.60 569.5,52.66 570.0,52.79 570.5,53.17 571.0,53.42 571.5,53.48 572.0,53.79 572.5,54.09 573.0,53.95 573.5,53.90 574.0,53.89 574.5,53.81 575.0,53.39 575.5,53.16 576.0,53.17 576.5,53.13 577.0,53.25 577.5,53.15 578.0,53.15 578.5,53.00 579.0,52.79 579.5,53.06 580.0,52.96 580.5,53.03 581.0,53.04 581.5,53.10 582.0,52.87 582.5,52.92 583.0,52.80 583.5,52.79 584.0,52.79 584.5,52.69 585.0,52.66 585.5,52.72 586.0,52.71 586.5,52.75 587.0,52.57 587.5,52.31 588.0,52.09 588.5,51.77 589.0,51.40 589.5,51.22 590.0,50.86 590.5,50.82 591.0,50.86 591.5,50.84 592.0,50.48 592.5,50.28 593.0,50.19 593.5,50.13 594.0,50.15 594.5,50.34 595.0,50.59 595.5,50.73 596.0,50.65 596.5,50.37 597.0,50.27 597.5,50.18 598.0,50.09 598.5,50.14 599.0,50.22 599.5,50.35 600.0,50.49 600.5,50.63 601.0,50.59 601.5,50.60 602.0,50.56 602.5,50.52 603.0,50.60 603.5,50.79 604.0,50.72 604.5,50.76 605.0,50.64 605.5,50.57 606.0,50.55 606.5,50.80 607.0,50.84 607.5,50.55 608.0,50.48 608.5,50.31 609.0,50.37 609.5,50.14 610.0,50.06 610.5,49.91 611.0,50.15 611.5,49.96 612.0,50.19 612.5,50.43 613.0,50.92 613.5,51.33 614.0,51.87 614.5,52.74 615.0,53.83 615.5,54.60 616.0,54.59 616.5,53.17 617.0,51.77 617.5,51.07 618.0,50.71 618.5,50.09 619.0,49.85 619.5,49.82 620.0,49.45 620.5,48.95 621.0,48.92 621.5,48.68 622.0,48.35 622.5,48.31 623.0,48.80 623.5,49.12 624.0,49.26 624.5,49.52 625.0,49.46 625.5,49.39 626.0,49.05 626.5,49.07 627.0,48.98 627.5,48.92 628.0,48.81 628.5,49.49 629.0,49.43 629.5,49.20 630.0,49.07 630.5,49.06 631.0,48.79 631.5,48.76 632.0,48.99 632.5,49.03 633.0,49.17 633.5,49.28 634.0,49.48 634.5,49.51 635.0,49.70 635.5,49.82 636.0,50.01 636.5,50.35 637.0,50.76 637.5,50.97 638.0,51.34 638.5,51.32 639.0,51.30 639.5,51.52" fill="none" stroke="#d820d8" stroke-width="2.2" stroke-linejoin="round" stroke-linecap="round" />
<polyline points="416.0,44.09 416.5,43.95 417.0,43.99 417.5,43.95 418.0,43.86 418.5,43.96 419.0,43.83 419.5,43.83 420.0,43.93 420.5,43.93 421.0,43.71 421.5,43.79 422.0,43.62 422.5,43.53 423.0,43.76 423.5,43.65 424.0,43.38 424.5,43.25 425.0,42.97 425.5,42.64 426.0,42.51 426.5,42.41 427.0,42.43 427.5,42.23 428.0,42.14 428.5,42.28 429.0,42.34 429.5,42.41 430.0,42.20 430.5,42.15 431.0,41.99 431.5,41.78 432.0,41.62 432.5,41.95 433.0,42.31 433.5,42.21 434.0,42.37 434.5,42.48 435.0,42.22 435.5,41.98 436.0,41.76 436.5,41.57 437.0,41.74 437.5,41.88 438.0,41.90 438.5,41.70 439.0,41.91 439.5,41.82 440.0,42.23 440.5,42.89 441.0,43.33 441.5,43.96 442.0,45.24 442.5,45.80 443.0,46.47 443.5,46.69 444.0,45.41 444.5,43.91 445.0,43.53 445.5,43.04 446.0,42.82 446.5,42.43 447.0,42.13 447.5,41.92 448.0,41.65 448.5,41.69 449.0,41.62 449.5,41.86 450.0,42.03 450.5,42.12 451.0,41.82 451.5,42.11 452.0,42.12 452.5,41.98 453.0,42.05 453.5,42.21 454.0,42.07 454.5,42.09 455.0,42.26 455.5,42.42 456.0,42.44 456.5,42.48 457.0,42.52 457.5,42.58 458.0,42.52 458.5,42.91 459.0,42.65 459.5,42.70 460.0,42.70 460.5,42.44 461.0,42.31 461.5,42.66 462.0,42.61 462.5,42.54 463.0,42.76 463.5,42.72 464.0,42.33 464.5,42.69 465.0,42.81 465.5,42.72 466.0,42.77 466.5,42.77 467.0,42.49 467.5,42.42 468.0,42.33 468.5,42.44 469.0,42.47 469.5,42.61 470.0,42.83 470.5,42.66 471.0,42.76 471.5,43.04 472.0,43.22 472.5,43.30 473.0,43.68 473.5,43.69 474.0,43.67 474.5,43.93 475.0,43.84 475.5,44.04 476.0,44.21 476.5,44.04 477.0,43.99 477.5,43.90 478.0,43.73 478.5,43.98 479.0,44.18 479.5,44.29 480.0,44.57 480.5,44.80 481.0,44.68 481.5,44.78 482.0,44.80 482.5,44.56 483.0,44.87 483.5,44.97 484.0,45.24 484.5,45.10 485.0,45.13 485.5,44.98 486.0,44.91 486.5,44.70 487.0,44.94 487.5,44.91 488.0,44.84 488.5,44.67 489.0,44.69 489.5,44.53 490.0,44.24 490.5,44.18 491.0,43.87 491.5,43.80 492.0,43.82 492.5,44.00 493.0,44.09 493.5,44.26 494.0,44.71 494.5,44.30 495.0,44.23 495.5,44.09 496.0,43.88 496.5,43.71 497.0,43.72 497.5,43.51 498.0,43.73 498.5,43.58 499.0,43.69 499.5,43.70 500.0,43.60 500.5,43.86 501.0,43.60 501.5,43.82 502.0,43.74 502.5,43.57 503.0,43.39 503.5,43.32 504.0,42.82 504.5,42.73 505.0,42.51 505.5,42.47 506.0,42.35 506.5,42.04 507.0,41.70 507.5,41.67 508.0,41.60 508.5,41.46 509.0,41.93 509.5,41.75 510.0,41.66 510.5,41.78 511.0,41.75 511.5,42.00 512.0,42.21 512.5,41.89 513.0,42.04 513.5,41.80 514.0,41.68 514.5,41.64 515.0,41.44 515.5,41.44 516.0,41.56 516.5,41.77 517.0,41.93 517.5,42.27 518.0,42.62 518.5,42.68 519.0,42.78 519.5,42.99 520.0,42.70 520.5,42.57 521.0,42.49 521.5,42.40 522.0,42.29 522.5,42.49 523.0,42.71 523.5,42.72 524.0,42.69 524.5,42.83 525.0,42.93 525.5,43.28 526.0,43.84 526.5,44.54 527.0,45.32 527.5,46.13 528.0,46.76 528.5,46.93 529.0,45.24 529.5,43.54 530.0,42.11 530.5,41.69 531.0,41.34 531.5,41.39 532.0,41.33 532.5,41.30 533.0,41.06 533.5,40.74 534.0,40.42 534.5,40.56 535.0,40.41 535.5,40.51 536.0,40.52 536.5,40.36 537.0,40.19 537.5,40.13 538.0,40.24 538.5,40.11 539.0,40.41 539.5,40.41 540.0,40.32 540.5,40.43 541.0,40.66 541.5,40.46 542.0,40.36 542.5,40.50 543.0,40.52 543.5,40.16 544.0,40.52 544.5,40.68 545.0,40.48 545.5,40.54 546.0,40.47 546.5,40.49 547.0,40.75 547.5,41.02 548.0,41.22 548.5,41.70 549.0,41.84 549.5,41.87 550.0,41.84 550.5,41.93 551.0,41.70 551.5,41.61 552.0,41.71 552.5,41.83 553.0,42.00 553.5,42.30 554.0,42.55 554.5,42.52 555.0,42.52 555.5,42.36 556.0,42.34 556.5,42.34 557.0,42.23 557.5,42.51 558.0,42.61 558.5,42.85 559.0,42.97 559.5,43.30 560.0,43.29 560.5,43.25 561.0,43.22 561.5,43.16 562.0,43.00 562.5,43.18 563.0,43.53 563.5,43.65 564.0,43.49 564.5,43.82 565.0,43.83 565.5,43.80 566.0,43.90 566.5,44.37 567.0,44.28 567.5,44.51 568.0,44.66 568.5,44.49 569.0,44.28 569.5,44.13 570.0,43.94 570.5,43.75 571.0,43.90 571.5,43.87 572.0,44.01 572.5,44.02 573.0,43.75 573.5,43.88 574.0,44.12 574.5,44.02 575.0,43.88 575.5,44.01 576.0,43.60 576.5,43.71 577.0,43.53 577.5,43.79 578.0,43.54 578.5,43.44 579.0,43.44 579.5,43.66 580.0,43.66 580.5,43.64 581.0,43.60 581.5,43.46 582.0,43.60 582.5,43.44 583.0,43.48 583.5,43.41 584.0,43.34 584.5,42.93 585.0,42.91 585.5,42.74 586.0,42.69 586.5,42.72 587.0,42.57 587.5,42.37 588.0,42.39 588.5,42.36 589.0,42.55 589.5,42.54 590.0,42.15 590.5,41.92 591.0,41.79 591.5,41.93 592.0,41.74 592.5,41.51 593.0,41.55 593.5,41.69 594.0,41.35 594.5,41.43 595.0,41.47 595.5,41.57 596.0,41.52 596.5,41.56 597.0,41.65 597.5,41.68 598.0,41.67 598.5,41.71 599.0,41.68 599.5,41.47 600.0,41.39 600.5,41.34 601.0,41.35 601.5,41.33 602.0,41.39 602.5,41.54 603.0,41.57 603.5,41.24 604.0,41.30 604.5,41.39 605.0,41.06 605.5,41.09 606.0,41.22 606.5,41.22 607.0,41.00 607.5,40.97 608.0,40.97 608.5,41.05 609.0,41.06 609.5,41.31 610.0,41.26 610.5,41.61 611.0,42.11 611.5,42.79 612.0,43.55 612.5,44.44 613.0,44.98 613.5,45.50 614.0,43.92 614.5,42.52 615.0,41.57 615.5,41.34 616.0,40.87 616.5,40.82 617.0,40.63 617.5,40.43 618.0,40.52 618.5,40.37 619.0,40.17 619.5,40.23 620.0,39.83 620.5,39.76 621.0,39.56 621.5,39.48 622.0,39.42 622.5,39.50 623.0,39.52 623.5,39.69 624.0,39.81 624.5,39.92 625.0,39.82 625.5,39.76 626.0,39.66 626.5,39.42 627.0,39.21 627.5,39.14 628.0,39.32 628.5,39.45 629.0,39.76 629.5,40.36 630.0,40.36 630.5,40.56 631.0,40.57 631.5,40.68 632.0,40.73 632.5,41.02 633.0,41.10 633.5,41.22 634.0,41.23 634.5,41.59 635.0,41.76 635.5,42.24 636.0,42.45 636.5,42.47 637.0,42.57 637.5,42.53 638.0,42.78 638.5,42.85 639.0,42.84 639.5,43.07" fill="none" stroke="#85851e" stroke-width="2.2" stroke-linejoin="round" stroke-linecap="round" />
<polyline points="416.0,34.77 416.5,34.82 417.0,34.76 417.5,34.82 418.0,34.97 418.5,35.05 419.0,35.12 419.5,35.10 420.0,34.99 420.5,35.08 421.0,35.02 421.5,34.75 422.0,34.92 422.5,34.92 423.0,34.39 423.5,34.53 424.0,34.44 424.5,34.30 425.0,33.85 425.5,33.40 426.0,33.27 426.5,33.09 427.0,32.86 427.5,32.70 428.0,33.18 428.5,33.26 429.0,33.15 429.5,32.99 430.0,32.85 430.5,32.90 431.0,33.01 431.5,33.09 432.0,33.24 432.5,33.13 433.0,33.09 433.5,33.13 434.0,33.13 434.5,33.34 435.0,33.45 435.5,33.65 436.0,33.70 436.5,33.72 437.0,33.71 437.5,33.96 438.0,34.16 438.5,34.18 439.0,34.35 439.5,34.35 440.0,34.23 440.5,34.67 441.0,35.07 441.5,35.47 442.0,36.11 442.5,37.05 443.0,38.08 443.5,38.95 444.0,39.08 444.5,37.53 445.0,36.20 445.5,35.12 446.0,34.69 446.5,34.72 447.0,34.46 447.5,34.47 448.0,34.68 448.5,34.74 449.0,34.28 449.5,34.52 450.0,34.35 450.5,34.35 451.0,34.38 451.5,34.28 452.0,34.11 452.5,34.32 453.0,34.57 453.5,34.60 454.0,34.43 454.5,34.66 455.0,34.79 455.5,34.56 456.0,34.59 456.5,34.66 457.0,34.39 457.5,34.45 458.0,34.35 458.5,33.88 459.0,33.71 459.5,33.63 460.0,33.27 460.5,33.55 461.0,33.60 461.5,33.70 462.0,33.41 462.5,33.50 463.0,33.23 463.5,33.28 464.0,33.08 464.5,33.33 465.0,33.09 465.5,33.45 466.0,33.53 466.5,33.59 467.0,33.56 467.5,33.65 468.0,33.47 468.5,33.33 469.0,33.61 469.5,33.84 470.0,34.07 470.5,34.27 471.0,34.11 471.5,34.14 472.0,34.29 472.5,34.34 473.0,34.28 473.5,34.64 474.0,34.57 474.5,34.39 475.0,34.22 475.5,34.48 476.0,34.49 476.5,34.79 477.0,34.88 477.5,35.03 478.0,35.12 478.5,35.20 479.0,35.33 479.5,35.24 480.0,35.21 480.5,35.29 481.0,34.96 481.5,34.94 482.0,34.87 482.5,34.89 483.0,34.91 483.5,34.89 484.0,35.26 484.5,35.56 485.0,35.68 485.5,35.99 486.0,36.06 486.5,35.78 487.0,35.86 487.5,35.93 488.0,35.78 488.5,35.73 489.0,35.74 489.5,35.58 490.0,35.45 490.5,35.85 491.0,35.60 491.5,35.57 492.0,35.24 492.5,35.42 493.0,34.87 493.5,35.00 494.0,35.35 494.5,35.41 495.0,35.31 495.5,35.56 496.0,35.44 496.5,35.43 497.0,35.89 497.5,35.81 498.0,35.75 498.5,35.96 499.0,35.80 499.5,35.74 500.0,35.82 500.5,35.71 501.0,35.80 501.5,35.92 502.0,35.73 502.5,35.31 503.0,35.50 503.5,35.43 504.0,35.20 504.5,35.15 505.0,34.84 505.5,34.71 506.0,34.32 506.5,34.43 507.0,34.34 507.5,34.51 508.0,34.55 508.5,34.67 509.0,34.19 509.5,34.14 510.0,34.12 510.5,33.90 511.0,33.84 511.5,33.98 512.0,33.65 512.5,33.66 513.0,33.68 513.5,33.54 514.0,33.25 514.5,33.27 515.0,33.36 515.5,33.32 516.0,33.18 516.5,33.40 517.0,33.61 517.5,33.67 518.0,33.81 518.5,33.97 519.0,33.84 519.5,33.94 520.0,34.15 520.5,33.94 521.0,34.12 521.5,34.21 522.0,34.40 522.5,34.32 523.0,34.21 523.5,34.35 524.0,34.25 524.5,34.27 525.0,34.60 525.5,34.75 526.0,35.08 526.5,35.80 527.0,36.52 527.5,37.50 528.0,38.50 528.5,38.47 529.0,36.86 529.5,35.56 530.0,34.46 530.5,33.82 531.0,33.82 531.5,33.64 532.0,33.76 532.5,33.84 533.0,33.53 533.5,33.50 534.0,33.28 534.5,33.31 535.0,33.33 535.5,33.34 536.0,33.26 536.5,33.30 537.0,33.28 537.5,32.92 538.0,33.04 538.5,33.16 539.0,33.91 539.5,34.12 540.0,34.02 540.5,34.01 541.0,34.10 541.5,33.93 542.0,33.77 542.5,33.84 543.0,33.68 543.5,33.69 544.0,33.48 544.5,33.27 545.0,33.28 545.5,33.40 546.0,33.47 546.5,33.68 547.0,33.71 547.5,33.75 548.0,33.76 548.5,33.57 549.0,33.36 549.5,33.24 550.0,33.23 550.5,33.18 551.0,33.54 551.5,33.64 552.0,33.81 552.5,33.76 553.0,33.64 553.5,33.44 554.0,33.14 554.5,33.11 555.0,33.21 555.5,33.36 556.0,33.48 556.5,33.69 557.0,33.79 557.5,33.62 558.0,33.62 558.5,33.90 559.0,34.01 559.5,34.15 560.0,34.09 560.5,34.29 561.0,34.38 561.5,34.32 562.0,34.30 562.5,34.68 563.0,34.78 563.5,34.88 564.0,35.21 564.5,35.05 565.0,34.98 565.5,34.98 566.0,34.88 566.5,34.81 567.0,35.06 567.5,35.36 568.0,35.73 568.5,35.91 569.0,35.97 569.5,35.88 570.0,35.69 570.5,35.37 571.0,35.39 571.5,35.41 572.0,35.44 572.5,35.52 573.0,35.05 573.5,35.18 574.0,34.96 574.5,34.68 575.0,34.73 575.5,35.09 576.0,34.93 576.5,34.95 577.0,35.16 577.5,35.39 578.0,35.07 578.5,35.14 579.0,35.07 579.5,34.94 580.0,34.76 580.5,34.87 581.0,34.86 581.5,34.82 582.0,35.14 582.5,35.25 583.0,35.28 583.5,35.67 584.0,35.51 584.5,35.21 585.0,35.36 585.5,35.14 586.0,34.98 586.5,34.94 587.0,34.73 587.5,34.28 588.0,34.31 588.5,34.46 589.0,34.34 589.5,34.39 590.0,34.34 590.5,34.23 591.0,33.96 591.5,34.12 592.0,33.88 592.5,33.83 593.0,33.55 593.5,33.35 594.0,33.09 594.5,33.21 595.0,33.12 595.5,33.30 596.0,33.55 596.5,33.61 597.0,33.39 597.5,33.47 598.0,33.49 598.5,33.36 599.0,33.41 599.5,33.85 600.0,33.64 600.5,33.71 601.0,33.64 601.5,33.60 602.0,33.29 602.5,33.45 603.0,33.44 603.5,33.32 604.0,33.24 604.5,33.20 605.0,32.90 605.5,32.87 606.0,32.61 606.5,32.65 607.0,32.58 607.5,32.73 608.0,32.92 608.5,32.91 609.0,32.97 609.5,33.15 610.0,33.06 610.5,33.28 611.0,33.31 611.5,33.88 612.0,34.37 612.5,34.93 613.0,35.80 613.5,36.42 614.0,36.89 614.5,35.81 615.0,34.28 615.5,33.38 616.0,32.94 616.5,32.96 617.0,32.73 617.5,32.46 618.0,32.56 618.5,32.36 619.0,32.26 619.5,32.36 620.0,32.26 620.5,31.99 621.0,32.02 621.5,31.87 622.0,31.76 622.5,31.81 623.0,31.88 623.5,31.85 624.0,32.06 624.5,31.82 625.0,31.67 625.5,31.37 626.0,31.28 626.5,31.21 627.0,31.15 627.5,31.08 628.0,31.00 628.5,30.49 629.0,30.46 629.5,30.50 630.0,30.51 630.5,30.70 631.0,31.05 631.5,31.19 632.0,31.34 632.5,31.71 633.0,32.10 633.5,32.45 634.0,32.54 634.5,32.72 635.0,32.82 635.5,32.87 636.0,33.09 636.5,33.13 637.0,33.58 637.5,33.86 638.0,33.98 638.5,34.31 639.0,34.92 639.5,34.91" fill="none" stroke="#14147a" stroke-width="2.2" stroke-linejoin="round" stroke-linecap="round" />
<line x1="443.70" y1="191.30" x2="456.60" y2="147.50" stroke="#000" stroke-width="1.0" />
<polygon points="457.40,145.10 457.37,151.87 453.73,150.79" fill="#000"/>
<line x1="466.30" y1="141.30" x2="467.90" y2="106.00" stroke="#000" stroke-width="1.0" />
<polygon points="468.00,102.80 469.61,109.38 465.82,109.21" fill="#000"/>
<line x1="466.50" y1="101.00" x2="449.80" y2="38.50" stroke="#000" stroke-width="1.0" />
<polygon points="449.00,35.60 452.74,41.85 448.88,42.88" fill="#000"/>
<g transform="translate(477.00,72.30) rotate(-109.20)"><rect x="-24.95" y="-4.80" width="51.50" height="11.20" fill="#9a9a9a" opacity="0.5"/><rect x="-25.75" y="-5.60" width="51.50" height="11.20" fill="#cfcfcf"/><text x="0" y="3.50" font-size="10.6" font-weight="bold" text-anchor="middle" font-family='"Liberation Serif", serif'>NH<tspan font-size="7.5" dy="2">3</tspan><tspan dy="-2"> gas out</tspan></text></g>
<g transform="translate(460.50,176.50) rotate(-66.10)"><rect x="-22.20" y="-4.80" width="46.00" height="11.20" fill="#9a9a9a" opacity="0.5"/><rect x="-23.00" y="-5.60" width="46.00" height="11.20" fill="#cfcfcf"/><text x="0" y="3.50" font-size="10.6" font-weight="bold" text-anchor="middle" font-family='"Liberation Serif", serif'>NH<tspan font-size="7.5" dy="2">3</tspan><tspan dy="-2"> gas in</tspan></text></g>
<text x="635.80" y="14.40" font-size="7.4" font-weight="bold" text-anchor="start" fill="#000" font-family='"Liberation Sans", sans-serif' >Time(Minute)</text>
<line x1="646.20" y1="22.30" x2="662.80" y2="22.30" stroke="#14147a" stroke-width="1.9" />
<text x="663.80" y="25.10" font-size="8.2" font-weight="bold" text-anchor="start" fill="#000" font-family='"Liberation Sans", sans-serif' >22.66</text>
<line x1="646.20" y1="32.58" x2="662.80" y2="32.58" stroke="#85851e" stroke-width="1.9" />
<text x="663.80" y="35.38" font-size="8.2" font-weight="bold" text-anchor="start" fill="#000" font-family='"Liberation Sans", sans-serif' >19</text>
<line x1="646.20" y1="42.86" x2="662.80" y2="42.86" stroke="#d820d8" stroke-width="1.9" />
<text x="663.80" y="45.66" font-size="8.2" font-weight="bold" text-anchor="start" fill="#000" font-family='"Liberation Sans", sans-serif' >12.66</text>
<line x1="646.20" y1="53.14" x2="662.80" y2="53.14" stroke="#168080" stroke-width="1.9" />
<text x="663.80" y="55.94" font-size="8.2" font-weight="bold" text-anchor="start" fill="#000" font-family='"Liberation Sans", sans-serif' >8.5</text>
<line x1="646.20" y1="63.42" x2="662.80" y2="63.42" stroke="#1616b8" stroke-width="1.9" />
<text x="663.80" y="66.22" font-size="8.2" font-weight="bold" text-anchor="start" fill="#000" font-family='"Liberation Sans", sans-serif' >7.83</text>
<line x1="646.20" y1="73.70" x2="662.80" y2="73.70" stroke="#c82222" stroke-width="1.9" />
<text x="663.80" y="76.50" font-size="8.2" font-weight="bold" text-anchor="start" fill="#000" font-family='"Liberation Sans", sans-serif' >7.16</text>
<line x1="646.20" y1="83.98" x2="662.80" y2="83.98" stroke="#000000" stroke-width="1.9" />
<text x="663.80" y="86.78" font-size="8.2" font-weight="bold" text-anchor="start" fill="#000" font-family='"Liberation Sans", sans-serif' >6.66</text>
<line x1="646.20" y1="94.26" x2="662.80" y2="94.26" stroke="#7624d8" stroke-width="1.9" />
<text x="663.80" y="97.06" font-size="8.2" font-weight="bold" text-anchor="start" fill="#000" font-family='"Liberation Sans", sans-serif' >6.16</text>
<line x1="646.20" y1="104.54" x2="662.80" y2="104.54" stroke="#7a167a" stroke-width="1.9" />
<text x="663.80" y="107.34" font-size="8.2" font-weight="bold" text-anchor="start" fill="#000" font-family='"Liberation Sans", sans-serif' >5.5</text>
<line x1="646.20" y1="114.82" x2="662.80" y2="114.82" stroke="#ee8a2a" stroke-width="1.9" />
<text x="663.80" y="117.62" font-size="8.2" font-weight="bold" text-anchor="start" fill="#000" font-family='"Liberation Sans", sans-serif' >5</text>
<line x1="646.20" y1="125.10" x2="662.80" y2="125.10" stroke="#14149c" stroke-width="1.9" />
<text x="663.80" y="127.90" font-size="8.2" font-weight="bold" text-anchor="start" fill="#000" font-family='"Liberation Sans", sans-serif' >4.5</text>
<line x1="646.20" y1="135.38" x2="662.80" y2="135.38" stroke="#188618" stroke-width="1.9" />
<text x="663.80" y="138.18" font-size="8.2" font-weight="bold" text-anchor="start" fill="#000" font-family='"Liberation Sans", sans-serif' >4</text>
<line x1="646.20" y1="145.66" x2="662.80" y2="145.66" stroke="#c83896" stroke-width="1.9" />
<text x="663.80" y="148.46" font-size="8.2" font-weight="bold" text-anchor="start" fill="#000" font-family='"Liberation Sans", sans-serif' >3.16</text>
<line x1="646.20" y1="155.94" x2="662.80" y2="155.94" stroke="#761616" stroke-width="1.9" />
<text x="663.80" y="158.74" font-size="8.2" font-weight="bold" text-anchor="start" fill="#000" font-family='"Liberation Sans", sans-serif' >2.75</text>
<line x1="646.20" y1="166.22" x2="662.80" y2="166.22" stroke="#14147a" stroke-width="1.9" />
<text x="663.80" y="169.02" font-size="8.2" font-weight="bold" text-anchor="start" fill="#000" font-family='"Liberation Sans", sans-serif' >2.33</text>
<line x1="646.20" y1="176.50" x2="662.80" y2="176.50" stroke="#85851e" stroke-width="1.9" />
<text x="663.80" y="179.30" font-size="8.2" font-weight="bold" text-anchor="start" fill="#000" font-family='"Liberation Sans", sans-serif' >2</text>
<line x1="646.20" y1="186.78" x2="662.80" y2="186.78" stroke="#d820d8" stroke-width="1.9" />
<text x="663.80" y="189.58" font-size="8.2" font-weight="bold" text-anchor="start" fill="#000" font-family='"Liberation Sans", sans-serif' >1.75</text>
<line x1="646.20" y1="197.06" x2="662.80" y2="197.06" stroke="#168080" stroke-width="1.9" />
<text x="663.80" y="199.86" font-size="8.2" font-weight="bold" text-anchor="start" fill="#000" font-family='"Liberation Sans", sans-serif' >1.33</text>
<line x1="646.20" y1="207.34" x2="662.80" y2="207.34" stroke="#1616b8" stroke-width="1.9" />
<text x="663.80" y="210.14" font-size="8.2" font-weight="bold" text-anchor="start" fill="#000" font-family='"Liberation Sans", sans-serif' >1</text>
<line x1="646.20" y1="217.62" x2="662.80" y2="217.62" stroke="#c82222" stroke-width="1.9" />
<text x="663.80" y="220.42" font-size="8.2" font-weight="bold" text-anchor="start" fill="#000" font-family='"Liberation Sans", sans-serif' >0.5</text>
<line x1="646.20" y1="227.90" x2="662.80" y2="227.90" stroke="#000000" stroke-width="1.9" />
<text x="663.80" y="230.70" font-size="8.2" font-weight="bold" text-anchor="start" fill="#000" font-family='"Liberation Sans", sans-serif' >0</text>
<line x1="233.50" y1="299.40" x2="233.50" y2="453.60" stroke="#4a4a4a" stroke-width="1.1" />
<line x1="233.00" y1="453.10" x2="440.70" y2="453.10" stroke="#777" stroke-width="1.1" />
<line x1="231.00" y1="453.15" x2="233.50" y2="453.15" stroke="#4a4a4a" stroke-width="1.0" />
<line x1="230.00" y1="440.30" x2="233.50" y2="440.30" stroke="#4a4a4a" stroke-width="1.0" />
<text x="227.40" y="445.50" font-size="15" font-weight="bold" text-anchor="end" fill="#000" font-family='"Liberation Sans", sans-serif' >0.2</text>
<line x1="231.00" y1="427.45" x2="233.50" y2="427.45" stroke="#4a4a4a" stroke-width="1.0" />
<line x1="230.00" y1="414.60" x2="233.50" y2="414.60" stroke="#4a4a4a" stroke-width="1.0" />
<text x="227.40" y="419.80" font-size="15" font-weight="bold" text-anchor="end" fill="#000" font-family='"Liberation Sans", sans-serif' >0.4</text>
<line x1="231.00" y1="401.75" x2="233.50" y2="401.75" stroke="#4a4a4a" stroke-width="1.0" />
<line x1="230.00" y1="388.90" x2="233.50" y2="388.90" stroke="#4a4a4a" stroke-width="1.0" />
<text x="227.40" y="394.10" font-size="15" font-weight="bold" text-anchor="end" fill="#000" font-family='"Liberation Sans", sans-serif' >0.6</text>
<line x1="231.00" y1="376.05" x2="233.50" y2="376.05" stroke="#4a4a4a" stroke-width="1.0" />
<line x1="230.00" y1="363.20" x2="233.50" y2="363.20" stroke="#4a4a4a" stroke-width="1.0" />
<text x="227.40" y="368.40" font-size="15" font-weight="bold" text-anchor="end" fill="#000" font-family='"Liberation Sans", sans-serif' >0.8</text>
<line x1="231.00" y1="350.35" x2="233.50" y2="350.35" stroke="#4a4a4a" stroke-width="1.0" />
<line x1="230.00" y1="337.50" x2="233.50" y2="337.50" stroke="#4a4a4a" stroke-width="1.0" />
<text x="227.40" y="342.70" font-size="15" font-weight="bold" text-anchor="end" fill="#000" font-family='"Liberation Sans", sans-serif' >1.0</text>
<line x1="231.00" y1="324.65" x2="233.50" y2="324.65" stroke="#4a4a4a" stroke-width="1.0" />
<line x1="230.00" y1="311.80" x2="233.50" y2="311.80" stroke="#4a4a4a" stroke-width="1.0" />
<text x="227.40" y="317.00" font-size="15" font-weight="bold" text-anchor="end" fill="#000" font-family='"Liberation Sans", sans-serif' >1.2</text>
<line x1="231.00" y1="298.95" x2="233.50" y2="298.95" stroke="#4a4a4a" stroke-width="1.0" />
<line x1="233.50" y1="453.10" x2="233.50" y2="455.10" stroke="#777" stroke-width="1.0" />
<text x="233.80" y="470.60" font-size="14.8" font-weight="bold" text-anchor="middle" fill="#000" font-family='"Liberation Sans", sans-serif' >0</text>
<line x1="249.40" y1="453.10" x2="249.40" y2="455.10" stroke="#777" stroke-width="1.0" />
<line x1="265.30" y1="453.10" x2="265.30" y2="455.10" stroke="#777" stroke-width="1.0" />
<text x="265.60" y="470.60" font-size="14.8" font-weight="bold" text-anchor="middle" fill="#000" font-family='"Liberation Sans", sans-serif' >5</text>
<line x1="281.20" y1="453.10" x2="281.20" y2="455.10" stroke="#777" stroke-width="1.0" />
<line x1="297.10" y1="453.10" x2="297.10" y2="455.10" stroke="#777" stroke-width="1.0" />
<text x="297.40" y="470.60" font-size="14.8" font-weight="bold" text-anchor="middle" fill="#000" font-family='"Liberation Sans", sans-serif' >10</text>
<line x1="313.00" y1="453.10" x2="313.00" y2="455.10" stroke="#777" stroke-width="1.0" />
<line x1="328.90" y1="453.10" x2="328.90" y2="455.10" stroke="#777" stroke-width="1.0" />
<text x="329.20" y="470.60" font-size="14.8" font-weight="bold" text-anchor="middle" fill="#000" font-family='"Liberation Sans", sans-serif' >15</text>
<line x1="344.80" y1="453.10" x2="344.80" y2="455.10" stroke="#777" stroke-width="1.0" />
<line x1="360.70" y1="453.10" x2="360.70" y2="455.10" stroke="#777" stroke-width="1.0" />
<text x="361.00" y="470.60" font-size="14.8" font-weight="bold" text-anchor="middle" fill="#000" font-family='"Liberation Sans", sans-serif' >20</text>
<line x1="376.60" y1="453.10" x2="376.60" y2="455.10" stroke="#777" stroke-width="1.0" />
<line x1="392.50" y1="453.10" x2="392.50" y2="455.10" stroke="#777" stroke-width="1.0" />
<text x="392.80" y="470.60" font-size="14.8" font-weight="bold" text-anchor="middle" fill="#000" font-family='"Liberation Sans", sans-serif' >25</text>
<line x1="408.40" y1="453.10" x2="408.40" y2="455.10" stroke="#777" stroke-width="1.0" />
<line x1="424.30" y1="453.10" x2="424.30" y2="455.10" stroke="#777" stroke-width="1.0" />
<text x="424.60" y="470.60" font-size="14.8" font-weight="bold" text-anchor="middle" fill="#000" font-family='"Liberation Sans", sans-serif' >30</text>
<line x1="440.20" y1="453.10" x2="440.20" y2="455.10" stroke="#777" stroke-width="1.0" />
<text x="244.3" y="493.4" font-size="15.2" font-weight="bold" font-family='"Liberation Sans", sans-serif' textLength="185.5" lengthAdjust="spacingAndGlyphs">NH<tspan dy="2.8">3</tspan><tspan dy="-2.8"> concentration (ppm)</tspan></text>
<text x="322.50" y="519.00" font-size="16" font-weight="bold" text-anchor="middle" fill="#000" font-family='"Liberation Sans", sans-serif' >(c)</text>
<text transform="translate(193.7,432.2) rotate(-90)" font-size="14.5" font-weight="bold" font-family='"Liberation Sans", sans-serif' textLength="89.5" lengthAdjust="spacingAndGlyphs">Shift (<tspan font-weight="normal">&#916;&#955;</tspan> nm)</text>
<rect x="307.5" y="402.5" width="146.5" height="43.30000000000001" fill="#c8c8c8"/>
<rect x="306.5" y="401.5" width="146.5" height="43.30000000000001" fill="#fff" stroke="#b0b0b0" stroke-width="0.8"/>
<line x1="347.90" y1="401.50" x2="347.90" y2="444.80" stroke="#d8d8d8" stroke-width="0.7" />
<line x1="382.20" y1="401.50" x2="382.20" y2="444.80" stroke="#d8d8d8" stroke-width="0.7" />
<line x1="408.60" y1="401.50" x2="408.60" y2="444.80" stroke="#d8d8d8" stroke-width="0.7" />
<line x1="306.50" y1="410.16" x2="453.00" y2="410.16" stroke="#d8d8d8" stroke-width="0.7" />
<line x1="306.50" y1="418.82" x2="453.00" y2="418.82" stroke="#d8d8d8" stroke-width="0.7" />
<line x1="306.50" y1="427.48" x2="453.00" y2="427.48" stroke="#d8d8d8" stroke-width="0.7" />
<line x1="306.50" y1="436.14" x2="453.00" y2="436.14" stroke="#d8d8d8" stroke-width="0.7" />
<text x="307.30" y="407.30" font-size="5.8" font-weight="bold" text-anchor="start" fill="#222" font-family='"Liberation Sans", sans-serif' >Equation</text>
<text x="348.70" y="407.30" font-size="5.8" font-weight="bold" text-anchor="start" fill="#222" font-family='"Liberation Sans", sans-serif' >y = a + b*x</text>
<text x="307.30" y="415.96" font-size="5.8" font-weight="bold" text-anchor="start" fill="#222" font-family='"Liberation Sans", sans-serif' >Adj. R-Square</text>
<text x="381.40" y="415.96" font-size="5.8" font-weight="bold" text-anchor="end" fill="#222" font-family='"Liberation Sans", sans-serif' >0.98916</text>
<text x="383.00" y="424.62" font-size="5.8" font-weight="bold" text-anchor="start" fill="#222" font-family='"Liberation Sans", sans-serif' >Value</text>
<text x="409.40" y="424.62" font-size="5.8" font-weight="bold" text-anchor="start" fill="#222" font-family='"Liberation Sans", sans-serif' >Standard Error</text>
<text x="307.30" y="433.28" font-size="5.8" font-weight="bold" text-anchor="start" fill="#222" font-family='"Liberation Sans", sans-serif' >AB</text>
<text x="348.70" y="433.28" font-size="5.8" font-weight="bold" text-anchor="start" fill="#222" font-family='"Liberation Sans", sans-serif' >Intercept</text>
<text x="407.80" y="433.28" font-size="5.8" font-weight="bold" text-anchor="end" fill="#222" font-family='"Liberation Sans", sans-serif' >0.13977</text>
<text x="452.20" y="433.28" font-size="5.8" font-weight="bold" text-anchor="end" fill="#222" font-family='"Liberation Sans", sans-serif' >0.03273</text>
<text x="307.30" y="441.94" font-size="5.8" font-weight="bold" text-anchor="start" fill="#222" font-family='"Liberation Sans", sans-serif' >AB</text>
<text x="348.70" y="441.94" font-size="5.8" font-weight="bold" text-anchor="start" fill="#222" font-family='"Liberation Sans", sans-serif' >Slope</text>
<text x="407.80" y="441.94" font-size="5.8" font-weight="bold" text-anchor="end" fill="#222" font-family='"Liberation Sans", sans-serif' >0.03478</text>
<text x="452.20" y="441.94" font-size="5.8" font-weight="bold" text-anchor="end" fill="#222" font-family='"Liberation Sans", sans-serif' >0.00182</text>
<polygon points="258.94,429.38 263.94,437.18 253.94,437.18" fill="#000"/>
<polygon points="284.38,408.81 289.38,416.62 279.38,416.62" fill="#000"/>
<polygon points="313.00,380.55 318.00,388.35 308.00,388.35" fill="#000"/>
<polygon points="373.42,345.85 378.42,353.65 368.42,353.65" fill="#000"/>
<polygon points="424.30,311.16 429.30,318.96 419.30,318.96" fill="#000"/>
<line x1="258.94" y1="430.16" x2="424.30" y2="313.96" stroke="#c42626" stroke-width="1.9" /></svg>
</body></html>
